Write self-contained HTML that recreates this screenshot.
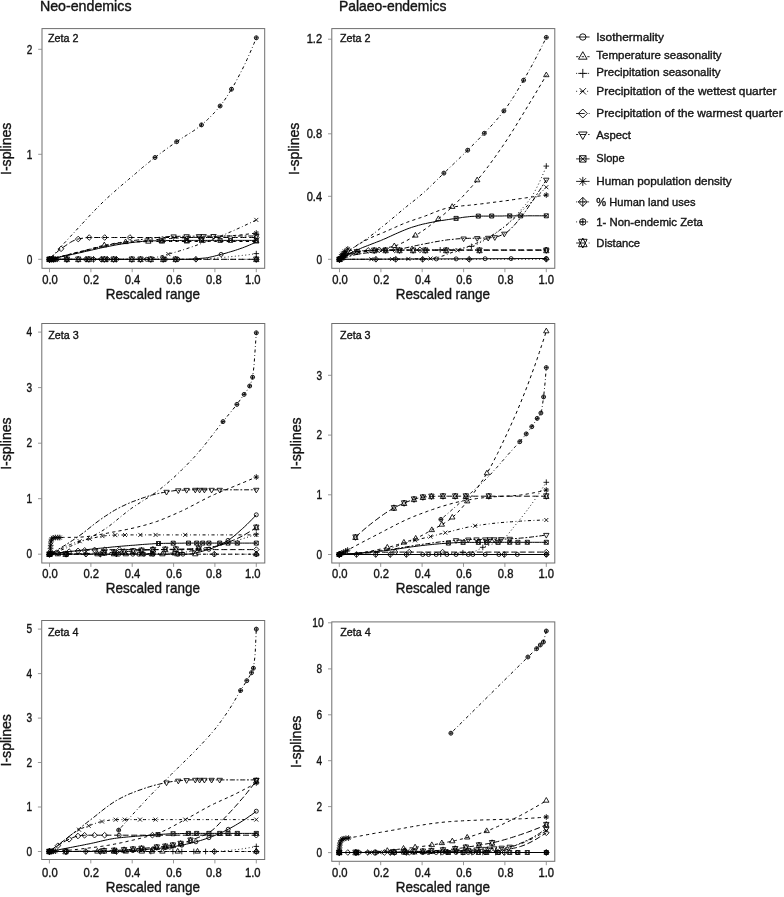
<!DOCTYPE html>
<html><head><meta charset="utf-8"><title>I-splines</title>
<style>html,body{margin:0;padding:0;background:#fff}svg{display:block;will-change:transform}</style>
</head><body>
<svg width="784" height="897" viewBox="0 0 784 897" font-family="'Liberation Sans', sans-serif" fill="#141414" stroke="#141414" stroke-width="0.38">
<rect width="784" height="897" fill="#fff" stroke="none"/>
<text x="39.9" y="11.4" font-size="13.9" textLength="91.6" lengthAdjust="spacingAndGlyphs">Neo-endemics</text>
<text x="339.0" y="11.4" font-size="13.9" textLength="107.4" lengthAdjust="spacingAndGlyphs">Palaeo-endemics</text>
<g><path d="M49.5 259.3L51.8 259.3L54.1 259.3L56.5 259.3L58.8 259.3L61.1 259.3L63.4 259.3L65.8 259.3L68.1 259.3L70.4 259.3L72.7 259.3L75.1 259.3L77.4 259.3L79.7 259.3L82.0 259.3L84.4 259.3L86.7 259.3L89.0 259.3L91.3 259.3L93.6 259.3L96.0 259.3L98.3 259.3L100.6 259.3L102.9 259.3L105.3 259.3L107.6 259.3L109.9 259.3L112.2 259.3L114.6 259.3L116.9 259.3L119.2 259.3L121.5 259.3L123.9 259.3L126.2 259.3L128.5 259.3L130.8 259.3L133.1 259.3L135.5 259.3L137.8 259.3L140.1 259.3L142.4 259.3L144.8 259.3L147.1 259.3L149.4 259.3L151.7 259.3L154.1 259.3L156.4 259.3L158.7 259.3L161.0 259.3L163.4 259.3L165.7 259.3L168.0 259.3L170.3 259.3L172.7 259.3L175.0 259.3L177.3 259.3L179.6 259.3L181.9 259.3L183.9 259.3L184.3 259.3L186.6 259.3L188.9 259.2L191.2 259.1L193.6 259.0L195.9 258.8L198.2 258.6L200.5 258.4L202.9 258.2L204.6 258.0L205.2 258.0L207.5 257.7L209.8 257.2L212.2 256.7L214.5 256.1L216.8 255.5L219.1 254.9L221.1 254.4L221.4 254.3L223.8 253.7L226.1 253.1L228.4 252.4L230.7 251.7L233.1 251.0L235.4 250.3L237.7 249.5L239.8 248.8L240.0 248.7L242.4 247.9L244.7 247.0L247.0 246.1L249.3 245.1L251.7 244.1L254.0 243.0L256.3 242.0" fill="none" stroke="#000" stroke-width="1.0"/><circle cx="49.5" cy="259.3" r="2.0" fill="none" stroke="#000" stroke-width="0.85"/><circle cx="146.7" cy="259.3" r="2.0" fill="none" stroke="#000" stroke-width="0.85"/><circle cx="165.3" cy="259.3" r="2.0" fill="none" stroke="#000" stroke-width="0.85"/><circle cx="177.7" cy="259.3" r="2.0" fill="none" stroke="#000" stroke-width="0.85"/><circle cx="221.1" cy="254.4" r="2.0" fill="none" stroke="#000" stroke-width="0.85"/><path d="M49.5 259.3L51.8 258.7L54.1 258.1L56.5 257.5L58.8 256.9L61.1 256.4L63.4 255.8L65.8 255.2L68.1 254.6L70.2 254.1L70.4 254.0L72.7 253.4L75.1 252.8L77.4 252.2L79.7 251.6L82.0 251.1L84.4 250.5L86.7 249.9L89.0 249.3L90.9 248.8L91.3 248.7L93.6 248.0L96.0 247.4L98.3 246.7L100.6 246.1L102.9 245.5L104.3 245.2L105.3 245.0L107.6 244.6L109.9 244.1L112.2 243.7L114.6 243.3L116.9 242.9L119.2 242.6L121.5 242.3L123.9 242.2L125.6 242.1L126.2 242.1L128.5 242.0L130.8 241.9L133.1 241.9L135.5 241.8L137.8 241.8L140.1 241.8L142.4 241.7L144.8 241.7L147.1 241.6L149.4 241.6L151.7 241.6L154.1 241.6L156.4 241.5L158.7 241.5L161.0 241.5L163.4 241.5L165.7 241.5L168.0 241.5L170.3 241.5L172.7 241.5L173.6 241.5L175.0 241.5L177.3 241.5L179.6 241.5L181.9 241.5L184.3 241.5L186.6 241.5L188.9 241.5L191.2 241.5L193.6 241.5L195.9 241.5L198.2 241.5L200.5 241.5L202.9 241.5L205.2 241.5L207.5 241.5L209.8 241.5L212.2 241.5L214.5 241.5L216.8 241.5L219.1 241.5L221.4 241.5L223.8 241.5L226.1 241.5L228.4 241.5L230.7 241.5L233.1 241.5L235.4 241.5L237.7 241.5L240.0 241.5L242.4 241.5L244.7 241.5L247.0 241.5L249.3 241.5L251.7 241.5L254.0 241.5L256.3 241.5" fill="none" stroke="#000" stroke-width="1.0" stroke-dasharray="3.2 3.2"/><path d="M49.5 256.2L52.2 260.9L46.8 260.9Z" fill="none" stroke="#000" stroke-width="0.85"/><path d="M104.3 242.1L107.0 246.8L101.6 246.8Z" fill="none" stroke="#000" stroke-width="0.85"/><path d="M125.6 239.0L128.3 243.6L122.9 243.6Z" fill="none" stroke="#000" stroke-width="0.85"/><path d="M148.4 238.5L151.0 243.2L145.7 243.2Z" fill="none" stroke="#000" stroke-width="0.85"/><path d="M162.0 238.4L164.7 243.0L159.3 243.0Z" fill="none" stroke="#000" stroke-width="0.85"/><path d="M186.8 238.3L189.5 243.0L184.1 243.0Z" fill="none" stroke="#000" stroke-width="0.85"/><path d="M256.3 238.3L259.0 243.0L253.6 243.0Z" fill="none" stroke="#000" stroke-width="0.85"/><path d="M49.5 259.3L51.8 259.3L54.1 259.3L56.5 259.3L58.8 259.3L61.1 259.3L63.4 259.3L65.8 259.3L68.1 259.3L70.4 259.3L72.7 259.3L75.1 259.3L77.4 259.3L79.7 259.3L82.0 259.3L84.4 259.3L86.7 259.3L89.0 259.3L91.3 259.3L93.6 259.3L96.0 259.3L98.3 259.3L100.6 259.3L102.9 259.3L105.3 259.3L107.6 259.3L109.9 259.3L112.2 259.3L114.6 259.3L116.9 259.3L119.2 259.3L121.5 259.3L123.9 259.3L126.2 259.3L128.5 259.3L130.8 259.3L133.1 259.3L135.5 259.3L137.8 259.3L140.1 259.3L142.4 259.3L144.8 259.3L147.1 259.3L149.4 259.3L151.7 259.3L154.1 259.3L156.4 259.3L158.7 259.3L161.0 259.3L163.4 259.3L165.7 259.3L168.0 259.3L170.3 259.3L172.7 259.3L175.0 259.3L177.3 259.3L179.6 259.3L181.9 259.3L184.3 259.3L186.6 259.3L188.9 259.3L191.2 259.3L193.6 259.3L194.3 259.3L195.9 259.3L198.2 259.2L200.5 259.2L202.9 259.1L205.2 258.9L207.5 258.8L209.8 258.6L212.2 258.4L214.5 258.2L216.8 258.0L219.1 257.8L221.4 257.5L223.8 257.3L225.3 257.2L226.1 257.1L228.4 256.9L230.7 256.7L233.1 256.5L235.4 256.2L237.7 256.0L240.0 255.7L242.4 255.4L244.7 255.2L247.0 254.9L249.3 254.6L251.7 254.3L254.0 253.9L256.3 253.6" fill="none" stroke="#000" stroke-width="1.0" stroke-dasharray="0.9 2.6"/><path d="M46.7 259.3H52.3M49.5 256.5V262.1" fill="none" stroke="#000" stroke-width="0.85"/><path d="M253.5 253.6H259.1M256.3 250.8V256.5" fill="none" stroke="#000" stroke-width="0.85"/><path d="M49.5 259.3L51.8 259.3L54.1 259.3L56.5 259.3L58.8 259.3L61.1 259.3L63.4 259.3L65.8 259.3L68.1 259.3L70.4 259.3L72.7 259.3L75.1 259.3L77.4 259.3L79.7 259.3L82.0 259.3L84.4 259.3L86.7 259.3L89.0 259.3L91.3 259.3L93.6 259.3L96.0 259.3L98.3 259.3L100.6 259.3L102.9 259.3L105.3 259.3L107.6 259.3L109.9 259.3L112.2 259.3L114.6 259.3L116.9 259.3L119.2 259.3L121.5 259.3L123.9 259.3L126.2 259.3L128.5 259.3L130.8 259.3L133.1 259.3L135.5 259.3L137.8 259.3L140.1 259.3L142.4 259.3L142.6 259.3L144.8 259.2L147.1 259.0L149.4 258.7L151.7 258.3L154.1 257.8L156.4 257.3L158.7 256.7L161.0 256.0L163.4 255.4L165.7 254.8L168.0 254.2L168.4 254.1L170.3 253.6L172.7 252.9L175.0 252.3L177.3 251.6L179.6 250.9L181.9 250.2L184.3 249.5L186.6 248.7L188.9 247.9L191.2 247.1L193.6 246.3L195.9 245.5L198.2 244.6L200.5 243.8L202.9 242.9L205.2 242.0L207.5 241.2L209.8 240.3L212.2 239.4L214.5 238.5L214.9 238.3L216.8 237.6L219.1 236.7L221.4 235.7L223.8 234.8L226.1 233.8L228.4 232.8L230.7 231.8L233.1 230.8L235.4 229.8L237.7 228.7L240.0 227.7L242.4 226.6L244.7 225.5L247.0 224.4L249.3 223.3L251.7 222.2L254.0 221.1L256.3 219.9" fill="none" stroke="#000" stroke-width="1.0" stroke-dasharray="0.8 2.55 3.1 2.55"/><path d="M47.5 257.3L51.5 261.3M47.5 261.3L51.5 257.3" fill="none" stroke="#000" stroke-width="0.85"/><path d="M166.4 252.1L170.4 256.1M166.4 256.1L170.4 252.1" fill="none" stroke="#000" stroke-width="0.85"/><path d="M254.3 217.9L258.3 221.9M254.3 221.9L258.3 217.9" fill="none" stroke="#000" stroke-width="0.85"/><path d="M49.5 259.3L51.8 256.9L54.1 254.6L56.5 252.5L58.8 250.5L61.1 248.8L61.1 248.8L63.4 247.1L65.8 245.5L68.1 243.9L70.4 242.4L72.7 241.1L75.1 240.0L77.4 239.2L78.2 239.0L79.7 238.7L82.0 238.3L84.4 237.9L86.7 237.6L89.0 237.5L89.2 237.5L91.3 237.5L93.6 237.5L96.0 237.5L98.3 237.5L100.6 237.5L102.9 237.5L105.3 237.5L107.6 237.5L109.9 237.5L111.5 237.5L112.2 237.5L114.6 237.5L116.9 237.5L119.2 237.5L121.5 237.5L123.9 237.5L126.2 237.5L128.5 237.5L130.8 237.5L133.1 237.5L135.5 237.5L137.8 237.5L140.1 237.5L142.4 237.5L144.8 237.5L147.1 237.5L149.4 237.5L151.7 237.5L154.1 237.5L156.4 237.5L158.7 237.5L161.0 237.5L163.4 237.5L165.7 237.5L168.0 237.5L170.3 237.5L172.7 237.5L175.0 237.5L177.3 237.5L179.6 237.5L181.9 237.5L184.3 237.5L186.6 237.5L188.9 237.5L191.2 237.5L193.6 237.5L195.9 237.5L198.2 237.5L200.5 237.5L202.9 237.5L205.2 237.5L207.5 237.5L209.8 237.5L212.2 237.5L214.5 237.5L216.8 237.5L219.1 237.5L221.4 237.5L223.8 237.5L226.1 237.5L228.4 237.5L230.7 237.5L233.1 237.5L235.4 237.5L237.7 237.5L240.0 237.5L242.4 237.5L244.7 237.5L247.0 237.5L249.3 237.5L251.7 237.5L254.0 237.5L256.3 237.5" fill="none" stroke="#000" stroke-width="1.0" stroke-dasharray="6 2.6"/><path d="M49.5 256.5L52.3 259.3L49.5 262.1L46.7 259.3Z" fill="none" stroke="#000" stroke-width="0.85"/><path d="M61.1 246.0L63.9 248.8L61.1 251.6L58.3 248.8Z" fill="none" stroke="#000" stroke-width="0.85"/><path d="M78.2 236.2L81.1 239.0L78.2 241.9L75.4 239.0Z" fill="none" stroke="#000" stroke-width="0.85"/><path d="M89.2 234.7L92.0 237.5L89.2 240.3L86.4 237.5Z" fill="none" stroke="#000" stroke-width="0.85"/><path d="M104.7 234.7L107.5 237.5L104.7 240.3L101.9 237.5Z" fill="none" stroke="#000" stroke-width="0.85"/><path d="M129.9 234.7L132.8 237.5L129.9 240.3L127.1 237.5Z" fill="none" stroke="#000" stroke-width="0.85"/><path d="M256.3 234.7L259.1 237.5L256.3 240.3L253.5 237.5Z" fill="none" stroke="#000" stroke-width="0.85"/><path d="M49.5 259.3L51.8 258.7L54.1 258.2L56.5 257.6L58.8 257.0L61.1 256.5L63.4 255.9L65.8 255.3L68.1 254.8L70.2 254.3L70.4 254.2L72.7 253.6L75.1 253.1L77.4 252.5L79.7 251.9L82.0 251.3L84.4 250.7L86.7 250.1L89.0 249.6L90.9 249.1L91.3 249.0L93.6 248.4L96.0 247.8L98.3 247.2L100.6 246.7L102.9 246.1L104.3 245.9L105.3 245.7L107.6 245.2L109.9 244.7L112.2 244.3L114.6 243.8L116.9 243.4L119.2 243.0L121.5 242.5L123.9 242.1L126.2 241.7L128.5 241.3L130.8 241.0L133.1 240.6L135.5 240.3L137.8 240.0L140.1 239.7L142.4 239.4L142.6 239.4L144.8 239.1L147.1 238.8L149.4 238.5L151.7 238.2L154.1 237.9L156.4 237.6L158.7 237.4L161.0 237.1L163.4 236.9L165.7 236.8L168.0 236.6L170.3 236.5L172.7 236.4L173.6 236.4L175.0 236.4L177.3 236.4L179.6 236.3L181.9 236.3L184.3 236.3L186.6 236.3L188.9 236.3L191.2 236.2L193.6 236.2L195.9 236.2L198.2 236.2L200.5 236.2L202.9 236.2L205.2 236.1L207.5 236.1L209.8 236.1L212.2 236.1L214.5 236.1L216.8 236.1L219.1 236.1L221.4 236.1L223.8 236.0L226.1 236.0L228.4 236.0L230.7 236.0L233.1 236.0L235.4 236.0L237.7 236.0L240.0 236.0L242.4 236.0L244.7 236.0L247.0 236.0L249.3 236.0L251.7 236.0L254.0 236.0L256.3 236.0" fill="none" stroke="#000" stroke-width="1.0" stroke-dasharray="1.8 1.8 5 1.8"/><path d="M49.5 262.4L52.2 257.7L46.8 257.7Z" fill="none" stroke="#000" stroke-width="0.85"/><path d="M173.6 239.5L176.3 234.9L170.9 234.9Z" fill="none" stroke="#000" stroke-width="0.85"/><path d="M186.6 239.4L189.3 234.7L183.9 234.7Z" fill="none" stroke="#000" stroke-width="0.85"/><path d="M199.0 239.3L201.7 234.6L196.3 234.6Z" fill="none" stroke="#000" stroke-width="0.85"/><path d="M203.6 239.3L206.3 234.6L200.9 234.6Z" fill="none" stroke="#000" stroke-width="0.85"/><path d="M213.5 239.2L216.2 234.5L210.8 234.5Z" fill="none" stroke="#000" stroke-width="0.85"/><path d="M256.3 239.1L259.0 234.4L253.6 234.4Z" fill="none" stroke="#000" stroke-width="0.85"/><path d="M49.5 259.3L51.8 258.8L54.1 258.3L56.5 257.8L58.8 257.3L61.1 256.8L63.4 256.3L65.8 255.8L68.1 255.3L70.2 254.9L70.4 254.8L72.7 254.3L75.1 253.8L77.4 253.3L79.7 252.8L82.0 252.3L84.4 251.7L86.7 251.2L89.0 250.7L90.9 250.3L91.3 250.2L93.6 249.6L96.0 249.1L98.3 248.5L100.6 248.0L102.9 247.5L104.3 247.2L105.3 247.0L107.6 246.6L109.9 246.1L112.2 245.7L114.6 245.2L116.9 244.8L119.2 244.4L121.5 244.0L123.9 243.6L126.2 243.3L128.5 242.9L130.8 242.7L132.2 242.5L133.1 242.4L135.5 242.1L137.8 241.9L140.1 241.7L142.4 241.4L144.8 241.2L147.1 241.1L149.4 240.9L151.7 240.8L152.9 240.8L154.1 240.8L156.4 240.8L158.7 240.7L161.0 240.7L163.4 240.6L165.7 240.6L168.0 240.6L170.3 240.5L172.7 240.5L175.0 240.5L177.3 240.5L179.6 240.5L181.9 240.4L184.3 240.4L186.6 240.4L188.9 240.4L191.2 240.4L193.6 240.4L194.3 240.4L195.9 240.4L198.2 240.4L200.5 240.4L202.9 240.4L205.2 240.4L207.5 240.4L209.8 240.4L212.2 240.4L214.5 240.4L216.8 240.4L219.1 240.4L221.4 240.4L223.8 240.4L226.1 240.4L228.4 240.4L230.7 240.4L233.1 240.4L235.4 240.4L237.7 240.4L240.0 240.4L242.4 240.4L244.7 240.4L247.0 240.4L249.3 240.4L251.7 240.4L254.0 240.4L256.3 240.4" fill="none" stroke="#000" stroke-width="1.0"/><path d="M47.5 257.3H51.5V261.3H47.5ZM47.5 257.3L51.5 261.3M47.5 261.3L51.5 257.3" fill="none" stroke="#000" stroke-width="0.85"/><path d="M159.2 238.7H163.2V242.7H159.2ZM159.2 238.7L163.2 242.7M159.2 242.7L163.2 238.7" fill="none" stroke="#000" stroke-width="0.85"/><path d="M184.6 238.4H188.6V242.4H184.6ZM184.6 238.4L188.6 242.4M184.6 242.4L188.6 238.4" fill="none" stroke="#000" stroke-width="0.85"/><path d="M199.5 238.4H203.5V242.4H199.5ZM199.5 238.4L203.5 242.4M199.5 242.4L203.5 238.4" fill="none" stroke="#000" stroke-width="0.85"/><path d="M218.1 238.4H222.1V242.4H218.1ZM218.1 238.4L222.1 242.4M218.1 242.4L222.1 238.4" fill="none" stroke="#000" stroke-width="0.85"/><path d="M228.5 238.4H232.5V242.4H228.5ZM228.5 238.4L232.5 242.4M228.5 242.4L232.5 238.4" fill="none" stroke="#000" stroke-width="0.85"/><path d="M254.3 238.4H258.3V242.4H254.3ZM254.3 238.4L258.3 242.4M254.3 242.4L258.3 238.4" fill="none" stroke="#000" stroke-width="0.85"/><path d="M49.5 259.3L51.8 258.8L54.1 258.3L56.5 257.7L58.8 257.2L61.1 256.7L63.4 256.1L65.8 255.6L68.1 255.1L70.2 254.6L70.4 254.5L72.7 254.0L75.1 253.4L77.4 252.9L79.7 252.3L82.0 251.7L84.4 251.2L86.7 250.6L89.0 250.1L90.9 249.6L91.3 249.5L93.6 249.0L96.0 248.4L98.3 247.9L100.6 247.3L102.9 246.8L105.3 246.3L107.6 245.8L109.9 245.4L111.5 245.1L112.2 245.0L114.6 244.7L116.9 244.3L119.2 244.0L121.5 243.6L123.9 243.3L126.2 243.0L128.5 242.7L130.8 242.4L133.1 242.1L135.5 241.8L137.8 241.5L140.1 241.2L142.4 241.0L144.8 240.7L147.1 240.5L149.4 240.2L151.7 240.0L154.1 239.8L156.4 239.6L158.7 239.4L161.0 239.2L163.4 239.0L165.7 238.8L168.0 238.7L170.3 238.5L172.7 238.4L173.6 238.3L175.0 238.2L177.3 238.1L179.6 238.0L181.9 237.9L184.3 237.8L186.6 237.7L188.9 237.6L191.2 237.5L193.6 237.4L195.9 237.4L198.2 237.3L200.5 237.2L202.9 237.2L205.2 237.1L207.5 237.0L209.8 236.9L212.2 236.8L214.5 236.7L216.8 236.6L219.1 236.5L221.4 236.4L223.8 236.3L225.3 236.2L226.1 236.1L228.4 236.0L230.7 235.8L233.1 235.6L235.4 235.4L237.7 235.2L240.0 235.0L242.4 234.7L244.7 234.4L247.0 234.2L249.3 233.9L251.7 233.6L254.0 233.3L256.3 233.1" fill="none" stroke="#000" stroke-width="1.0" stroke-dasharray="3.2 3.2"/><path d="M47.5 257.3L51.5 261.3M47.5 261.3L51.5 257.3M46.7 259.3H52.3M49.5 256.5V262.1" fill="none" stroke="#000" stroke-width="0.85"/><path d="M48.3 257.3L52.3 261.3M48.3 261.3L52.3 257.3M47.5 259.3H53.2M50.3 256.5V262.1" fill="none" stroke="#000" stroke-width="0.85"/><path d="M49.2 257.3L53.2 261.3M49.2 261.3L53.2 257.3M48.3 259.3H54.0M51.2 256.5V262.1" fill="none" stroke="#000" stroke-width="0.85"/><path d="M50.2 257.3L54.2 261.3M50.2 261.3L54.2 257.3M49.4 259.3H55.0M52.2 256.5V262.1" fill="none" stroke="#000" stroke-width="0.85"/><path d="M51.6 257.3L55.6 261.3M51.6 261.3L55.6 257.3M50.8 259.3H56.5M53.6 256.5V262.1" fill="none" stroke="#000" stroke-width="0.85"/><path d="M53.7 257.3L57.7 261.3M53.7 261.3L57.7 257.3M52.9 259.3H58.5M55.7 256.5V262.1" fill="none" stroke="#000" stroke-width="0.85"/><path d="M55.4 257.3L59.4 261.3M55.4 261.3L59.4 257.3M54.5 259.3H60.2M57.4 256.5V262.1" fill="none" stroke="#000" stroke-width="0.85"/><path d="M254.3 231.1L258.3 235.1M254.3 235.1L258.3 231.1M253.5 233.1H259.1M256.3 230.2V235.9" fill="none" stroke="#000" stroke-width="0.85"/><path d="M49.5 259.3L256.3 259.3" fill="none" stroke="#000" stroke-width="1.0" stroke-dasharray="0.9 2.6"/><path d="M49.5 256.5L52.3 259.3L49.5 262.1L46.7 259.3ZM46.7 259.3H52.3M49.5 256.5V262.1" fill="none" stroke="#000" stroke-width="0.85"/><path d="M51.6 256.5L54.4 259.3L51.6 262.1L48.7 259.3ZM48.7 259.3H54.4M51.6 256.5V262.1" fill="none" stroke="#000" stroke-width="0.85"/><path d="M66.9 256.5L69.7 259.3L66.9 262.1L64.0 259.3ZM64.0 259.3H69.7M66.9 256.5V262.1" fill="none" stroke="#000" stroke-width="0.85"/><path d="M85.9 256.5L88.7 259.3L85.9 262.1L83.1 259.3ZM83.1 259.3H88.7M85.9 256.5V262.1" fill="none" stroke="#000" stroke-width="0.85"/><path d="M93.5 256.5L96.4 259.3L93.5 262.1L90.7 259.3ZM90.7 259.3H96.4M93.5 256.5V262.1" fill="none" stroke="#000" stroke-width="0.85"/><path d="M101.2 256.5L104.0 259.3L101.2 262.1L98.4 259.3ZM98.4 259.3H104.0M101.2 256.5V262.1" fill="none" stroke="#000" stroke-width="0.85"/><path d="M107.4 256.5L110.2 259.3L107.4 262.1L104.6 259.3ZM104.6 259.3H110.2M107.4 256.5V262.1" fill="none" stroke="#000" stroke-width="0.85"/><path d="M116.5 256.5L119.3 259.3L116.5 262.1L113.7 259.3ZM113.7 259.3H119.3M116.5 256.5V262.1" fill="none" stroke="#000" stroke-width="0.85"/><path d="M195.9 256.5L198.7 259.3L195.9 262.1L193.1 259.3ZM193.1 259.3H198.7M195.9 256.5V262.1" fill="none" stroke="#000" stroke-width="0.85"/><path d="M256.3 256.5L259.1 259.3L256.3 262.1L253.5 259.3ZM253.5 259.3H259.1M256.3 256.5V262.1" fill="none" stroke="#000" stroke-width="0.85"/><path d="M49.5 259.3L51.8 256.7L54.1 254.2L56.5 251.6L58.8 249.1L61.1 246.5L63.4 244.0L65.8 241.5L68.1 239.0L70.2 236.7L70.4 236.5L72.7 234.0L75.1 231.5L77.4 228.9L79.7 226.4L82.0 223.9L84.4 221.4L86.7 218.9L89.0 216.4L91.3 213.9L93.6 211.5L96.0 209.1L98.3 206.7L100.6 204.4L102.9 202.1L104.3 200.8L105.3 199.9L107.6 197.7L109.9 195.6L112.2 193.5L114.6 191.5L116.9 189.4L119.2 187.4L121.5 185.4L123.9 183.4L126.2 181.5L128.5 179.5L130.8 177.5L132.2 176.4L133.1 175.6L135.5 173.6L137.8 171.6L140.1 169.6L142.4 167.6L144.8 165.7L147.1 163.8L149.4 161.9L151.7 160.0L154.1 158.2L155.0 157.5L156.4 156.4L158.7 154.6L161.0 152.9L163.4 151.2L165.7 149.5L168.0 147.8L170.3 146.2L172.7 144.5L175.0 142.9L176.7 141.7L177.3 141.3L179.6 139.7L181.9 138.2L184.3 136.7L186.6 135.2L188.9 133.8L191.2 132.3L193.6 130.8L195.9 129.2L198.2 127.5L200.5 125.7L201.5 124.9L202.9 123.8L205.2 121.7L207.5 119.6L209.8 117.4L212.2 115.0L214.5 112.5L216.8 109.9L219.1 107.2L220.1 106.0L221.4 104.3L223.8 101.2L226.1 97.8L228.4 94.2L230.7 90.4L231.5 89.2L233.1 86.6L235.4 82.5L237.7 78.2L240.0 73.8L242.4 69.2L243.9 66.1L244.7 64.5L247.0 59.5L249.3 54.4L251.7 49.0L254.0 43.5L256.3 37.8" fill="none" stroke="#000" stroke-width="1.0" stroke-dasharray="0.8 2.55 3.1 2.55"/><circle cx="49.5" cy="259.3" r="2.0" fill="none" stroke="#000" stroke-width="0.85"/><path d="M47.5 259.3H51.5M49.5 257.3V261.3" fill="none" stroke="#000" stroke-width="0.85"/><circle cx="155.0" cy="157.5" r="2.0" fill="none" stroke="#000" stroke-width="0.85"/><path d="M153.0 157.5H157.0M155.0 155.5V159.5" fill="none" stroke="#000" stroke-width="0.85"/><circle cx="176.7" cy="141.7" r="2.0" fill="none" stroke="#000" stroke-width="0.85"/><path d="M174.7 141.7H178.7M176.7 139.7V143.7" fill="none" stroke="#000" stroke-width="0.85"/><circle cx="201.5" cy="124.9" r="2.0" fill="none" stroke="#000" stroke-width="0.85"/><path d="M199.5 124.9H203.5M201.5 122.9V126.9" fill="none" stroke="#000" stroke-width="0.85"/><circle cx="220.1" cy="106.0" r="2.0" fill="none" stroke="#000" stroke-width="0.85"/><path d="M218.1 106.0H222.1M220.1 104.0V108.0" fill="none" stroke="#000" stroke-width="0.85"/><circle cx="231.5" cy="89.2" r="2.0" fill="none" stroke="#000" stroke-width="0.85"/><path d="M229.5 89.2H233.5M231.5 87.2V91.2" fill="none" stroke="#000" stroke-width="0.85"/><circle cx="256.3" cy="37.8" r="2.0" fill="none" stroke="#000" stroke-width="0.85"/><path d="M254.3 37.8H258.3M256.3 35.8V39.8" fill="none" stroke="#000" stroke-width="0.85"/><path d="M49.5 259.3L256.3 259.3" fill="none" stroke="#000" stroke-width="1.0" stroke-dasharray="6 2.6"/><path d="M49.5 256.2L52.2 261.6L46.8 261.6ZM49.5 262.4L52.2 257.0L46.8 257.0Z" fill="none" stroke="#000" stroke-width="0.85"/><path d="M53.6 256.2L56.3 261.6L50.9 261.6ZM53.6 262.4L56.3 257.0L50.9 257.0Z" fill="none" stroke="#000" stroke-width="0.85"/><path d="M66.9 256.2L69.6 261.6L64.2 261.6ZM66.9 262.4L69.6 257.0L64.2 257.0Z" fill="none" stroke="#000" stroke-width="0.85"/><path d="M78.2 256.2L80.9 261.6L75.6 261.6ZM78.2 262.4L80.9 257.0L75.6 257.0Z" fill="none" stroke="#000" stroke-width="0.85"/><path d="M88.8 256.2L91.5 261.6L86.1 261.6ZM88.8 262.4L91.5 257.0L86.1 257.0Z" fill="none" stroke="#000" stroke-width="0.85"/><path d="M104.3 256.2L107.0 261.6L101.6 261.6ZM104.3 262.4L107.0 257.0L101.6 257.0Z" fill="none" stroke="#000" stroke-width="0.85"/><path d="M113.6 256.2L116.3 261.6L110.9 261.6ZM113.6 262.4L116.3 257.0L110.9 257.0Z" fill="none" stroke="#000" stroke-width="0.85"/><path d="M131.8 256.2L134.5 261.6L129.1 261.6ZM131.8 262.4L134.5 257.0L129.1 257.0Z" fill="none" stroke="#000" stroke-width="0.85"/><path d="M140.5 256.2L143.2 261.6L137.8 261.6ZM140.5 262.4L143.2 257.0L137.8 257.0Z" fill="none" stroke="#000" stroke-width="0.85"/><path d="M150.8 256.2L153.5 261.6L148.1 261.6ZM150.8 262.4L153.5 257.0L148.1 257.0Z" fill="none" stroke="#000" stroke-width="0.85"/><path d="M163.2 256.2L165.9 261.6L160.5 261.6ZM163.2 262.4L165.9 257.0L160.5 257.0Z" fill="none" stroke="#000" stroke-width="0.85"/><path d="M175.6 256.2L178.3 261.6L173.0 261.6ZM175.6 262.4L178.3 257.0L173.0 257.0Z" fill="none" stroke="#000" stroke-width="0.85"/><path d="M256.3 256.2L259.0 261.6L253.6 261.6ZM256.3 262.4L259.0 257.0L253.6 257.0Z" fill="none" stroke="#000" stroke-width="0.85"/></g>
<rect x="42.0" y="28.6" width="222.7" height="239.7" fill="none" stroke="#6e6e6e" stroke-width="1"/>
<path d="M49.5 268.3v3.9M90.9 268.3v3.9M132.2 268.3v3.9M173.6 268.3v3.9M214.9 268.3v3.9M256.3 268.3v3.9M42.0 49.3h-3.8M42.0 154.3h-3.8M42.0 259.3h-3.8" stroke="#858585" stroke-width="0.85" fill="none"/>
<text x="50.0" y="283.8" font-size="11.9" text-anchor="middle" textLength="15.6" lengthAdjust="spacingAndGlyphs">0.0</text>
<text x="91.3" y="283.8" font-size="11.9" text-anchor="middle" textLength="15.6" lengthAdjust="spacingAndGlyphs">0.2</text>
<text x="132.5" y="283.8" font-size="11.9" text-anchor="middle" textLength="15.6" lengthAdjust="spacingAndGlyphs">0.4</text>
<text x="174.1" y="283.8" font-size="11.9" text-anchor="middle" textLength="15.6" lengthAdjust="spacingAndGlyphs">0.6</text>
<text x="213.9" y="283.8" font-size="11.9" text-anchor="middle" textLength="15.6" lengthAdjust="spacingAndGlyphs">0.8</text>
<text x="252.7" y="283.8" font-size="11.9" text-anchor="middle" textLength="15.6" lengthAdjust="spacingAndGlyphs">1.0</text>
<text x="32.3" y="53.5" font-size="11.9" text-anchor="end" textLength="5.6" lengthAdjust="spacingAndGlyphs">2</text>
<text x="32.3" y="158.5" font-size="11.9" text-anchor="end" textLength="5.6" lengthAdjust="spacingAndGlyphs">1</text>
<text x="32.3" y="263.5" font-size="11.9" text-anchor="end" textLength="5.6" lengthAdjust="spacingAndGlyphs">0</text>
<text x="152.9" y="299.3" font-size="14.8" text-anchor="middle" textLength="94.2" lengthAdjust="spacingAndGlyphs">Rescaled range</text>
<text x="11.2" y="148.8" font-size="15.0" text-anchor="middle" textLength="52.4" lengthAdjust="spacingAndGlyphs" transform="rotate(-90 11.2 148.8)">I-splines</text>
<text x="47.9" y="41.5" font-size="11.4" textLength="30.5" lengthAdjust="spacingAndGlyphs">Zeta 2</text>
<g><path d="M339.5 259.3L546.3 258.5" fill="none" stroke="#000" stroke-width="1.0"/><circle cx="339.5" cy="259.3" r="2.0" fill="none" stroke="#000" stroke-width="0.85"/><circle cx="436.3" cy="258.9" r="2.0" fill="none" stroke="#000" stroke-width="0.85"/><circle cx="456.1" cy="258.9" r="2.0" fill="none" stroke="#000" stroke-width="0.85"/><circle cx="485.1" cy="258.7" r="2.0" fill="none" stroke="#000" stroke-width="0.85"/><circle cx="511.1" cy="258.6" r="2.0" fill="none" stroke="#000" stroke-width="0.85"/><circle cx="546.3" cy="258.5" r="2.0" fill="none" stroke="#000" stroke-width="0.85"/><path d="M339.5 259.3L341.8 258.0L344.1 256.8L346.5 255.8L348.8 254.9L349.8 254.6L351.1 254.2L353.4 253.7L355.8 253.2L358.1 252.7L360.4 252.3L362.7 252.0L365.1 251.6L367.4 251.2L369.7 250.8L370.5 250.6L372.0 250.4L374.4 249.9L376.7 249.6L379.0 249.2L381.3 248.8L383.6 248.4L386.0 248.0L388.3 247.5L390.6 247.0L392.9 246.4L394.3 246.1L395.3 245.8L397.6 245.0L399.9 244.0L402.2 242.9L404.6 241.8L406.9 240.5L409.2 239.2L411.5 237.8L413.9 236.4L415.4 235.5L416.2 235.1L418.5 233.6L420.8 232.1L423.1 230.5L425.5 228.9L427.8 227.2L430.1 225.4L432.4 223.6L434.8 221.8L437.1 220.0L438.4 219.0L439.4 218.1L441.7 216.2L444.1 214.2L446.4 212.2L448.7 210.1L451.0 208.0L452.2 206.9L453.4 205.8L455.7 203.5L458.0 201.2L460.3 198.9L462.7 196.5L465.0 194.0L467.3 191.5L469.6 189.0L471.9 186.4L474.3 183.7L476.6 181.0L477.2 180.2L478.9 178.2L481.2 175.4L483.6 172.4L485.9 169.4L488.2 166.4L490.5 163.2L492.9 160.0L495.2 156.8L497.5 153.5L499.8 150.2L502.2 146.8L504.5 143.4L504.9 142.8L506.8 140.0L509.1 136.4L511.4 132.8L513.8 129.1L516.1 125.3L518.4 121.5L520.7 117.7L523.1 113.9L525.4 110.1L525.6 109.7L527.7 106.3L530.0 102.4L532.4 98.6L534.7 94.7L537.0 90.9L539.3 87.0L541.7 83.1L544.0 79.1L546.3 75.2" fill="none" stroke="#000" stroke-width="1.0" stroke-dasharray="3.2 3.2"/><path d="M339.5 256.2L342.2 260.9L336.8 260.9Z" fill="none" stroke="#000" stroke-width="0.85"/><path d="M394.3 243.0L397.0 247.6L391.6 247.6Z" fill="none" stroke="#000" stroke-width="0.85"/><path d="M415.4 232.4L418.1 237.1L412.7 237.1Z" fill="none" stroke="#000" stroke-width="0.85"/><path d="M438.4 215.9L441.0 220.5L435.7 220.5Z" fill="none" stroke="#000" stroke-width="0.85"/><path d="M452.2 203.7L454.9 208.4L449.5 208.4Z" fill="none" stroke="#000" stroke-width="0.85"/><path d="M477.2 177.1L479.9 181.8L474.5 181.8Z" fill="none" stroke="#000" stroke-width="0.85"/><path d="M546.3 72.1L549.0 76.7L543.6 76.7Z" fill="none" stroke="#000" stroke-width="0.85"/><path d="M339.5 259.3L341.8 257.5L344.1 255.8L346.5 254.4L348.8 253.3L349.8 253.0L351.1 252.7L353.4 252.2L355.8 251.7L358.1 251.3L360.4 251.0L362.7 250.7L365.1 250.4L367.4 250.3L369.7 250.2L370.5 250.2L372.0 250.2L374.4 250.1L376.7 250.1L379.0 250.1L381.3 250.1L383.6 250.1L386.0 250.1L388.3 250.0L390.6 250.0L392.9 250.0L395.3 250.0L397.6 250.0L399.9 250.0L402.2 250.0L404.6 250.0L406.9 250.0L409.2 250.0L411.5 250.0L413.9 250.0L416.2 250.0L418.5 250.0L420.8 250.0L423.1 250.0L425.5 250.0L427.8 250.0L430.1 249.9L432.4 249.9L434.8 249.9L437.1 249.9L439.4 249.9L441.7 249.9L442.9 249.9L444.1 249.8L446.4 249.8L448.7 249.6L451.0 249.5L453.4 249.3L455.7 249.0L458.0 248.7L460.3 248.4L462.7 248.0L465.0 247.6L467.3 247.2L469.6 246.8L471.4 246.4L471.9 246.3L474.3 245.5L476.6 244.6L478.9 243.4L481.2 242.1L483.6 240.8L484.3 240.4L485.9 239.5L488.2 238.1L490.5 236.7L492.9 235.2L495.2 233.6L497.5 232.0L499.8 230.3L502.2 228.5L504.5 226.6L504.9 226.2L506.8 224.6L509.1 222.5L511.4 220.1L513.8 217.7L516.1 215.2L518.4 212.6L519.6 211.3L520.7 210.0L523.1 207.5L525.4 204.8L527.7 202.0L530.0 198.9L531.8 196.3L532.4 195.5L534.7 191.6L537.0 187.2L539.3 182.5L541.7 177.3L544.0 171.9L546.3 166.1" fill="none" stroke="#000" stroke-width="1.0" stroke-dasharray="0.9 2.6"/><path d="M336.7 259.3H342.3M339.5 256.5V262.1" fill="none" stroke="#000" stroke-width="0.85"/><path d="M437.4 249.9H443.0M440.2 247.0V252.7" fill="none" stroke="#000" stroke-width="0.85"/><path d="M468.6 246.4H474.3M471.4 243.6V249.2" fill="none" stroke="#000" stroke-width="0.85"/><path d="M543.5 166.1H549.1M546.3 163.2V168.9" fill="none" stroke="#000" stroke-width="0.85"/><path d="M339.5 259.3L341.8 259.3L344.1 259.3L346.5 259.3L348.8 259.3L351.1 259.3L353.4 259.3L355.8 259.3L358.1 259.3L360.4 259.3L362.7 259.3L365.1 259.3L367.4 259.2L369.7 259.2L372.0 259.2L374.4 259.2L376.7 259.2L379.0 259.2L381.3 259.2L383.6 259.1L386.0 259.1L388.3 259.1L390.6 259.1L392.9 259.1L395.3 259.0L397.6 259.0L399.9 259.0L402.2 259.0L404.6 258.9L406.9 258.9L409.2 258.9L411.5 258.8L413.9 258.8L416.2 258.8L418.5 258.7L420.8 258.7L423.1 258.7L425.5 258.6L427.8 258.6L430.1 258.5L430.5 258.5L432.4 258.4L434.8 258.1L437.1 257.6L439.4 257.0L441.7 256.3L444.1 255.5L446.4 254.6L448.7 253.7L451.0 252.8L453.4 251.9L455.7 251.0L457.6 250.3L458.0 250.2L460.3 249.4L462.7 248.6L465.0 247.7L467.3 246.9L469.6 246.0L471.9 245.1L474.3 244.1L476.6 243.2L478.9 242.1L481.2 241.1L483.6 240.0L484.3 239.6L485.9 238.8L488.2 237.5L490.5 236.1L492.9 234.7L495.2 233.2L497.5 231.6L499.8 230.0L502.2 228.3L504.5 226.6L504.9 226.2L506.8 224.8L509.1 222.8L511.4 220.8L513.8 218.7L516.1 216.5L518.4 214.3L520.7 212.0L523.1 209.8L525.4 207.5L525.6 207.3L527.7 205.3L530.0 203.1L532.4 200.9L534.7 198.6L537.0 196.4L539.3 194.1L541.7 191.8L544.0 189.5L546.3 187.2" fill="none" stroke="#000" stroke-width="1.0" stroke-dasharray="0.8 2.55 3.1 2.55"/><path d="M337.5 257.3L341.5 261.3M337.5 261.3L341.5 257.3" fill="none" stroke="#000" stroke-width="0.85"/><path d="M369.3 257.2L373.3 261.2M369.3 261.2L373.3 257.2" fill="none" stroke="#000" stroke-width="0.85"/><path d="M390.0 257.1L394.0 261.1M390.0 261.1L394.0 257.1" fill="none" stroke="#000" stroke-width="0.85"/><path d="M406.4 256.9L410.4 260.9M406.4 260.9L410.4 256.9" fill="none" stroke="#000" stroke-width="0.85"/><path d="M428.5 256.5L432.5 260.5M428.5 260.5L432.5 256.5" fill="none" stroke="#000" stroke-width="0.85"/><path d="M455.6 248.3L459.6 252.3M455.6 252.3L459.6 248.3" fill="none" stroke="#000" stroke-width="0.85"/><path d="M544.3 185.2L548.3 189.2M544.3 189.2L548.3 185.2" fill="none" stroke="#000" stroke-width="0.85"/><path d="M339.5 259.3L341.8 257.4L344.1 255.7L346.5 254.3L347.8 253.8L348.8 253.5L351.1 252.8L353.4 252.2L355.8 251.7L358.1 251.4L360.2 251.1L360.4 251.1L362.7 250.9L365.1 250.6L367.4 250.5L369.7 250.3L372.0 250.1L374.4 250.0L376.7 249.9L379.0 249.9L380.9 249.9L381.3 249.9L383.6 249.9L386.0 249.9L388.3 249.9L390.6 249.9L392.9 249.9L395.3 249.9L397.6 249.9L399.9 249.9L402.2 249.9L404.6 249.9L406.9 249.9L409.2 249.9L411.5 249.9L413.9 249.9L416.2 249.9L418.5 249.9L420.8 249.9L423.1 249.9L425.5 249.9L427.8 249.9L430.1 249.9L432.4 249.9L434.8 249.9L437.1 249.9L439.4 249.9L441.7 249.9L444.1 249.9L446.4 249.9L448.7 249.9L451.0 249.9L453.4 249.9L455.7 249.9L458.0 249.9L460.3 249.9L462.7 249.9L465.0 249.9L467.3 249.9L469.6 249.9L471.9 249.9L474.3 249.9L476.6 249.9L478.9 249.9L481.2 249.9L483.6 249.9L485.9 249.9L488.2 249.9L490.5 249.9L492.9 249.9L495.2 249.9L497.5 249.9L499.8 249.9L502.2 249.9L504.5 249.9L506.8 249.9L509.1 249.9L511.4 249.9L513.8 249.9L516.1 249.9L518.4 249.9L520.7 249.9L523.1 249.9L525.4 249.9L527.7 249.9L530.0 249.9L532.4 249.9L534.7 249.9L537.0 249.9L539.3 249.9L541.7 249.9L544.0 249.9L546.3 249.9" fill="none" stroke="#000" stroke-width="1.0" stroke-dasharray="6 2.6"/><path d="M339.5 256.5L342.3 259.3L339.5 262.1L336.7 259.3Z" fill="none" stroke="#000" stroke-width="0.85"/><path d="M351.1 250.0L353.9 252.8L351.1 255.6L348.3 252.8Z" fill="none" stroke="#000" stroke-width="0.85"/><path d="M368.2 247.6L371.1 250.4L368.2 253.2L365.4 250.4Z" fill="none" stroke="#000" stroke-width="0.85"/><path d="M379.2 247.0L382.0 249.9L379.2 252.7L376.4 249.9Z" fill="none" stroke="#000" stroke-width="0.85"/><path d="M394.7 247.0L397.5 249.9L394.7 252.7L391.9 249.9Z" fill="none" stroke="#000" stroke-width="0.85"/><path d="M419.9 247.0L422.8 249.9L419.9 252.7L417.1 249.9Z" fill="none" stroke="#000" stroke-width="0.85"/><path d="M546.3 247.0L549.1 249.9L546.3 252.7L543.5 249.9Z" fill="none" stroke="#000" stroke-width="0.85"/><path d="M339.5 259.3L341.8 258.6L344.1 257.8L346.5 257.1L348.8 256.4L351.1 255.8L353.4 255.2L355.8 254.6L358.1 254.2L360.2 253.8L360.4 253.7L362.7 253.4L365.1 253.1L367.4 252.8L369.7 252.5L372.0 252.3L374.4 252.1L376.7 251.8L379.0 251.6L381.3 251.4L383.6 251.2L386.0 251.0L388.3 250.7L390.6 250.5L392.9 250.2L395.3 249.9L395.3 249.9L397.6 249.5L399.9 249.1L402.2 248.6L404.6 248.2L406.9 247.6L409.2 247.1L411.5 246.6L413.9 246.1L416.2 245.6L418.5 245.1L420.8 244.6L422.2 244.3L423.1 244.2L425.5 243.7L427.8 243.3L430.1 242.8L432.4 242.4L434.8 241.9L437.1 241.5L439.4 241.1L441.7 240.7L444.1 240.4L446.4 240.0L448.7 239.7L449.9 239.6L451.0 239.5L453.4 239.3L455.7 239.0L458.0 238.8L460.3 238.7L462.7 238.6L463.6 238.5L465.0 238.5L467.3 238.4L469.6 238.3L471.9 238.3L474.3 238.2L476.6 238.2L478.9 238.2L481.2 238.1L483.6 238.1L485.9 238.0L488.2 237.9L488.4 237.9L490.5 237.7L492.9 237.5L494.8 237.2L495.2 237.2L497.5 236.6L499.8 235.8L502.2 234.8L504.3 233.8L504.5 233.7L506.8 232.3L509.1 230.4L511.4 228.2L513.8 225.8L516.1 223.1L518.4 220.4L520.7 217.6L521.1 217.2L523.1 214.7L525.4 211.5L527.7 208.1L530.0 204.6L531.8 202.0L532.4 201.2L534.7 197.7L537.0 194.2L539.3 190.7L541.7 187.1L544.0 183.5L546.3 179.8" fill="none" stroke="#000" stroke-width="1.0" stroke-dasharray="1.8 1.8 5 1.8"/><path d="M339.5 262.4L342.2 257.7L336.8 257.7Z" fill="none" stroke="#000" stroke-width="0.85"/><path d="M463.6 241.6L466.3 237.0L460.9 237.0Z" fill="none" stroke="#000" stroke-width="0.85"/><path d="M477.2 241.3L479.9 236.6L474.5 236.6Z" fill="none" stroke="#000" stroke-width="0.85"/><path d="M488.2 241.0L490.9 236.3L485.5 236.3Z" fill="none" stroke="#000" stroke-width="0.85"/><path d="M494.8 240.4L497.5 235.7L492.1 235.7Z" fill="none" stroke="#000" stroke-width="0.85"/><path d="M504.3 236.9L507.0 232.2L501.6 232.2Z" fill="none" stroke="#000" stroke-width="0.85"/><path d="M546.3 182.9L549.0 178.2L543.6 178.2Z" fill="none" stroke="#000" stroke-width="0.85"/><path d="M339.5 259.3L341.8 258.0L344.1 256.6L346.5 255.3L348.8 254.1L351.1 252.9L353.4 251.7L355.8 250.6L357.7 249.7L358.1 249.5L360.4 248.5L362.7 247.5L365.1 246.6L367.4 245.7L369.7 244.8L372.0 243.9L374.4 243.0L376.7 242.1L379.0 241.2L380.7 240.6L381.3 240.3L383.6 239.3L386.0 238.3L388.3 237.2L390.6 236.2L392.9 235.1L395.3 234.0L397.6 233.0L399.9 232.0L402.2 231.0L404.6 230.0L406.9 229.1L409.2 228.2L410.0 228.0L411.5 227.4L413.9 226.7L416.2 226.0L418.5 225.3L420.8 224.7L422.2 224.3L423.1 224.1L425.5 223.6L427.8 223.1L430.1 222.6L432.4 222.2L434.8 221.7L437.1 221.3L439.4 220.9L441.7 220.5L444.1 220.2L446.4 219.8L448.7 219.5L449.9 219.3L451.0 219.1L453.4 218.8L455.7 218.5L458.0 218.1L460.3 217.8L462.7 217.4L465.0 217.1L467.3 216.9L469.6 216.6L471.9 216.4L474.3 216.3L476.6 216.2L478.1 216.1L478.9 216.1L481.2 216.1L483.6 216.1L485.9 216.1L488.2 216.1L490.5 216.0L492.9 216.0L495.2 216.0L497.5 216.0L499.8 216.0L502.2 216.0L504.5 215.9L506.8 215.9L509.1 215.9L511.4 215.9L513.8 215.9L516.1 215.9L518.4 215.9L520.7 215.9L523.1 215.9L525.4 215.9L527.7 215.8L530.0 215.8L532.4 215.8L534.7 215.8L537.0 215.8L539.3 215.8L541.7 215.8L544.0 215.8L546.3 215.8" fill="none" stroke="#000" stroke-width="1.0"/><path d="M337.5 257.3H341.5V261.3H337.5ZM337.5 257.3L341.5 261.3M337.5 261.3L341.5 257.3" fill="none" stroke="#000" stroke-width="0.85"/><path d="M454.1 216.4H458.1V220.4H454.1ZM454.1 216.4L458.1 220.4M454.1 220.4L458.1 216.4" fill="none" stroke="#000" stroke-width="0.85"/><path d="M476.3 214.1H480.3V218.1H476.3ZM476.3 214.1L480.3 218.1M476.3 218.1L480.3 214.1" fill="none" stroke="#000" stroke-width="0.85"/><path d="M489.7 214.0H493.7V218.0H489.7ZM489.7 214.0L493.7 218.0M489.7 218.0L493.7 214.0" fill="none" stroke="#000" stroke-width="0.85"/><path d="M507.7 213.9H511.7V217.9H507.7ZM507.7 213.9L511.7 217.9M507.7 217.9L511.7 213.9" fill="none" stroke="#000" stroke-width="0.85"/><path d="M518.7 213.9H522.7V217.9H518.7ZM518.7 213.9L522.7 217.9M518.7 217.9L522.7 213.9" fill="none" stroke="#000" stroke-width="0.85"/><path d="M544.3 213.8H548.3V217.8H544.3ZM544.3 213.8L548.3 217.8M544.3 217.8L548.3 213.8" fill="none" stroke="#000" stroke-width="0.85"/><path d="M339.5 259.3L341.8 257.2L344.1 255.1L346.5 253.1L348.8 251.2L351.1 249.4L353.4 247.8L355.0 246.7L355.8 246.2L358.1 244.7L360.4 243.3L362.7 242.0L365.1 240.7L367.4 239.5L369.7 238.4L371.3 237.6L372.0 237.2L374.4 236.2L376.7 235.2L379.0 234.3L381.3 233.4L383.3 232.5L383.6 232.4L386.0 231.4L388.3 230.4L390.6 229.3L392.9 228.3L395.3 227.3L397.6 226.2L399.9 225.2L402.2 224.2L404.6 223.3L406.9 222.4L407.3 222.2L409.2 221.5L411.5 220.7L413.9 219.9L416.2 219.1L418.5 218.3L420.8 217.6L422.2 217.1L423.1 216.8L425.5 215.9L427.8 215.0L430.1 214.1L432.4 213.1L434.8 212.2L437.1 211.3L439.4 210.4L441.7 209.6L444.1 208.9L446.4 208.2L448.7 207.7L449.9 207.5L451.0 207.3L453.4 206.9L455.7 206.6L458.0 206.3L460.3 206.1L462.7 205.8L465.0 205.6L467.3 205.4L469.6 205.2L471.9 204.9L474.3 204.7L476.0 204.5L476.6 204.4L478.9 204.1L481.2 203.9L483.6 203.6L485.9 203.3L488.2 203.0L490.5 202.7L492.9 202.4L495.2 202.1L497.5 201.8L499.8 201.5L502.2 201.2L502.5 201.2L504.5 200.9L506.8 200.6L509.1 200.3L511.4 199.9L513.8 199.6L516.1 199.2L518.4 198.9L520.7 198.6L523.1 198.2L525.4 197.9L525.6 197.9L527.7 197.6L530.0 197.3L532.4 196.9L534.7 196.6L537.0 196.3L539.3 196.0L541.7 195.7L544.0 195.4L546.3 195.0" fill="none" stroke="#000" stroke-width="1.0" stroke-dasharray="3.2 3.2"/><path d="M337.5 257.3L341.5 261.3M337.5 261.3L341.5 257.3M336.7 259.3H342.3M339.5 256.5V262.1" fill="none" stroke="#000" stroke-width="0.85"/><path d="M338.3 256.0L342.3 260.0M338.3 260.0L342.3 256.0M337.5 258.0H343.2M340.3 255.2V260.9" fill="none" stroke="#000" stroke-width="0.85"/><path d="M339.2 254.5L343.2 258.5M339.2 258.5L343.2 254.5M338.3 256.5H344.0M341.2 253.6V259.3" fill="none" stroke="#000" stroke-width="0.85"/><path d="M340.0 252.6L344.0 256.6M340.0 256.6L344.0 252.6M339.2 254.6H344.8M342.0 251.7V257.4" fill="none" stroke="#000" stroke-width="0.85"/><path d="M341.2 251.6L345.2 255.6M341.2 255.6L345.2 251.6M340.4 253.6H346.1M343.2 250.8V256.5" fill="none" stroke="#000" stroke-width="0.85"/><path d="M342.7 249.4L346.7 253.4M342.7 253.4L346.7 249.4M341.8 251.4H347.5M344.7 248.6V254.3" fill="none" stroke="#000" stroke-width="0.85"/><path d="M344.1 250.1L348.1 254.1M344.1 254.1L348.1 250.1M343.3 252.1H348.9M346.1 249.2V254.9" fill="none" stroke="#000" stroke-width="0.85"/><path d="M345.8 246.9L349.8 250.9M345.8 250.9L349.8 246.9M344.9 248.9H350.6M347.8 246.1V251.7" fill="none" stroke="#000" stroke-width="0.85"/><path d="M341.6 255.4L345.6 259.4M341.6 259.4L345.6 255.4M340.8 257.4H346.5M343.6 254.6V260.2" fill="none" stroke="#000" stroke-width="0.85"/><path d="M343.7 253.5L347.7 257.5M343.7 257.5L347.7 253.5M342.9 255.5H348.5M345.7 252.7V258.3" fill="none" stroke="#000" stroke-width="0.85"/><path d="M340.0 256.7L344.0 260.7M340.0 260.7L344.0 256.7M339.2 258.7H344.8M342.0 255.8V261.5" fill="none" stroke="#000" stroke-width="0.85"/><path d="M544.3 193.0L548.3 197.0M544.3 197.0L548.3 193.0M543.5 195.0H549.1M546.3 192.2V197.9" fill="none" stroke="#000" stroke-width="0.85"/><path d="M339.5 259.3L546.3 259.3" fill="none" stroke="#000" stroke-width="1.0" stroke-dasharray="0.9 2.6"/><path d="M339.5 256.5L342.3 259.3L339.5 262.1L336.7 259.3ZM336.7 259.3H342.3M339.5 256.5V262.1" fill="none" stroke="#000" stroke-width="0.85"/><path d="M375.9 256.5L378.7 259.3L375.9 262.1L373.1 259.3ZM373.1 259.3H378.7M375.9 256.5V262.1" fill="none" stroke="#000" stroke-width="0.85"/><path d="M395.7 256.5L398.6 259.3L395.7 262.1L392.9 259.3ZM392.9 259.3H398.6M395.7 256.5V262.1" fill="none" stroke="#000" stroke-width="0.85"/><path d="M422.6 256.5L425.5 259.3L422.6 262.1L419.8 259.3ZM419.8 259.3H425.5M422.6 256.5V262.1" fill="none" stroke="#000" stroke-width="0.85"/><path d="M469.2 256.5L472.0 259.3L469.2 262.1L466.3 259.3ZM466.3 259.3H472.0M469.2 256.5V262.1" fill="none" stroke="#000" stroke-width="0.85"/><path d="M546.3 256.5L549.1 259.3L546.3 262.1L543.5 259.3ZM543.5 259.3H549.1M546.3 256.5V262.1" fill="none" stroke="#000" stroke-width="0.85"/><path d="M339.5 259.3L341.8 257.2L344.1 255.1L346.5 253.1L348.8 251.2L351.1 249.3L352.9 248.0L353.4 247.6L355.8 246.0L358.1 244.5L360.4 243.0L362.7 241.5L365.1 240.0L365.4 239.8L367.4 238.3L369.7 236.6L372.0 234.8L374.4 233.1L376.7 231.2L379.0 229.4L381.3 227.5L383.6 225.7L385.6 224.1L386.0 223.8L388.3 221.9L390.6 220.0L392.9 218.0L395.3 216.1L397.6 214.1L399.9 212.1L402.2 210.1L404.6 208.2L406.2 206.9L406.9 206.3L409.2 204.4L411.5 202.6L413.9 200.8L416.2 198.9L418.5 197.1L420.8 195.1L422.2 193.9L423.1 193.1L425.5 191.0L427.8 188.9L430.1 186.7L432.4 184.4L434.8 182.1L437.1 179.8L439.4 177.6L441.7 175.3L443.9 173.1L444.1 173.0L446.4 170.8L448.7 168.6L451.0 166.3L453.4 164.1L455.7 161.9L458.0 159.6L460.3 157.4L462.7 155.1L465.0 152.9L467.3 150.6L467.7 150.2L469.6 148.3L471.9 145.9L474.3 143.6L476.6 141.3L478.9 138.9L481.2 136.5L483.6 134.0L484.3 133.3L485.9 131.6L488.2 129.1L490.5 126.6L492.9 124.1L495.2 121.5L497.5 118.8L499.8 116.1L502.2 113.2L503.9 110.9L504.5 110.2L506.8 107.0L509.1 103.6L511.4 100.1L513.8 96.5L516.1 92.7L518.4 88.9L520.7 85.0L523.1 81.1L523.6 80.2L525.4 77.1L527.7 73.0L530.0 68.8L532.4 64.6L534.7 60.3L537.0 55.8L539.3 51.4L541.7 46.8L544.0 42.1L546.3 37.4" fill="none" stroke="#000" stroke-width="1.0" stroke-dasharray="0.8 2.55 3.1 2.55"/><circle cx="339.5" cy="259.3" r="2.0" fill="none" stroke="#000" stroke-width="0.85"/><path d="M337.5 259.3H341.5M339.5 257.3V261.3" fill="none" stroke="#000" stroke-width="0.85"/><circle cx="341.6" cy="257.4" r="2.0" fill="none" stroke="#000" stroke-width="0.85"/><path d="M339.6 257.4H343.6M341.6 255.4V259.4" fill="none" stroke="#000" stroke-width="0.85"/><circle cx="343.6" cy="255.5" r="2.0" fill="none" stroke="#000" stroke-width="0.85"/><path d="M341.6 255.5H345.6M343.6 253.5V257.5" fill="none" stroke="#000" stroke-width="0.85"/><circle cx="443.9" cy="173.1" r="2.0" fill="none" stroke="#000" stroke-width="0.85"/><path d="M441.9 173.1H445.9M443.9 171.1V175.1" fill="none" stroke="#000" stroke-width="0.85"/><circle cx="467.7" cy="150.2" r="2.0" fill="none" stroke="#000" stroke-width="0.85"/><path d="M465.7 150.2H469.7M467.7 148.2V152.2" fill="none" stroke="#000" stroke-width="0.85"/><circle cx="484.3" cy="133.3" r="2.0" fill="none" stroke="#000" stroke-width="0.85"/><path d="M482.3 133.3H486.3M484.3 131.3V135.3" fill="none" stroke="#000" stroke-width="0.85"/><circle cx="503.9" cy="110.9" r="2.0" fill="none" stroke="#000" stroke-width="0.85"/><path d="M501.9 110.9H505.9M503.9 108.9V112.9" fill="none" stroke="#000" stroke-width="0.85"/><circle cx="523.6" cy="80.2" r="2.0" fill="none" stroke="#000" stroke-width="0.85"/><path d="M521.6 80.2H525.6M523.6 78.2V82.2" fill="none" stroke="#000" stroke-width="0.85"/><circle cx="546.3" cy="37.4" r="2.0" fill="none" stroke="#000" stroke-width="0.85"/><path d="M544.3 37.4H548.3M546.3 35.4V39.4" fill="none" stroke="#000" stroke-width="0.85"/><path d="M339.5 259.3L341.8 257.7L344.1 256.3L346.5 255.1L347.8 254.6L348.8 254.2L351.1 253.4L353.4 252.7L355.8 252.1L358.1 251.7L360.2 251.4L360.4 251.4L362.7 251.2L365.1 251.0L367.4 250.8L369.7 250.7L372.0 250.6L374.4 250.5L376.7 250.4L379.0 250.3L380.9 250.3L381.3 250.3L383.6 250.3L386.0 250.3L388.3 250.3L390.6 250.3L392.9 250.3L395.3 250.3L397.6 250.3L399.9 250.3L402.2 250.3L404.6 250.3L406.9 250.3L409.2 250.3L411.5 250.3L413.9 250.3L416.2 250.3L418.5 250.3L420.8 250.3L423.1 250.3L425.5 250.3L427.8 250.3L430.1 250.3L432.4 250.3L434.8 250.3L437.1 250.3L439.4 250.3L441.7 250.3L444.1 250.3L446.4 250.3L448.7 250.3L451.0 250.3L453.4 250.3L455.7 250.3L458.0 250.3L460.3 250.3L462.7 250.3L465.0 250.3L467.3 250.3L469.6 250.3L471.9 250.3L474.3 250.3L476.6 250.3L478.9 250.3L481.2 250.3L483.6 250.3L485.9 250.3L488.2 250.3L490.5 250.3L492.9 250.3L495.2 250.3L497.5 250.3L499.8 250.3L502.2 250.3L504.5 250.3L506.8 250.3L509.1 250.3L511.4 250.3L513.8 250.3L516.1 250.3L518.4 250.3L520.7 250.3L523.1 250.3L525.4 250.3L527.7 250.3L530.0 250.3L532.4 250.3L534.7 250.3L537.0 250.3L539.3 250.3L541.7 250.3L544.0 250.3L546.3 250.3" fill="none" stroke="#000" stroke-width="1.0" stroke-dasharray="6 2.6"/><path d="M339.5 256.2L342.2 261.6L336.8 261.6ZM339.5 262.4L342.2 257.0L336.8 257.0Z" fill="none" stroke="#000" stroke-width="0.85"/><path d="M356.9 248.8L359.6 254.2L354.2 254.2ZM356.9 255.0L359.6 249.6L354.2 249.6Z" fill="none" stroke="#000" stroke-width="0.85"/><path d="M374.2 247.3L376.9 252.8L371.5 252.8ZM374.2 253.6L376.9 248.1L371.5 248.1Z" fill="none" stroke="#000" stroke-width="0.85"/><path d="M385.6 247.2L388.3 252.7L382.9 252.7ZM385.6 253.4L388.3 248.0L382.9 248.0Z" fill="none" stroke="#000" stroke-width="0.85"/><path d="M399.5 247.2L402.2 252.7L396.8 252.7ZM399.5 253.4L402.2 248.0L396.8 248.0Z" fill="none" stroke="#000" stroke-width="0.85"/><path d="M413.1 247.2L415.8 252.7L410.4 252.7ZM413.1 253.4L415.8 248.0L410.4 248.0Z" fill="none" stroke="#000" stroke-width="0.85"/><path d="M425.3 247.2L428.0 252.7L422.6 252.7ZM425.3 253.4L428.0 248.0L422.6 248.0Z" fill="none" stroke="#000" stroke-width="0.85"/><path d="M446.2 247.2L448.9 252.7L443.5 252.7ZM446.2 253.4L448.9 248.0L443.5 248.0Z" fill="none" stroke="#000" stroke-width="0.85"/><path d="M479.5 247.2L482.2 252.7L476.8 252.7ZM479.5 253.4L482.2 248.0L476.8 248.0Z" fill="none" stroke="#000" stroke-width="0.85"/><path d="M546.3 247.2L549.0 252.7L543.6 252.7ZM546.3 253.4L549.0 248.0L543.6 248.0Z" fill="none" stroke="#000" stroke-width="0.85"/></g>
<rect x="331.8" y="28.6" width="223.0" height="239.7" fill="none" stroke="#6e6e6e" stroke-width="1"/>
<path d="M339.5 268.3v3.9M380.9 268.3v3.9M422.2 268.3v3.9M463.6 268.3v3.9M504.9 268.3v3.9M546.3 268.3v3.9M331.8 39.2h-3.8M331.8 133.8h-3.8M331.8 196.3h-3.8M331.8 259.3h-3.8" stroke="#858585" stroke-width="0.85" fill="none"/>
<text x="340.0" y="283.7" font-size="11.9" text-anchor="middle" textLength="15.6" lengthAdjust="spacingAndGlyphs">0.0</text>
<text x="381.4" y="283.7" font-size="11.9" text-anchor="middle" textLength="15.6" lengthAdjust="spacingAndGlyphs">0.2</text>
<text x="422.7" y="283.7" font-size="11.9" text-anchor="middle" textLength="15.6" lengthAdjust="spacingAndGlyphs">0.4</text>
<text x="464.1" y="283.7" font-size="11.9" text-anchor="middle" textLength="15.6" lengthAdjust="spacingAndGlyphs">0.6</text>
<text x="505.6" y="283.7" font-size="11.9" text-anchor="middle" textLength="15.6" lengthAdjust="spacingAndGlyphs">0.8</text>
<text x="546.3" y="283.7" font-size="11.9" text-anchor="middle" textLength="15.6" lengthAdjust="spacingAndGlyphs">1.0</text>
<text x="322.1" y="43.4" font-size="11.9" text-anchor="end" textLength="15.4" lengthAdjust="spacingAndGlyphs">1.2</text>
<text x="322.1" y="137.9" font-size="11.9" text-anchor="end" textLength="15.4" lengthAdjust="spacingAndGlyphs">0.8</text>
<text x="322.1" y="200.5" font-size="11.9" text-anchor="end" textLength="15.4" lengthAdjust="spacingAndGlyphs">0.4</text>
<text x="322.1" y="263.5" font-size="11.9" text-anchor="end" textLength="5.6" lengthAdjust="spacingAndGlyphs">0</text>
<text x="442.9" y="299.3" font-size="14.8" text-anchor="middle" textLength="94.2" lengthAdjust="spacingAndGlyphs">Rescaled range</text>
<text x="298.6" y="148.8" font-size="15.0" text-anchor="middle" textLength="52.4" lengthAdjust="spacingAndGlyphs" transform="rotate(-90 298.6 148.8)">I-splines</text>
<text x="339.9" y="41.5" font-size="11.4" textLength="30.5" lengthAdjust="spacingAndGlyphs">Zeta 2</text>
<g><path d="M49.5 554.2L51.8 554.2L54.1 554.2L56.5 554.2L58.8 554.2L61.1 554.2L63.4 554.2L65.8 554.2L68.1 554.2L70.4 554.2L72.7 554.2L75.1 554.2L77.4 554.2L79.7 554.2L82.0 554.2L84.4 554.2L86.7 554.2L89.0 554.2L91.3 554.2L93.6 554.2L96.0 554.2L98.3 554.2L100.6 554.2L102.9 554.2L105.3 554.2L107.6 554.2L109.9 554.2L112.2 554.2L114.6 554.2L116.9 554.2L119.2 554.2L121.5 554.2L123.9 554.2L126.2 554.2L128.5 554.2L130.8 554.2L133.1 554.2L135.5 554.2L137.8 554.2L140.1 554.2L142.4 554.2L144.8 554.2L147.1 554.2L149.4 554.2L151.7 554.2L154.1 554.2L156.4 554.2L158.7 554.2L161.0 554.2L163.4 554.2L165.7 554.2L168.0 554.2L170.3 554.2L172.7 554.2L175.0 554.2L177.3 554.2L179.6 554.2L181.9 554.2L184.3 554.2L186.0 554.2L186.6 554.2L188.9 554.1L191.2 553.8L193.6 553.5L195.9 553.0L198.2 552.4L200.5 551.8L202.9 551.1L205.2 550.4L207.5 549.7L208.9 549.3L209.8 549.0L212.2 548.3L214.5 547.4L216.8 546.3L219.1 545.3L221.4 544.1L223.8 542.8L226.1 541.5L228.0 540.4L228.4 540.1L230.7 538.5L233.1 536.8L235.4 534.9L237.7 532.9L240.0 530.8L241.8 529.2L242.4 528.7L244.7 526.6L247.0 524.4L249.3 522.1L251.7 519.7L254.0 517.3L256.3 514.8" fill="none" stroke="#000" stroke-width="1.0"/><circle cx="49.5" cy="554.2" r="2.0" fill="none" stroke="#000" stroke-width="0.85"/><circle cx="66.9" cy="554.2" r="2.0" fill="none" stroke="#000" stroke-width="0.85"/><circle cx="118.8" cy="554.2" r="2.0" fill="none" stroke="#000" stroke-width="0.85"/><circle cx="132.8" cy="554.2" r="2.0" fill="none" stroke="#000" stroke-width="0.85"/><circle cx="138.6" cy="554.2" r="2.0" fill="none" stroke="#000" stroke-width="0.85"/><circle cx="144.0" cy="554.2" r="2.0" fill="none" stroke="#000" stroke-width="0.85"/><circle cx="153.1" cy="554.2" r="2.0" fill="none" stroke="#000" stroke-width="0.85"/><circle cx="177.7" cy="554.2" r="2.0" fill="none" stroke="#000" stroke-width="0.85"/><circle cx="182.9" cy="554.2" r="2.0" fill="none" stroke="#000" stroke-width="0.85"/><circle cx="208.9" cy="549.3" r="2.0" fill="none" stroke="#000" stroke-width="0.85"/><circle cx="228.0" cy="540.4" r="2.0" fill="none" stroke="#000" stroke-width="0.85"/><circle cx="256.3" cy="514.8" r="2.0" fill="none" stroke="#000" stroke-width="0.85"/><path d="M49.5 554.2L256.3 554.2" fill="none" stroke="#000" stroke-width="1.0" stroke-dasharray="3.2 3.2"/><path d="M49.5 551.1L52.2 555.8L46.8 555.8Z" fill="none" stroke="#000" stroke-width="0.85"/><path d="M57.8 551.1L60.5 555.8L55.1 555.8Z" fill="none" stroke="#000" stroke-width="0.85"/><path d="M97.5 551.1L100.2 555.8L94.8 555.8Z" fill="none" stroke="#000" stroke-width="0.85"/><path d="M114.0 551.1L116.7 555.8L111.3 555.8Z" fill="none" stroke="#000" stroke-width="0.85"/><path d="M125.8 551.1L128.5 555.8L123.1 555.8Z" fill="none" stroke="#000" stroke-width="0.85"/><path d="M141.9 551.1L144.6 555.8L139.2 555.8Z" fill="none" stroke="#000" stroke-width="0.85"/><path d="M151.9 551.1L154.6 555.8L149.2 555.8Z" fill="none" stroke="#000" stroke-width="0.85"/><path d="M162.4 551.1L165.1 555.8L159.7 555.8Z" fill="none" stroke="#000" stroke-width="0.85"/><path d="M177.3 551.1L180.0 555.8L174.6 555.8Z" fill="none" stroke="#000" stroke-width="0.85"/><path d="M195.3 551.1L198.0 555.8L192.6 555.8Z" fill="none" stroke="#000" stroke-width="0.85"/><path d="M256.3 551.1L259.0 555.8L253.6 555.8Z" fill="none" stroke="#000" stroke-width="0.85"/><path d="M49.5 554.2L51.8 554.2L54.1 554.2L56.5 554.2L58.8 554.2L61.1 554.2L63.4 554.2L65.8 554.2L68.1 554.2L70.4 554.2L72.7 554.2L75.1 554.2L77.4 554.2L79.7 554.1L82.0 554.1L84.4 554.1L86.7 554.1L89.0 554.1L91.3 554.1L93.6 554.1L96.0 554.1L98.3 554.1L100.6 554.0L102.9 554.0L105.3 554.0L107.6 554.0L109.9 554.0L112.2 554.0L114.6 553.9L116.9 553.9L119.2 553.9L121.5 553.9L123.9 553.8L126.2 553.8L128.5 553.8L130.8 553.8L133.1 553.7L135.5 553.7L137.8 553.7L140.1 553.7L142.4 553.6L144.8 553.6L147.1 553.6L149.4 553.5L151.7 553.5L154.1 553.4L156.4 553.4L158.7 553.4L161.0 553.3L163.4 553.3L165.7 553.2L168.0 553.2L170.3 553.2L172.7 553.1L173.6 553.1L175.0 553.0L177.3 552.9L179.6 552.7L181.9 552.5L184.3 552.2L186.6 551.9L188.9 551.5L191.2 551.1L193.6 550.7L195.9 550.3L198.2 549.9L200.5 549.4L202.9 549.0L204.6 548.7L205.2 548.5L207.5 548.1L209.8 547.6L212.2 547.1L214.5 546.6L216.8 546.0L219.1 545.4L221.4 544.8L223.8 544.2L226.1 543.6L228.4 542.9L230.7 542.3L233.1 541.6L235.4 540.9L235.6 540.9L237.7 540.3L240.0 539.6L242.4 538.9L244.7 538.1L247.0 537.4L249.3 536.6L251.7 535.8L254.0 535.0L256.3 534.2" fill="none" stroke="#000" stroke-width="1.0" stroke-dasharray="0.9 2.6"/><path d="M46.7 554.2H52.3M49.5 551.4V557.0" fill="none" stroke="#000" stroke-width="0.85"/><path d="M148.0 553.5H153.7M150.8 550.7V556.3" fill="none" stroke="#000" stroke-width="0.85"/><path d="M170.1 553.1H175.8M173.0 550.3V555.9" fill="none" stroke="#000" stroke-width="0.85"/><path d="M179.0 552.5H184.7M181.9 549.7V555.3" fill="none" stroke="#000" stroke-width="0.85"/><path d="M190.0 550.9H195.6M192.8 548.0V553.7" fill="none" stroke="#000" stroke-width="0.85"/><path d="M253.5 534.2H259.1M256.3 531.4V537.0" fill="none" stroke="#000" stroke-width="0.85"/><path d="M49.5 554.2L51.8 553.0L54.1 551.9L56.5 550.8L58.8 549.7L59.8 549.2L61.1 548.6L63.4 547.6L65.8 546.5L68.1 545.5L70.4 544.5L72.7 543.5L75.1 542.7L77.4 541.9L79.7 541.2L79.7 541.2L82.0 540.6L84.4 540.0L86.7 539.5L89.0 539.1L89.8 538.9L91.3 538.5L93.6 538.0L96.0 537.4L98.3 536.8L100.6 536.4L102.4 536.1L102.9 536.0L105.3 535.8L107.6 535.5L109.9 535.3L112.2 535.2L114.6 535.1L115.3 535.1L116.9 535.0L119.2 535.0L121.5 535.0L123.9 535.0L126.2 535.0L128.5 534.9L130.8 534.9L132.2 534.9L133.1 534.9L135.5 534.9L137.8 534.9L140.1 534.9L142.4 534.9L144.8 534.9L147.1 534.9L149.4 534.9L151.7 534.9L154.1 534.9L156.4 534.9L158.7 534.9L161.0 534.9L163.4 534.9L165.7 534.9L168.0 534.9L170.3 534.9L172.7 534.9L175.0 534.9L177.3 534.9L179.6 534.9L181.9 534.9L184.3 534.9L186.6 534.9L188.9 534.9L191.2 534.9L193.6 534.9L195.9 534.9L198.2 534.9L200.5 534.9L202.9 534.9L205.2 534.9L207.5 534.9L209.8 534.9L212.2 534.9L214.5 534.9L216.8 534.9L219.1 534.9L221.4 534.9L223.8 534.9L226.1 534.9L228.4 534.9L230.7 534.9L233.1 534.9L235.4 534.9L237.7 534.9L240.0 534.9L242.4 534.9L244.7 534.9L247.0 534.9L249.3 534.9L251.7 534.9L254.0 534.9L256.3 534.9" fill="none" stroke="#000" stroke-width="1.0" stroke-dasharray="0.8 2.55 3.1 2.55"/><path d="M47.5 552.2L51.5 556.2M47.5 556.2L51.5 552.2" fill="none" stroke="#000" stroke-width="0.85"/><path d="M77.7 539.2L81.7 543.2M77.7 543.2L81.7 539.2" fill="none" stroke="#000" stroke-width="0.85"/><path d="M87.8 536.9L91.8 540.9M87.8 540.9L91.8 536.9" fill="none" stroke="#000" stroke-width="0.85"/><path d="M100.4 534.1L104.4 538.1M100.4 538.1L104.4 534.1" fill="none" stroke="#000" stroke-width="0.85"/><path d="M113.3 533.1L117.3 537.1M113.3 537.1L117.3 533.1" fill="none" stroke="#000" stroke-width="0.85"/><path d="M123.0 533.0L127.0 537.0M123.0 537.0L127.0 533.0" fill="none" stroke="#000" stroke-width="0.85"/><path d="M138.3 532.9L142.3 536.9M138.3 536.9L142.3 532.9" fill="none" stroke="#000" stroke-width="0.85"/><path d="M153.6 532.9L157.6 536.9M153.6 536.9L157.6 532.9" fill="none" stroke="#000" stroke-width="0.85"/><path d="M183.2 532.9L187.2 536.9M183.2 536.9L187.2 532.9" fill="none" stroke="#000" stroke-width="0.85"/><path d="M254.3 532.9L258.3 536.9M254.3 536.9L258.3 532.9" fill="none" stroke="#000" stroke-width="0.85"/><path d="M49.5 554.2L51.8 553.8L54.1 553.5L56.5 553.1L58.8 552.8L61.1 552.5L61.1 552.5L63.4 552.3L65.8 552.0L68.1 551.8L70.4 551.5L72.7 551.3L75.1 551.1L77.4 550.9L78.2 550.9L79.7 550.8L82.0 550.6L84.4 550.4L86.7 550.2L89.0 550.1L90.9 550.0L91.3 550.0L93.6 550.0L96.0 549.9L98.3 549.9L100.6 549.9L102.9 549.8L105.3 549.8L107.6 549.8L109.9 549.7L112.2 549.7L114.6 549.7L116.9 549.7L119.2 549.6L121.5 549.6L123.9 549.6L126.2 549.6L128.5 549.6L130.8 549.6L132.2 549.6L133.1 549.6L135.5 549.6L137.8 549.6L140.1 549.6L142.4 549.6L144.8 549.6L147.1 549.6L149.4 549.6L151.7 549.6L154.1 549.6L156.4 549.6L158.7 549.6L161.0 549.6L163.4 549.6L165.7 549.6L168.0 549.6L170.3 549.6L172.7 549.6L175.0 549.6L177.3 549.6L179.6 549.6L181.9 549.6L184.3 549.6L186.6 549.6L188.9 549.6L191.2 549.6L193.6 549.6L195.9 549.6L198.2 549.6L200.5 549.6L202.9 549.6L205.2 549.6L207.5 549.6L209.8 549.6L212.2 549.6L214.5 549.6L216.8 549.6L219.1 549.6L221.4 549.6L223.8 549.6L226.1 549.6L228.4 549.6L230.7 549.6L233.1 549.6L235.4 549.6L237.7 549.6L240.0 549.6L242.4 549.6L244.7 549.6L247.0 549.6L249.3 549.6L251.7 549.6L254.0 549.6L256.3 549.6" fill="none" stroke="#000" stroke-width="1.0" stroke-dasharray="6 2.6"/><path d="M49.5 551.4L52.3 554.2L49.5 557.0L46.7 554.2Z" fill="none" stroke="#000" stroke-width="0.85"/><path d="M58.0 550.1L60.8 552.9L58.0 555.8L55.2 552.9Z" fill="none" stroke="#000" stroke-width="0.85"/><path d="M69.1 548.8L72.0 551.7L69.1 554.5L66.3 551.7Z" fill="none" stroke="#000" stroke-width="0.85"/><path d="M78.0 548.1L80.9 550.9L78.0 553.7L75.2 550.9Z" fill="none" stroke="#000" stroke-width="0.85"/><path d="M84.7 547.5L87.5 550.4L84.7 553.2L81.8 550.4Z" fill="none" stroke="#000" stroke-width="0.85"/><path d="M94.6 547.1L97.4 550.0L94.6 552.8L91.8 550.0Z" fill="none" stroke="#000" stroke-width="0.85"/><path d="M104.7 547.0L107.5 549.8L104.7 552.6L101.9 549.8Z" fill="none" stroke="#000" stroke-width="0.85"/><path d="M119.4 546.8L122.2 549.6L119.4 552.5L116.6 549.6Z" fill="none" stroke="#000" stroke-width="0.85"/><path d="M152.5 546.8L155.3 549.6L152.5 552.4L149.7 549.6Z" fill="none" stroke="#000" stroke-width="0.85"/><path d="M256.3 546.8L259.1 549.6L256.3 552.4L253.5 549.6Z" fill="none" stroke="#000" stroke-width="0.85"/><path d="M49.5 554.2L51.8 552.9L54.1 551.7L56.5 550.3L58.8 549.0L61.1 547.6L63.4 546.2L65.8 544.8L68.1 543.3L70.4 541.8L72.7 540.3L75.1 538.7L76.8 537.6L77.4 537.1L79.7 535.5L82.0 533.8L84.4 532.0L86.7 530.2L89.0 528.3L91.3 526.5L93.6 524.6L96.0 522.8L98.3 521.1L100.6 519.4L101.2 519.0L102.9 517.8L105.3 516.2L107.6 514.7L109.9 513.2L112.2 511.7L114.6 510.3L116.5 509.2L116.9 509.0L119.2 507.8L121.5 506.6L123.9 505.5L126.2 504.4L128.5 503.4L130.8 502.4L131.8 502.0L133.1 501.5L135.5 500.6L137.8 499.8L140.1 498.9L142.4 498.1L144.8 497.3L147.1 496.5L149.4 495.8L151.7 495.1L154.1 494.5L156.4 493.9L158.7 493.4L159.9 493.2L161.0 492.9L163.4 492.5L165.7 492.0L168.0 491.6L170.3 491.2L172.7 490.9L175.0 490.6L177.3 490.4L178.3 490.4L179.6 490.3L181.9 490.2L184.3 490.1L186.6 490.0L188.9 489.9L191.2 489.8L193.6 489.8L194.3 489.8L195.9 489.8L198.2 489.8L200.5 489.8L202.9 489.8L205.2 489.8L207.5 489.8L209.8 489.8L212.2 489.8L214.5 489.8L216.8 489.8L219.1 489.8L221.4 489.8L223.8 489.8L226.1 489.8L228.4 489.8L230.7 489.8L233.1 489.8L235.4 489.8L237.7 489.8L240.0 489.8L242.4 489.8L244.7 489.8L247.0 489.8L249.3 489.8L251.7 489.8L254.0 489.8L256.3 489.8" fill="none" stroke="#000" stroke-width="1.0" stroke-dasharray="1.8 1.8 5 1.8"/><path d="M49.5 557.3L52.2 552.6L46.8 552.6Z" fill="none" stroke="#000" stroke-width="0.85"/><path d="M166.5 495.0L169.2 490.3L163.9 490.3Z" fill="none" stroke="#000" stroke-width="0.85"/><path d="M178.3 493.5L181.0 488.8L175.6 488.8Z" fill="none" stroke="#000" stroke-width="0.85"/><path d="M186.6 493.1L189.3 488.4L183.9 488.4Z" fill="none" stroke="#000" stroke-width="0.85"/><path d="M195.3 492.9L198.0 488.3L192.6 488.3Z" fill="none" stroke="#000" stroke-width="0.85"/><path d="M199.6 492.9L202.3 488.3L196.9 488.3Z" fill="none" stroke="#000" stroke-width="0.85"/><path d="M204.4 492.9L207.1 488.3L201.7 488.3Z" fill="none" stroke="#000" stroke-width="0.85"/><path d="M211.6 492.9L214.3 488.3L208.9 488.3Z" fill="none" stroke="#000" stroke-width="0.85"/><path d="M219.7 492.9L222.4 488.3L217.0 488.3Z" fill="none" stroke="#000" stroke-width="0.85"/><path d="M256.3 492.9L259.0 488.3L253.6 488.3Z" fill="none" stroke="#000" stroke-width="0.85"/><path d="M49.5 554.2L51.8 553.9L54.1 553.6L56.5 553.3L58.8 553.0L61.1 552.7L63.4 552.4L65.8 552.1L68.1 551.8L70.4 551.5L72.7 551.2L75.1 551.0L77.4 550.7L79.7 550.4L82.0 550.2L84.4 549.9L86.7 549.7L89.0 549.4L90.9 549.2L91.3 549.2L93.6 548.9L96.0 548.7L98.3 548.4L100.6 548.2L102.9 548.0L105.3 547.7L107.6 547.5L109.9 547.3L112.2 547.0L114.6 546.8L116.9 546.6L119.2 546.4L121.5 546.2L123.9 546.0L126.2 545.8L128.5 545.6L130.8 545.4L132.2 545.3L133.1 545.3L135.5 545.1L137.8 544.9L140.1 544.7L142.4 544.5L144.8 544.3L147.1 544.2L149.4 544.0L151.7 543.9L154.1 543.7L156.4 543.6L158.7 543.5L161.0 543.4L163.2 543.4L163.4 543.4L165.7 543.3L168.0 543.3L170.3 543.3L172.7 543.2L175.0 543.2L177.3 543.2L179.6 543.2L181.9 543.2L184.3 543.1L186.6 543.1L188.9 543.1L191.2 543.1L193.6 543.1L194.3 543.1L195.9 543.1L198.2 543.1L200.5 543.1L202.9 543.1L205.2 543.1L207.5 543.1L209.8 543.1L212.2 543.1L214.5 543.1L216.8 543.1L219.1 543.1L221.4 543.1L223.8 543.1L226.1 543.1L228.4 543.1L230.7 543.1L233.1 543.1L235.4 543.1L237.7 543.1L240.0 543.1L242.4 543.1L244.7 543.1L247.0 543.1L249.3 543.1L251.7 543.1L254.0 543.1L256.3 543.1" fill="none" stroke="#000" stroke-width="1.0"/><path d="M47.5 552.2H51.5V556.2H47.5ZM47.5 552.2L51.5 556.2M47.5 556.2L51.5 552.2" fill="none" stroke="#000" stroke-width="0.85"/><path d="M156.5 541.5H160.5V545.5H156.5ZM156.5 541.5L160.5 545.5M156.5 545.5L160.5 541.5" fill="none" stroke="#000" stroke-width="0.85"/><path d="M171.2 541.2H175.2V545.2H171.2ZM171.2 541.2L175.2 545.2M171.2 545.2L175.2 541.2" fill="none" stroke="#000" stroke-width="0.85"/><path d="M186.5 541.1H190.5V545.1H186.5ZM186.5 541.1L190.5 545.1M186.5 545.1L190.5 541.1" fill="none" stroke="#000" stroke-width="0.85"/><path d="M194.7 541.1H198.7V545.1H194.7ZM194.7 541.1L198.7 545.1M194.7 545.1L198.7 541.1" fill="none" stroke="#000" stroke-width="0.85"/><path d="M200.7 541.1H204.7V545.1H200.7ZM200.7 541.1L204.7 545.1M200.7 545.1L204.7 541.1" fill="none" stroke="#000" stroke-width="0.85"/><path d="M206.9 541.1H210.9V545.1H206.9ZM206.9 541.1L210.9 545.1M206.9 545.1L210.9 541.1" fill="none" stroke="#000" stroke-width="0.85"/><path d="M217.7 541.1H221.7V545.1H217.7ZM217.7 541.1L221.7 545.1M217.7 545.1L221.7 541.1" fill="none" stroke="#000" stroke-width="0.85"/><path d="M226.0 541.1H230.0V545.1H226.0ZM226.0 541.1L230.0 545.1M226.0 545.1L230.0 541.1" fill="none" stroke="#000" stroke-width="0.85"/><path d="M235.3 541.1H239.3V545.1H235.3ZM235.3 541.1L239.3 545.1M235.3 545.1L239.3 541.1" fill="none" stroke="#000" stroke-width="0.85"/><path d="M254.3 541.1H258.3V545.1H254.3ZM254.3 541.1L258.3 545.1M254.3 545.1L258.3 541.1" fill="none" stroke="#000" stroke-width="0.85"/><path d="M49.5 554.2L50.5 543.1L51.8 538.5L52.0 538.4L54.1 537.9L56.5 537.7L58.8 537.6L58.8 537.6L61.1 537.5L63.4 537.4L65.8 537.4L68.1 537.4L70.4 537.4L72.7 537.3L75.1 537.3L76.8 537.3L77.4 537.3L79.7 537.2L82.0 537.0L84.4 536.8L86.7 536.6L89.0 536.3L91.3 536.0L93.6 535.6L96.0 535.2L98.3 534.8L100.6 534.4L102.9 534.0L105.3 533.6L107.6 533.1L109.9 532.7L112.2 532.2L114.6 531.8L116.5 531.4L116.9 531.4L119.2 530.9L121.5 530.5L123.9 530.0L126.2 529.6L128.5 529.1L130.8 528.6L133.1 528.1L135.5 527.5L137.8 527.0L140.1 526.4L142.4 525.8L144.8 525.2L147.1 524.5L149.4 523.8L150.0 523.7L151.7 523.1L154.1 522.4L156.4 521.6L158.7 520.8L161.0 519.9L163.4 518.9L165.7 518.0L168.0 517.0L170.3 516.0L172.7 515.0L175.0 514.0L177.3 512.9L179.6 511.9L180.6 511.5L181.9 510.9L184.3 509.8L186.6 508.6L188.9 507.4L191.2 506.2L193.6 505.0L195.9 503.8L198.2 502.5L200.5 501.3L202.9 500.1L205.2 498.9L207.5 497.7L209.8 496.6L211.2 495.9L212.2 495.5L214.5 494.5L216.8 493.4L219.1 492.5L221.4 491.5L223.8 490.5L226.1 489.6L228.4 488.6L230.7 487.7L233.1 486.8L235.4 485.8L237.7 484.9L240.0 483.9L241.8 483.2L242.4 482.9L244.7 482.0L247.0 481.0L249.3 480.0L251.7 479.0L254.0 478.0L256.3 477.1" fill="none" stroke="#000" stroke-width="1.0" stroke-dasharray="3.2 3.2"/><path d="M47.5 552.2L51.5 556.2M47.5 556.2L51.5 552.2M46.7 554.2H52.3M49.5 551.4V557.0" fill="none" stroke="#000" stroke-width="0.85"/><path d="M48.3 550.0L52.3 554.0M48.3 554.0L52.3 550.0M47.5 552.0H53.2M50.3 549.2V554.8" fill="none" stroke="#000" stroke-width="0.85"/><path d="M48.5 546.7L52.5 550.7M48.5 550.7L52.5 546.7M47.7 548.7H53.4M50.5 545.8V551.5" fill="none" stroke="#000" stroke-width="0.85"/><path d="M48.7 543.3L52.7 547.3M48.7 547.3L52.7 543.3M47.9 545.3H53.6M50.7 542.5V548.1" fill="none" stroke="#000" stroke-width="0.85"/><path d="M48.9 540.0L52.9 544.0M48.9 544.0L52.9 540.0M48.1 542.0H53.8M50.9 539.2V544.8" fill="none" stroke="#000" stroke-width="0.85"/><path d="M49.6 537.2L53.6 541.2M49.6 541.2L53.6 537.2M48.7 539.2H54.4M51.6 536.4V542.0" fill="none" stroke="#000" stroke-width="0.85"/><path d="M51.2 535.8L55.2 539.8M51.2 539.8L55.2 535.8M50.4 537.8H56.1M53.2 535.0V540.7" fill="none" stroke="#000" stroke-width="0.85"/><path d="M53.3 535.6L57.3 539.6M53.3 539.6L57.3 535.6M52.5 537.6H58.1M55.3 534.7V540.4" fill="none" stroke="#000" stroke-width="0.85"/><path d="M55.8 535.6L59.8 539.6M55.8 539.6L59.8 535.6M54.9 537.6H60.6M57.8 534.7V540.4" fill="none" stroke="#000" stroke-width="0.85"/><path d="M57.8 535.6L61.8 539.6M57.8 539.6L61.8 535.6M57.0 537.6H62.7M59.8 534.7V540.4" fill="none" stroke="#000" stroke-width="0.85"/><path d="M254.3 475.1L258.3 479.1M254.3 479.1L258.3 475.1M253.5 477.1H259.1M256.3 474.2V479.9" fill="none" stroke="#000" stroke-width="0.85"/><path d="M49.5 554.2L256.3 554.2" fill="none" stroke="#000" stroke-width="1.0" stroke-dasharray="0.9 2.6"/><path d="M49.5 551.4L52.3 554.2L49.5 557.0L46.7 554.2ZM46.7 554.2H52.3M49.5 551.4V557.0" fill="none" stroke="#000" stroke-width="0.85"/><path d="M66.7 551.4L69.5 554.2L66.7 557.0L63.8 554.2ZM63.8 554.2H69.5M66.7 551.4V557.0" fill="none" stroke="#000" stroke-width="0.85"/><path d="M85.9 551.4L88.7 554.2L85.9 557.0L83.1 554.2ZM83.1 554.2H88.7M85.9 551.4V557.0" fill="none" stroke="#000" stroke-width="0.85"/><path d="M100.4 551.4L103.2 554.2L100.4 557.0L97.5 554.2ZM97.5 554.2H103.2M100.4 551.4V557.0" fill="none" stroke="#000" stroke-width="0.85"/><path d="M116.5 551.4L119.3 554.2L116.5 557.0L113.7 554.2ZM113.7 554.2H119.3M116.5 551.4V557.0" fill="none" stroke="#000" stroke-width="0.85"/><path d="M214.3 551.4L217.1 554.2L214.3 557.0L211.5 554.2ZM211.5 554.2H217.1M214.3 551.4V557.0" fill="none" stroke="#000" stroke-width="0.85"/><path d="M256.3 551.4L259.1 554.2L256.3 557.0L253.5 554.2ZM253.5 554.2H259.1M256.3 551.4V557.0" fill="none" stroke="#000" stroke-width="0.85"/><path d="M49.5 554.2L51.8 553.4L54.1 552.6L56.5 551.8L58.8 550.9L61.1 550.1L63.4 549.2L65.8 548.2L68.1 547.3L70.2 546.4L70.4 546.3L72.7 545.4L75.1 544.4L77.4 543.4L79.7 542.3L82.0 541.3L84.4 540.2L86.7 539.1L89.0 538.0L91.3 536.8L93.6 535.7L96.0 534.4L98.3 533.1L100.6 531.8L101.2 531.4L102.9 530.4L105.3 528.8L107.6 527.2L109.9 525.5L112.2 523.7L114.6 521.8L116.9 519.9L119.2 518.0L121.5 516.1L123.9 514.2L126.2 512.4L128.5 510.6L130.8 508.8L131.8 508.1L133.1 507.2L135.5 505.6L137.8 504.1L140.1 502.6L142.4 501.1L144.8 499.6L147.1 498.2L149.4 496.7L151.7 495.1L154.1 493.6L156.4 491.9L158.7 490.2L159.9 489.3L161.0 488.4L163.4 486.5L165.7 484.6L168.0 482.6L170.3 480.6L172.7 478.5L175.0 476.4L177.3 474.2L179.6 472.0L181.9 469.7L184.3 467.4L186.6 465.1L188.9 462.7L191.2 460.3L193.6 457.8L194.3 457.1L195.9 455.3L198.2 452.7L200.5 450.0L202.9 447.2L205.2 444.3L207.5 441.4L209.8 438.4L212.2 435.4L214.5 432.4L216.8 429.4L219.1 426.4L221.4 423.5L223.0 421.6L223.8 420.6L226.1 417.8L228.4 414.9L230.7 412.1L233.1 409.2L235.4 406.3L236.9 404.4L237.7 403.2L240.0 400.1L242.4 396.8L244.1 394.4L244.7 393.5L247.0 390.5L249.3 386.7L249.7 386.0L251.7 380.9L252.6 377.2L254.0 366.0L256.3 332.8" fill="none" stroke="#000" stroke-width="1.0" stroke-dasharray="0.8 2.55 3.1 2.55"/><circle cx="49.5" cy="554.2" r="2.0" fill="none" stroke="#000" stroke-width="0.85"/><path d="M47.5 554.2H51.5M49.5 552.2V556.2" fill="none" stroke="#000" stroke-width="0.85"/><circle cx="50.5" cy="553.9" r="2.0" fill="none" stroke="#000" stroke-width="0.85"/><path d="M48.5 553.9H52.5M50.5 551.9V555.9" fill="none" stroke="#000" stroke-width="0.85"/><circle cx="52.0" cy="553.4" r="2.0" fill="none" stroke="#000" stroke-width="0.85"/><path d="M50.0 553.4H54.0M52.0 551.4V555.4" fill="none" stroke="#000" stroke-width="0.85"/><circle cx="223.0" cy="421.6" r="2.0" fill="none" stroke="#000" stroke-width="0.85"/><path d="M221.0 421.6H225.0M223.0 419.6V423.6" fill="none" stroke="#000" stroke-width="0.85"/><circle cx="236.9" cy="404.4" r="2.0" fill="none" stroke="#000" stroke-width="0.85"/><path d="M234.9 404.4H238.9M236.9 402.4V406.4" fill="none" stroke="#000" stroke-width="0.85"/><circle cx="244.1" cy="394.4" r="2.0" fill="none" stroke="#000" stroke-width="0.85"/><path d="M242.1 394.4H246.1M244.1 392.4V396.4" fill="none" stroke="#000" stroke-width="0.85"/><circle cx="249.7" cy="386.0" r="2.0" fill="none" stroke="#000" stroke-width="0.85"/><path d="M247.7 386.0H251.7M249.7 384.0V388.0" fill="none" stroke="#000" stroke-width="0.85"/><circle cx="252.6" cy="377.2" r="2.0" fill="none" stroke="#000" stroke-width="0.85"/><path d="M250.6 377.2H254.6M252.6 375.2V379.2" fill="none" stroke="#000" stroke-width="0.85"/><circle cx="256.3" cy="332.8" r="2.0" fill="none" stroke="#000" stroke-width="0.85"/><path d="M254.3 332.8H258.3M256.3 330.8V334.8" fill="none" stroke="#000" stroke-width="0.85"/><path d="M49.5 554.2L51.8 554.2L54.1 554.2L56.5 554.2L58.8 554.1L61.1 554.1L63.4 554.1L65.8 554.0L68.1 554.0L70.4 553.9L72.7 553.9L75.1 553.8L77.4 553.7L79.7 553.7L82.0 553.6L84.4 553.5L86.7 553.5L89.0 553.4L91.3 553.3L93.6 553.2L96.0 553.1L98.3 553.0L100.6 553.0L102.9 552.9L105.3 552.8L107.6 552.7L109.9 552.6L111.5 552.5L112.2 552.5L114.6 552.4L116.9 552.3L119.2 552.1L121.5 552.0L123.9 551.8L126.2 551.6L128.5 551.4L130.8 551.3L133.1 551.1L135.5 550.9L137.8 550.7L140.1 550.5L142.4 550.3L144.8 550.2L147.1 550.0L149.4 549.9L151.7 549.8L152.9 549.8L154.1 549.7L156.4 549.6L158.7 549.6L161.0 549.5L163.4 549.5L165.7 549.4L168.0 549.4L170.3 549.3L172.7 549.3L175.0 549.2L177.3 549.2L179.6 549.1L181.9 549.1L184.3 549.0L186.6 548.9L188.9 548.9L191.2 548.8L193.6 548.7L194.3 548.7L195.9 548.6L198.2 548.4L200.5 548.2L202.9 548.0L205.2 547.8L207.5 547.5L209.8 547.2L212.2 546.9L214.5 546.5L214.9 546.4L216.8 546.1L219.1 545.5L221.4 544.8L223.8 544.1L226.1 543.2L228.4 542.3L230.7 541.3L233.1 540.3L235.4 539.3L235.6 539.2L237.7 538.3L240.0 537.2L242.4 536.0L244.7 534.7L247.0 533.3L249.3 531.9L251.7 530.5L254.0 529.0L256.3 527.4" fill="none" stroke="#000" stroke-width="1.0" stroke-dasharray="6 2.6"/><path d="M49.5 551.1L52.2 556.5L46.8 556.5ZM49.5 557.3L52.2 551.9L46.8 551.9Z" fill="none" stroke="#000" stroke-width="0.85"/><path d="M65.6 550.9L68.3 556.4L62.9 556.4ZM65.6 557.1L68.3 551.7L62.9 551.7Z" fill="none" stroke="#000" stroke-width="0.85"/><path d="M104.1 549.7L106.8 555.2L101.4 555.2ZM104.1 555.9L106.8 550.5L101.4 550.5Z" fill="none" stroke="#000" stroke-width="0.85"/><path d="M114.2 549.3L116.9 554.7L111.5 554.7ZM114.2 555.5L116.9 550.1L111.5 550.1Z" fill="none" stroke="#000" stroke-width="0.85"/><path d="M124.2 548.7L126.8 554.1L121.5 554.1ZM124.2 554.9L126.8 549.4L121.5 549.4Z" fill="none" stroke="#000" stroke-width="0.85"/><path d="M133.0 548.0L135.7 553.4L130.4 553.4ZM133.0 554.2L135.7 548.7L130.4 548.7Z" fill="none" stroke="#000" stroke-width="0.85"/><path d="M141.5 547.3L144.2 552.7L138.8 552.7ZM141.5 553.5L144.2 548.1L138.8 548.1Z" fill="none" stroke="#000" stroke-width="0.85"/><path d="M153.1 546.6L155.8 552.1L150.4 552.1ZM153.1 552.9L155.8 547.4L150.4 547.4Z" fill="none" stroke="#000" stroke-width="0.85"/><path d="M165.3 546.3L168.0 551.7L162.6 551.7ZM165.3 552.5L168.0 547.1L162.6 547.1Z" fill="none" stroke="#000" stroke-width="0.85"/><path d="M175.9 546.1L178.5 551.5L173.2 551.5ZM175.9 552.3L178.5 546.9L173.2 546.9Z" fill="none" stroke="#000" stroke-width="0.85"/><path d="M198.8 545.3L201.5 550.7L196.1 550.7ZM198.8 551.5L201.5 546.0L196.1 546.0Z" fill="none" stroke="#000" stroke-width="0.85"/><path d="M256.3 524.3L259.0 529.7L253.6 529.7ZM256.3 530.5L259.0 525.1L253.6 525.1Z" fill="none" stroke="#000" stroke-width="0.85"/></g>
<rect x="41.8" y="323.5" width="223.0" height="239.5" fill="none" stroke="#6e6e6e" stroke-width="1"/>
<path d="M49.5 563.0v3.9M90.9 563.0v3.9M132.2 563.0v3.9M173.6 563.0v3.9M214.9 563.0v3.9M256.3 563.0v3.9M41.8 332.1h-3.8M41.8 387.6h-3.8M41.8 443.2h-3.8M41.8 498.7h-3.8M41.8 554.2h-3.8" stroke="#858585" stroke-width="0.85" fill="none"/>
<text x="50.0" y="577.8" font-size="11.9" text-anchor="middle" textLength="15.6" lengthAdjust="spacingAndGlyphs">0.0</text>
<text x="91.3" y="577.8" font-size="11.9" text-anchor="middle" textLength="15.6" lengthAdjust="spacingAndGlyphs">0.2</text>
<text x="132.5" y="577.8" font-size="11.9" text-anchor="middle" textLength="15.6" lengthAdjust="spacingAndGlyphs">0.4</text>
<text x="174.1" y="577.8" font-size="11.9" text-anchor="middle" textLength="15.6" lengthAdjust="spacingAndGlyphs">0.6</text>
<text x="213.9" y="577.8" font-size="11.9" text-anchor="middle" textLength="15.6" lengthAdjust="spacingAndGlyphs">0.8</text>
<text x="252.7" y="577.8" font-size="11.9" text-anchor="middle" textLength="15.6" lengthAdjust="spacingAndGlyphs">1.0</text>
<text x="32.1" y="336.3" font-size="11.9" text-anchor="end" textLength="5.6" lengthAdjust="spacingAndGlyphs">4</text>
<text x="32.1" y="391.8" font-size="11.9" text-anchor="end" textLength="5.6" lengthAdjust="spacingAndGlyphs">3</text>
<text x="32.1" y="447.4" font-size="11.9" text-anchor="end" textLength="5.6" lengthAdjust="spacingAndGlyphs">2</text>
<text x="32.1" y="502.9" font-size="11.9" text-anchor="end" textLength="5.6" lengthAdjust="spacingAndGlyphs">1</text>
<text x="32.1" y="558.4" font-size="11.9" text-anchor="end" textLength="5.6" lengthAdjust="spacingAndGlyphs">0</text>
<text x="152.9" y="593.4" font-size="14.8" text-anchor="middle" textLength="94.2" lengthAdjust="spacingAndGlyphs">Rescaled range</text>
<text x="11.2" y="443.6" font-size="15.0" text-anchor="middle" textLength="52.4" lengthAdjust="spacingAndGlyphs" transform="rotate(-90 11.2 443.6)">I-splines</text>
<text x="48.2" y="339.0" font-size="11.4" textLength="30.5" lengthAdjust="spacingAndGlyphs">Zeta 3</text>
<g><path d="M339.3 554.5L546.3 554.5" fill="none" stroke="#000" stroke-width="1.0"/><circle cx="339.3" cy="554.5" r="2.0" fill="none" stroke="#000" stroke-width="0.85"/><circle cx="422.7" cy="554.5" r="2.0" fill="none" stroke="#000" stroke-width="0.85"/><circle cx="428.5" cy="554.5" r="2.0" fill="none" stroke="#000" stroke-width="0.85"/><circle cx="436.2" cy="554.5" r="2.0" fill="none" stroke="#000" stroke-width="0.85"/><circle cx="446.9" cy="554.5" r="2.0" fill="none" stroke="#000" stroke-width="0.85"/><circle cx="456.0" cy="554.5" r="2.0" fill="none" stroke="#000" stroke-width="0.85"/><circle cx="468.3" cy="554.5" r="2.0" fill="none" stroke="#000" stroke-width="0.85"/><circle cx="472.8" cy="554.5" r="2.0" fill="none" stroke="#000" stroke-width="0.85"/><circle cx="485.2" cy="554.5" r="2.0" fill="none" stroke="#000" stroke-width="0.85"/><circle cx="498.9" cy="554.5" r="2.0" fill="none" stroke="#000" stroke-width="0.85"/><circle cx="517.3" cy="554.5" r="2.0" fill="none" stroke="#000" stroke-width="0.85"/><circle cx="546.3" cy="554.5" r="2.0" fill="none" stroke="#000" stroke-width="0.85"/><path d="M339.3 554.5L341.6 554.4L344.0 554.2L346.3 554.1L348.6 553.9L350.9 553.7L353.3 553.5L355.6 553.2L357.9 552.9L360.0 552.7L360.2 552.7L362.6 552.4L364.9 552.1L367.2 551.7L369.5 551.3L371.9 550.9L374.2 550.4L376.5 549.9L378.8 549.4L381.2 548.9L383.5 548.4L385.8 547.9L387.3 547.5L388.1 547.3L390.5 546.7L392.8 546.1L395.1 545.4L397.4 544.6L399.8 543.9L402.1 543.1L403.9 542.6L404.4 542.4L406.7 541.6L409.1 540.9L411.4 540.1L413.7 539.3L415.7 538.5L416.1 538.3L418.4 537.3L420.7 536.1L423.0 534.9L425.4 533.6L427.7 532.3L430.0 531.0L431.8 530.0L432.3 529.8L434.7 528.5L437.0 527.3L439.3 526.1L441.6 524.7L441.8 524.6L444.0 523.3L446.3 521.9L448.6 520.3L450.9 518.6L452.3 517.5L453.3 516.7L455.6 514.5L457.9 512.2L460.2 509.6L462.6 507.0L464.9 504.2L467.2 501.4L467.2 501.4L469.5 498.5L471.9 495.5L474.2 492.4L476.5 489.2L478.9 485.8L481.2 482.4L483.5 478.8L485.8 475.1L486.9 473.3L488.2 471.2L490.5 467.1L492.8 462.8L495.1 458.2L497.5 453.6L499.8 448.8L502.1 444.0L504.4 439.1L504.9 438.1L506.8 434.1L509.1 429.1L511.4 424.0L513.7 418.8L516.1 413.5L518.4 408.0L520.7 402.5L523.0 396.8L525.4 390.9L525.6 390.3L527.7 384.9L530.0 378.7L532.3 372.4L534.7 365.9L537.0 359.3L539.3 352.5L541.6 345.5L544.0 338.4L546.3 331.2" fill="none" stroke="#000" stroke-width="1.0" stroke-dasharray="3.2 3.2"/><path d="M339.3 551.4L342.0 556.1L336.6 556.1Z" fill="none" stroke="#000" stroke-width="0.85"/><path d="M387.3 544.4L390.0 549.1L384.6 549.1Z" fill="none" stroke="#000" stroke-width="0.85"/><path d="M403.9 539.4L406.6 544.1L401.2 544.1Z" fill="none" stroke="#000" stroke-width="0.85"/><path d="M415.7 535.4L418.4 540.1L413.0 540.1Z" fill="none" stroke="#000" stroke-width="0.85"/><path d="M431.8 526.9L434.5 531.6L429.1 531.6Z" fill="none" stroke="#000" stroke-width="0.85"/><path d="M441.8 521.5L444.5 526.2L439.1 526.2Z" fill="none" stroke="#000" stroke-width="0.85"/><path d="M452.3 514.4L455.0 519.0L449.6 519.0Z" fill="none" stroke="#000" stroke-width="0.85"/><path d="M467.2 498.3L469.9 502.9L464.5 502.9Z" fill="none" stroke="#000" stroke-width="0.85"/><path d="M486.9 470.2L489.6 474.9L484.2 474.9Z" fill="none" stroke="#000" stroke-width="0.85"/><path d="M546.3 328.1L549.0 332.8L543.6 332.8Z" fill="none" stroke="#000" stroke-width="0.85"/><path d="M339.3 554.5L341.6 554.5L344.0 554.5L346.3 554.5L348.6 554.5L350.9 554.5L353.3 554.5L355.6 554.5L357.9 554.5L360.2 554.5L362.6 554.5L364.9 554.5L367.2 554.5L369.5 554.5L371.9 554.5L374.2 554.5L376.5 554.5L378.8 554.5L381.2 554.5L383.5 554.5L385.8 554.5L388.1 554.5L390.5 554.5L392.8 554.5L395.1 554.5L397.4 554.5L399.8 554.5L402.1 554.5L404.4 554.5L406.7 554.5L409.1 554.5L411.4 554.5L413.7 554.5L416.1 554.5L418.4 554.5L420.7 554.5L422.1 554.5L423.0 554.5L425.4 554.5L427.7 554.5L430.0 554.4L432.3 554.4L434.7 554.3L437.0 554.3L439.3 554.2L441.6 554.1L444.0 554.0L446.3 553.9L448.6 553.8L450.9 553.6L453.3 553.5L455.6 553.3L457.9 553.2L460.2 553.0L462.6 552.7L464.9 552.5L467.2 552.3L469.5 552.0L471.9 551.8L473.8 551.5L474.2 551.5L476.5 550.7L478.9 549.4L481.2 548.1L482.8 547.3L483.5 547.0L485.8 546.2L488.2 545.4L490.5 544.7L492.8 543.9L495.1 543.1L497.5 542.2L499.8 541.1L501.4 540.3L502.1 539.8L504.4 538.0L506.8 535.7L509.1 533.0L511.4 530.1L513.7 527.1L516.1 524.2L516.7 523.5L518.4 521.4L520.7 518.5L523.0 515.6L525.4 512.6L527.7 509.5L530.0 506.3L532.0 503.6L532.3 503.1L534.7 499.8L537.0 496.5L539.3 493.0L541.6 489.5L544.0 485.9L546.3 482.3" fill="none" stroke="#000" stroke-width="1.0" stroke-dasharray="0.9 2.6"/><path d="M336.5 554.5H342.1M339.3 551.7V557.3" fill="none" stroke="#000" stroke-width="0.85"/><path d="M437.9 554.2H443.6M440.7 551.3V557.0" fill="none" stroke="#000" stroke-width="0.85"/><path d="M460.1 552.7H465.7M462.9 549.9V555.5" fill="none" stroke="#000" stroke-width="0.85"/><path d="M479.9 547.3H485.6M482.8 544.5V550.2" fill="none" stroke="#000" stroke-width="0.85"/><path d="M543.5 482.3H549.1M546.3 479.4V485.1" fill="none" stroke="#000" stroke-width="0.85"/><path d="M339.3 554.5L341.6 554.5L344.0 554.4L346.3 554.3L348.6 554.2L350.9 554.1L353.3 553.9L355.6 553.7L357.9 553.4L360.2 553.2L362.6 552.9L364.9 552.6L367.2 552.3L369.5 552.0L371.9 551.6L374.2 551.3L376.5 551.0L378.8 550.6L380.7 550.3L381.2 550.2L383.5 549.8L385.8 549.3L388.1 548.7L390.5 548.1L392.8 547.4L395.1 546.7L397.4 545.9L399.8 545.1L402.1 544.3L404.4 543.6L406.7 542.8L409.1 542.0L411.4 541.3L413.7 540.7L415.1 540.3L416.1 540.0L418.4 539.5L420.7 538.9L423.0 538.3L425.4 537.8L427.7 537.3L430.0 536.7L430.4 536.6L432.3 536.1L434.7 535.5L437.0 534.9L439.3 534.2L441.6 533.6L444.0 533.0L445.3 532.7L446.3 532.5L448.6 531.9L450.9 531.3L453.3 530.7L455.6 530.1L457.9 529.5L460.2 528.9L462.6 528.4L464.9 527.8L467.2 527.3L469.5 526.8L471.9 526.4L474.2 526.0L475.1 525.8L476.5 525.6L478.9 525.3L481.2 524.9L483.5 524.6L485.8 524.3L488.2 524.0L490.5 523.7L492.8 523.4L495.1 523.2L497.5 522.9L499.8 522.7L502.1 522.5L504.4 522.3L504.9 522.3L506.8 522.1L509.1 521.9L511.4 521.8L513.7 521.6L516.1 521.4L518.4 521.3L520.7 521.1L523.0 521.0L525.4 520.8L527.7 520.7L530.0 520.6L532.3 520.5L534.7 520.4L537.0 520.3L539.3 520.2L541.6 520.1L544.0 520.0L546.3 520.0" fill="none" stroke="#000" stroke-width="1.0" stroke-dasharray="0.8 2.55 3.1 2.55"/><path d="M337.3 552.5L341.3 556.5M337.3 556.5L341.3 552.5" fill="none" stroke="#000" stroke-width="0.85"/><path d="M413.1 538.3L417.1 542.3M413.1 542.3L417.1 538.3" fill="none" stroke="#000" stroke-width="0.85"/><path d="M428.4 534.6L432.4 538.6M428.4 538.6L432.4 534.6" fill="none" stroke="#000" stroke-width="0.85"/><path d="M443.3 530.7L447.3 534.7M443.3 534.7L447.3 530.7" fill="none" stroke="#000" stroke-width="0.85"/><path d="M473.1 523.8L477.1 527.8M473.1 527.8L477.1 523.8" fill="none" stroke="#000" stroke-width="0.85"/><path d="M544.3 518.0L548.3 522.0M544.3 522.0L548.3 518.0" fill="none" stroke="#000" stroke-width="0.85"/><path d="M339.3 554.5L341.6 554.3L344.0 554.2L346.3 554.0L348.6 553.9L350.9 553.8L353.3 553.6L355.6 553.5L357.9 553.4L360.0 553.3L360.2 553.3L362.6 553.2L364.9 553.1L367.2 553.0L369.5 552.9L371.9 552.8L374.2 552.7L376.5 552.6L378.8 552.5L381.2 552.4L383.5 552.3L385.8 552.2L388.1 552.2L390.5 552.1L392.8 552.1L395.1 552.1L395.2 552.1L397.4 552.1L399.8 552.1L402.1 552.1L404.4 552.1L406.7 552.1L409.1 552.1L411.4 552.1L413.7 552.1L416.1 552.1L418.4 552.1L420.7 552.1L423.0 552.1L425.4 552.1L427.7 552.1L430.0 552.1L432.3 552.1L434.7 552.1L437.0 552.1L439.3 552.1L441.6 552.1L444.0 552.1L446.3 552.1L448.6 552.1L450.9 552.1L453.3 552.1L455.6 552.1L457.9 552.1L460.2 552.1L462.6 552.1L464.9 552.1L467.2 552.1L469.5 552.1L471.9 552.1L474.2 552.1L476.5 552.1L478.9 552.1L481.2 552.1L483.5 552.1L485.8 552.1L488.2 552.1L490.5 552.1L492.8 552.1L495.1 552.1L497.5 552.1L499.8 552.1L502.1 552.1L504.4 552.1L506.8 552.1L509.1 552.1L511.4 552.1L513.7 552.1L516.1 552.1L518.4 552.1L520.7 552.1L523.0 552.1L525.4 552.1L527.7 552.1L530.0 552.1L532.3 552.1L534.7 552.1L537.0 552.1L539.3 552.1L541.6 552.1L544.0 552.1L546.3 552.1" fill="none" stroke="#000" stroke-width="1.0" stroke-dasharray="6 2.6"/><path d="M339.3 551.7L342.1 554.5L339.3 557.3L336.5 554.5Z" fill="none" stroke="#000" stroke-width="0.85"/><path d="M395.2 549.3L398.0 552.1L395.2 554.9L392.4 552.1Z" fill="none" stroke="#000" stroke-width="0.85"/><path d="M409.3 549.3L412.1 552.1L409.3 554.9L406.4 552.1Z" fill="none" stroke="#000" stroke-width="0.85"/><path d="M442.6 549.3L445.4 552.1L442.6 554.9L439.8 552.1Z" fill="none" stroke="#000" stroke-width="0.85"/><path d="M546.3 549.3L549.1 552.1L546.3 554.9L543.5 552.1Z" fill="none" stroke="#000" stroke-width="0.85"/><path d="M339.3 554.5L341.6 554.4L344.0 554.2L346.3 554.1L348.6 553.9L350.9 553.8L353.3 553.6L355.6 553.4L357.9 553.2L360.2 553.0L362.6 552.8L364.9 552.6L367.2 552.3L369.5 552.1L371.9 551.9L374.2 551.6L376.5 551.4L378.8 551.1L380.7 550.9L381.2 550.9L383.5 550.6L385.8 550.3L388.1 549.9L390.5 549.6L392.8 549.2L395.1 548.8L397.4 548.4L399.8 548.0L402.1 547.6L404.4 547.2L406.7 546.8L409.1 546.4L411.4 546.0L413.7 545.6L416.1 545.2L418.4 544.9L420.7 544.5L422.1 544.4L423.0 544.2L425.4 543.9L427.7 543.6L430.0 543.3L432.3 542.9L434.7 542.6L437.0 542.3L439.3 542.0L441.6 541.7L444.0 541.5L446.3 541.2L448.6 541.0L450.9 540.7L453.3 540.5L455.6 540.3L456.0 540.3L457.9 540.2L460.2 540.0L462.6 539.8L464.9 539.7L467.2 539.6L468.3 539.6L469.5 539.6L471.9 539.5L474.2 539.5L476.5 539.5L478.9 539.5L481.2 539.4L483.5 539.4L485.8 539.4L488.2 539.4L490.5 539.4L492.8 539.4L494.5 539.3L495.1 539.3L497.5 539.3L499.8 539.2L502.1 539.2L504.4 539.1L506.8 539.0L509.1 538.9L509.7 538.9L511.4 538.8L513.7 538.6L516.1 538.5L518.4 538.3L520.7 538.1L523.0 537.9L525.4 537.7L527.7 537.5L530.0 537.2L532.3 536.9L534.7 536.6L537.0 536.3L539.3 536.0L541.6 535.7L544.0 535.3L546.3 535.0" fill="none" stroke="#000" stroke-width="1.0" stroke-dasharray="1.8 1.8 5 1.8"/><path d="M339.3 557.6L342.0 552.9L336.6 552.9Z" fill="none" stroke="#000" stroke-width="0.85"/><path d="M456.0 543.4L458.7 538.7L453.4 538.7Z" fill="none" stroke="#000" stroke-width="0.85"/><path d="M468.3 542.7L471.0 538.0L465.6 538.0Z" fill="none" stroke="#000" stroke-width="0.85"/><path d="M476.5 542.6L479.2 537.9L473.8 537.9Z" fill="none" stroke="#000" stroke-width="0.85"/><path d="M485.2 542.5L487.9 537.9L482.5 537.9Z" fill="none" stroke="#000" stroke-width="0.85"/><path d="M489.8 542.5L492.5 537.8L487.1 537.8Z" fill="none" stroke="#000" stroke-width="0.85"/><path d="M494.3 542.4L497.0 537.8L491.6 537.8Z" fill="none" stroke="#000" stroke-width="0.85"/><path d="M501.2 542.3L503.9 537.6L498.5 537.6Z" fill="none" stroke="#000" stroke-width="0.85"/><path d="M509.7 542.0L512.4 537.3L507.0 537.3Z" fill="none" stroke="#000" stroke-width="0.85"/><path d="M546.3 538.1L549.0 533.4L543.6 533.4Z" fill="none" stroke="#000" stroke-width="0.85"/><path d="M339.3 554.5L341.6 554.4L344.0 554.2L346.3 554.1L348.6 553.9L350.9 553.8L353.3 553.6L355.6 553.4L357.9 553.2L360.2 553.1L362.6 552.9L364.9 552.7L367.2 552.5L369.5 552.2L371.9 552.0L374.2 551.8L376.5 551.6L378.8 551.3L380.7 551.2L381.2 551.1L383.5 550.9L385.8 550.6L388.1 550.3L390.5 550.0L392.8 549.7L395.1 549.3L397.4 549.0L399.8 548.6L402.1 548.3L404.4 547.9L406.7 547.6L409.1 547.2L411.4 546.9L413.7 546.6L416.1 546.3L418.4 546.0L420.7 545.7L422.1 545.5L423.0 545.4L425.4 545.2L427.7 544.9L430.0 544.7L432.3 544.5L434.7 544.2L437.0 544.0L439.3 543.8L441.6 543.6L444.0 543.4L446.3 543.3L448.0 543.2L448.6 543.1L450.9 543.0L453.3 542.8L455.6 542.7L457.9 542.6L460.2 542.5L462.6 542.4L463.5 542.4L464.9 542.4L467.2 542.4L469.5 542.4L471.9 542.4L474.2 542.4L476.5 542.4L478.9 542.4L481.2 542.4L483.5 542.4L485.8 542.4L488.2 542.4L490.5 542.4L492.8 542.4L495.1 542.4L497.5 542.4L499.8 542.4L502.1 542.3L504.4 542.3L506.8 542.3L509.1 542.3L511.4 542.3L513.7 542.3L516.1 542.3L518.4 542.3L520.7 542.3L523.0 542.3L525.4 542.3L527.7 542.3L530.0 542.3L532.3 542.3L534.7 542.3L537.0 542.3L539.3 542.3L541.6 542.3L544.0 542.3L546.3 542.3" fill="none" stroke="#000" stroke-width="1.0"/><path d="M337.3 552.5H341.3V556.5H337.3ZM337.3 552.5L341.3 556.5M337.3 556.5L341.3 552.5" fill="none" stroke="#000" stroke-width="0.85"/><path d="M446.4 541.1H450.4V545.1H446.4ZM446.4 541.1L450.4 545.1M446.4 545.1L450.4 541.1" fill="none" stroke="#000" stroke-width="0.85"/><path d="M461.1 540.4H465.1V544.4H461.1ZM461.1 540.4L465.1 544.4M461.1 544.4L465.1 540.4" fill="none" stroke="#000" stroke-width="0.85"/><path d="M476.4 540.4H480.4V544.4H476.4ZM476.4 540.4L480.4 544.4M476.4 544.4L480.4 540.4" fill="none" stroke="#000" stroke-width="0.85"/><path d="M484.7 540.4H488.7V544.4H484.7ZM484.7 540.4L488.7 544.4M484.7 544.4L488.7 540.4" fill="none" stroke="#000" stroke-width="0.85"/><path d="M496.1 540.4H500.1V544.4H496.1ZM496.1 540.4L500.1 544.4M496.1 544.4L500.1 540.4" fill="none" stroke="#000" stroke-width="0.85"/><path d="M507.7 540.3H511.7V544.3H507.7ZM507.7 540.3L511.7 544.3M507.7 544.3L511.7 540.3" fill="none" stroke="#000" stroke-width="0.85"/><path d="M515.9 540.3H519.9V544.3H515.9ZM515.9 540.3L519.9 544.3M515.9 544.3L519.9 540.3" fill="none" stroke="#000" stroke-width="0.85"/><path d="M525.3 540.3H529.3V544.3H525.3ZM525.3 540.3L529.3 544.3M525.3 544.3L529.3 540.3" fill="none" stroke="#000" stroke-width="0.85"/><path d="M544.3 540.3H548.3V544.3H544.3ZM544.3 540.3L548.3 544.3M544.3 544.3L548.3 540.3" fill="none" stroke="#000" stroke-width="0.85"/><path d="M339.3 554.5L341.6 553.3L344.0 552.0L346.3 550.8L348.6 549.5L350.9 548.3L353.3 547.1L355.6 545.8L357.9 544.6L360.2 543.4L362.6 542.1L364.9 540.9L367.2 539.7L369.5 538.5L371.9 537.3L374.2 536.1L376.5 534.9L378.8 533.7L380.7 532.7L381.2 532.5L383.5 531.3L385.8 530.0L388.1 528.8L390.5 527.6L392.8 526.4L395.1 525.1L397.4 524.0L399.8 522.8L402.1 521.7L404.4 520.6L406.6 519.6L406.7 519.5L409.1 518.5L411.4 517.5L413.7 516.5L416.1 515.6L418.4 514.7L420.7 513.8L422.1 513.3L423.0 513.0L425.4 512.1L427.7 511.2L430.0 510.4L432.3 509.6L434.7 508.8L437.0 508.0L439.3 507.2L441.6 506.5L442.8 506.1L444.0 505.8L446.3 505.1L448.6 504.4L450.9 503.8L453.3 503.1L455.6 502.5L457.9 502.0L460.2 501.4L462.6 500.9L463.5 500.8L464.9 500.5L467.2 500.1L469.5 499.7L471.9 499.3L474.2 499.0L476.5 498.6L478.9 498.3L481.2 498.0L483.5 497.7L485.8 497.5L488.2 497.2L488.8 497.2L490.5 497.0L492.8 496.9L495.1 496.7L497.5 496.6L499.8 496.5L502.1 496.3L504.4 496.2L506.8 496.1L509.1 496.0L511.4 495.8L513.7 495.7L516.1 495.5L516.7 495.4L518.4 495.2L520.7 495.0L523.0 494.7L525.4 494.3L527.7 493.9L530.0 493.5L532.3 493.1L534.7 492.6L537.0 492.2L539.3 491.6L541.6 491.1L544.0 490.6L546.3 490.0" fill="none" stroke="#000" stroke-width="1.0" stroke-dasharray="3.2 3.2"/><path d="M337.3 552.5L341.3 556.5M337.3 556.5L341.3 552.5M336.5 554.5H342.1M339.3 551.7V557.3" fill="none" stroke="#000" stroke-width="0.85"/><path d="M338.1 552.1L342.1 556.1M338.1 556.1L342.1 552.1M337.3 554.1H343.0M340.1 551.2V556.9" fill="none" stroke="#000" stroke-width="0.85"/><path d="M339.0 551.6L343.0 555.6M339.0 555.6L343.0 551.6M338.1 553.6H343.8M341.0 550.8V556.4" fill="none" stroke="#000" stroke-width="0.85"/><path d="M340.0 551.1L344.0 555.1M340.0 555.1L344.0 551.1M339.2 553.1H344.8M342.0 550.2V555.9" fill="none" stroke="#000" stroke-width="0.85"/><path d="M341.4 550.3L345.4 554.3M341.4 554.3L345.4 550.3M340.6 552.3H346.3M343.4 549.5V555.1" fill="none" stroke="#000" stroke-width="0.85"/><path d="M343.5 549.2L347.5 553.2M343.5 553.2L347.5 549.2M342.7 551.2H348.3M345.5 548.3V554.0" fill="none" stroke="#000" stroke-width="0.85"/><path d="M345.6 548.1L349.6 552.1M345.6 552.1L349.6 548.1M344.8 550.1H350.4M347.6 547.2V552.9" fill="none" stroke="#000" stroke-width="0.85"/><path d="M544.3 488.0L548.3 492.0M544.3 492.0L548.3 488.0M543.5 490.0H549.1M546.3 487.2V492.9" fill="none" stroke="#000" stroke-width="0.85"/><path d="M339.3 554.5L546.3 554.5" fill="none" stroke="#000" stroke-width="1.0" stroke-dasharray="0.9 2.6"/><path d="M339.3 551.7L342.1 554.5L339.3 557.3L336.5 554.5ZM336.5 554.5H342.1M339.3 551.7V557.3" fill="none" stroke="#000" stroke-width="0.85"/><path d="M356.5 551.7L359.3 554.5L356.5 557.3L353.7 554.5ZM353.7 554.5H359.3M356.5 551.7V557.3" fill="none" stroke="#000" stroke-width="0.85"/><path d="M375.7 551.7L378.6 554.5L375.7 557.3L372.9 554.5ZM372.9 554.5H378.6M375.7 551.7V557.3" fill="none" stroke="#000" stroke-width="0.85"/><path d="M390.2 551.7L393.1 554.5L390.2 557.3L387.4 554.5ZM387.4 554.5H393.1M390.2 551.7V557.3" fill="none" stroke="#000" stroke-width="0.85"/><path d="M406.4 551.7L409.2 554.5L406.4 557.3L403.5 554.5ZM403.5 554.5H409.2M406.4 551.7V557.3" fill="none" stroke="#000" stroke-width="0.85"/><path d="M504.3 551.7L507.1 554.5L504.3 557.3L501.5 554.5ZM501.5 554.5H507.1M504.3 551.7V557.3" fill="none" stroke="#000" stroke-width="0.85"/><path d="M546.3 551.7L549.1 554.5L546.3 557.3L543.5 554.5ZM543.5 554.5H549.1M546.3 551.7V557.3" fill="none" stroke="#000" stroke-width="0.85"/><path d="M440.9 519.4L442.1 518.4L443.3 517.4L444.5 516.3L445.7 515.3L446.9 514.3L448.0 513.3L449.2 512.2L450.4 511.2L451.6 510.1L452.8 509.1L454.0 508.1L455.1 507.0L456.3 506.0L457.5 504.9L458.7 503.9L459.9 502.8L461.1 501.8L462.2 500.7L463.4 499.6L463.5 499.6L464.6 498.6L465.8 497.5L467.0 496.5L468.2 495.4L469.3 494.4L470.5 493.3L471.7 492.3L472.9 491.2L474.1 490.1L475.3 489.1L476.5 488.0L477.6 486.9L478.8 485.8L480.0 484.7L481.2 483.6L482.4 482.5L483.6 481.4L484.7 480.2L485.9 479.1L486.9 478.1L487.1 477.9L488.3 476.7L489.5 475.4L490.7 474.2L491.8 472.9L493.0 471.6L494.2 470.3L495.4 469.0L496.6 467.7L497.8 466.3L498.9 465.0L500.1 463.7L501.3 462.3L502.5 460.9L503.7 459.6L504.9 458.2L506.0 456.9L507.2 455.5L508.4 454.2L509.6 452.9L510.8 451.5L512.0 450.2L512.1 450.0L513.2 448.9L514.3 447.7L515.5 446.4L516.7 445.1L517.9 443.8L519.1 442.5L519.8 441.7L520.3 441.1L521.4 439.8L522.6 438.3L523.8 436.9L525.0 435.4L526.2 434.0L526.2 433.9L527.4 432.5L528.5 431.0L529.7 429.5L530.9 428.0L531.8 426.7L532.1 426.3L533.3 424.6L534.5 422.7L535.6 420.8L536.8 418.9L537.2 418.4L538.0 417.3L539.2 416.0L540.4 414.2L540.9 413.0L541.6 410.7L542.7 403.4L543.6 396.9L543.9 394.2L545.1 382.3L546.3 367.6" fill="none" stroke="#000" stroke-width="1.0" stroke-dasharray="0.8 2.55 3.1 2.55"/><circle cx="440.9" cy="519.4" r="2.0" fill="none" stroke="#000" stroke-width="0.85"/><path d="M438.9 519.4H442.9M440.9 517.4V521.4" fill="none" stroke="#000" stroke-width="0.85"/><circle cx="519.8" cy="441.7" r="2.0" fill="none" stroke="#000" stroke-width="0.85"/><path d="M517.8 441.7H521.8M519.8 439.7V443.7" fill="none" stroke="#000" stroke-width="0.85"/><circle cx="526.2" cy="433.9" r="2.0" fill="none" stroke="#000" stroke-width="0.85"/><path d="M524.2 433.9H528.2M526.2 431.9V435.9" fill="none" stroke="#000" stroke-width="0.85"/><circle cx="531.8" cy="426.7" r="2.0" fill="none" stroke="#000" stroke-width="0.85"/><path d="M529.8 426.7H533.8M531.8 424.7V428.7" fill="none" stroke="#000" stroke-width="0.85"/><circle cx="537.2" cy="418.4" r="2.0" fill="none" stroke="#000" stroke-width="0.85"/><path d="M535.2 418.4H539.2M537.2 416.4V420.4" fill="none" stroke="#000" stroke-width="0.85"/><circle cx="540.9" cy="413.0" r="2.0" fill="none" stroke="#000" stroke-width="0.85"/><path d="M538.9 413.0H542.9M540.9 411.0V415.0" fill="none" stroke="#000" stroke-width="0.85"/><circle cx="543.6" cy="396.9" r="2.0" fill="none" stroke="#000" stroke-width="0.85"/><path d="M541.6 396.9H545.6M543.6 394.9V398.9" fill="none" stroke="#000" stroke-width="0.85"/><circle cx="546.3" cy="367.6" r="2.0" fill="none" stroke="#000" stroke-width="0.85"/><path d="M544.3 367.6H548.3M546.3 365.6V369.6" fill="none" stroke="#000" stroke-width="0.85"/><path d="M355.4 537.2L357.6 535.2L359.7 533.3L361.9 531.4L364.0 529.5L366.2 527.7L368.3 525.9L370.5 524.2L372.6 522.5L374.5 521.1L374.7 520.9L376.9 519.3L379.0 517.7L381.2 516.1L383.3 514.6L385.5 513.1L387.6 511.7L389.8 510.4L391.9 509.1L393.9 507.9L394.0 507.9L396.2 506.8L398.3 505.7L400.5 504.7L402.6 503.8L404.1 503.2L404.8 502.9L406.9 501.9L409.1 501.1L411.2 500.2L413.3 499.5L414.0 499.3L415.5 498.9L417.6 498.3L419.8 497.7L421.9 497.3L422.9 497.2L424.1 497.0L426.2 496.8L428.4 496.6L430.5 496.5L431.4 496.4L432.6 496.4L434.8 496.3L436.9 496.2L439.1 496.2L441.2 496.2L443.0 496.2L443.4 496.2L445.5 496.2L447.7 496.2L449.8 496.2L451.9 496.2L454.1 496.2L456.2 496.2L458.4 496.2L460.5 496.2L462.7 496.2L464.8 496.2L467.0 496.2L469.1 496.2L471.2 496.2L473.4 496.2L475.5 496.2L477.7 496.2L479.8 496.2L482.0 496.2L484.1 496.2L486.3 496.2L488.4 496.2L490.5 496.2L492.7 496.2L494.8 496.2L497.0 496.2L499.1 496.2L501.3 496.2L503.4 496.2L505.6 496.2L507.7 496.2L509.8 496.2L512.0 496.2L514.1 496.2L516.3 496.2L518.4 496.2L520.6 496.2L522.7 496.2L524.9 496.2L527.0 496.2L529.1 496.2L531.3 496.2L533.4 496.2L535.6 496.2L537.7 496.2L539.9 496.2L542.0 496.2L544.2 496.2L546.3 496.2" fill="none" stroke="#000" stroke-width="1.0" stroke-dasharray="6 2.6"/><path d="M355.4 534.1L358.1 539.5L352.8 539.5ZM355.4 540.3L358.1 534.9L352.8 534.9Z" fill="none" stroke="#000" stroke-width="0.85"/><path d="M393.9 504.8L396.6 510.3L391.3 510.3ZM393.9 511.0L396.6 505.6L391.3 505.6Z" fill="none" stroke="#000" stroke-width="0.85"/><path d="M404.1 500.0L406.8 505.5L401.4 505.5ZM404.1 506.3L406.8 500.8L401.4 500.8Z" fill="none" stroke="#000" stroke-width="0.85"/><path d="M414.0 496.2L416.7 501.6L411.3 501.6ZM414.0 502.4L416.7 496.9L411.3 496.9Z" fill="none" stroke="#000" stroke-width="0.85"/><path d="M422.9 494.1L425.6 499.5L420.2 499.5ZM422.9 500.3L425.6 494.9L420.2 494.9Z" fill="none" stroke="#000" stroke-width="0.85"/><path d="M431.4 493.3L434.1 498.7L428.7 498.7ZM431.4 499.5L434.1 494.1L428.7 494.1Z" fill="none" stroke="#000" stroke-width="0.85"/><path d="M443.0 493.1L445.7 498.5L440.3 498.5ZM443.0 499.3L445.7 493.8L440.3 493.8Z" fill="none" stroke="#000" stroke-width="0.85"/><path d="M455.2 493.1L457.9 498.5L452.5 498.5ZM455.2 499.3L457.9 493.8L452.5 493.8Z" fill="none" stroke="#000" stroke-width="0.85"/><path d="M465.8 493.1L468.5 498.5L463.1 498.5ZM465.8 499.3L468.5 493.8L463.1 493.8Z" fill="none" stroke="#000" stroke-width="0.85"/><path d="M488.8 493.1L491.4 498.5L486.1 498.5ZM488.8 499.3L491.4 493.8L486.1 493.8Z" fill="none" stroke="#000" stroke-width="0.85"/><path d="M546.3 493.1L549.0 498.5L543.6 498.5ZM546.3 499.3L549.0 493.8L543.6 493.8Z" fill="none" stroke="#000" stroke-width="0.85"/></g>
<rect x="331.8" y="323.5" width="223.0" height="239.5" fill="none" stroke="#6e6e6e" stroke-width="1"/>
<path d="M339.3 563.0v3.9M380.7 563.0v3.9M422.1 563.0v3.9M463.5 563.0v3.9M504.9 563.0v3.9M546.3 563.0v3.9M331.8 375.3h-3.8M331.8 435.1h-3.8M331.8 494.8h-3.8M331.8 554.5h-3.8" stroke="#858585" stroke-width="0.85" fill="none"/>
<text x="339.8" y="578.0" font-size="11.9" text-anchor="middle" textLength="15.6" lengthAdjust="spacingAndGlyphs">0.0</text>
<text x="381.2" y="578.0" font-size="11.9" text-anchor="middle" textLength="15.6" lengthAdjust="spacingAndGlyphs">0.2</text>
<text x="422.6" y="578.0" font-size="11.9" text-anchor="middle" textLength="15.6" lengthAdjust="spacingAndGlyphs">0.4</text>
<text x="464.0" y="578.0" font-size="11.9" text-anchor="middle" textLength="15.6" lengthAdjust="spacingAndGlyphs">0.6</text>
<text x="505.6" y="578.0" font-size="11.9" text-anchor="middle" textLength="15.6" lengthAdjust="spacingAndGlyphs">0.8</text>
<text x="546.3" y="578.0" font-size="11.9" text-anchor="middle" textLength="15.6" lengthAdjust="spacingAndGlyphs">1.0</text>
<text x="322.1" y="379.5" font-size="11.9" text-anchor="end" textLength="5.6" lengthAdjust="spacingAndGlyphs">3</text>
<text x="322.1" y="439.3" font-size="11.9" text-anchor="end" textLength="5.6" lengthAdjust="spacingAndGlyphs">2</text>
<text x="322.1" y="499.0" font-size="11.9" text-anchor="end" textLength="5.6" lengthAdjust="spacingAndGlyphs">1</text>
<text x="322.1" y="558.7" font-size="11.9" text-anchor="end" textLength="5.6" lengthAdjust="spacingAndGlyphs">0</text>
<text x="442.8" y="593.4" font-size="14.8" text-anchor="middle" textLength="94.2" lengthAdjust="spacingAndGlyphs">Rescaled range</text>
<text x="301.4" y="443.6" font-size="15.0" text-anchor="middle" textLength="52.4" lengthAdjust="spacingAndGlyphs" transform="rotate(-90 301.4 443.6)">I-splines</text>
<text x="340.1" y="338.8" font-size="11.4" textLength="30.5" lengthAdjust="spacingAndGlyphs">Zeta 3</text>
<g><path d="M49.4 851.5L51.7 851.5L54.0 851.5L56.4 851.5L58.7 851.5L61.0 851.5L63.3 851.5L65.7 851.5L68.0 851.5L70.3 851.5L72.6 851.5L75.0 851.4L77.3 851.4L79.6 851.4L81.9 851.4L84.3 851.4L86.6 851.4L88.9 851.4L91.2 851.4L93.6 851.3L95.9 851.3L98.2 851.3L100.5 851.3L102.9 851.3L105.2 851.2L107.5 851.2L109.8 851.2L112.2 851.2L114.5 851.1L116.8 851.1L119.1 851.1L121.5 851.1L121.8 851.1L123.8 851.0L126.1 850.9L128.4 850.8L130.8 850.7L133.1 850.6L135.4 850.4L137.7 850.2L140.1 850.0L142.4 849.8L144.7 849.6L147.0 849.4L149.4 849.1L151.7 848.9L152.8 848.8L154.0 848.7L156.3 848.5L158.7 848.3L161.0 848.1L163.3 847.8L165.6 847.6L168.0 847.3L170.3 847.0L172.6 846.7L173.5 846.6L174.9 846.4L177.3 846.0L179.6 845.6L181.9 845.1L184.2 844.7L186.6 844.1L188.9 843.6L191.2 843.0L193.5 842.5L195.9 841.9L195.9 841.8L198.2 841.2L200.5 840.5L202.8 839.8L205.2 839.0L207.5 838.2L208.9 837.7L209.8 837.4L212.1 836.5L214.5 835.6L216.8 834.6L219.1 833.6L221.4 832.5L223.8 831.5L226.1 830.3L228.2 829.3L228.4 829.1L230.7 827.9L233.1 826.6L235.4 825.3L237.7 823.9L240.0 822.5L242.4 821.0L244.7 819.5L247.0 818.0L249.3 816.3L251.7 814.7L254.0 813.0L256.3 811.2" fill="none" stroke="#000" stroke-width="1.0"/><circle cx="49.4" cy="851.5" r="2.0" fill="none" stroke="#000" stroke-width="0.85"/><circle cx="132.8" cy="850.6" r="2.0" fill="none" stroke="#000" stroke-width="0.85"/><circle cx="138.6" cy="850.1" r="2.0" fill="none" stroke="#000" stroke-width="0.85"/><circle cx="144.0" cy="849.6" r="2.0" fill="none" stroke="#000" stroke-width="0.85"/><circle cx="153.1" cy="848.8" r="2.0" fill="none" stroke="#000" stroke-width="0.85"/><circle cx="165.3" cy="847.6" r="2.0" fill="none" stroke="#000" stroke-width="0.85"/><circle cx="169.8" cy="847.1" r="2.0" fill="none" stroke="#000" stroke-width="0.85"/><circle cx="181.8" cy="845.2" r="2.0" fill="none" stroke="#000" stroke-width="0.85"/><circle cx="195.9" cy="841.8" r="2.0" fill="none" stroke="#000" stroke-width="0.85"/><circle cx="208.9" cy="837.7" r="2.0" fill="none" stroke="#000" stroke-width="0.85"/><circle cx="228.2" cy="829.3" r="2.0" fill="none" stroke="#000" stroke-width="0.85"/><circle cx="256.3" cy="811.2" r="2.0" fill="none" stroke="#000" stroke-width="0.85"/><circle cx="119.1" cy="835.3" r="2.0" fill="none" stroke="#000" stroke-width="0.85"/><path d="M49.4 851.5L256.3 851.5" fill="none" stroke="#000" stroke-width="1.0" stroke-dasharray="3.2 3.2"/><path d="M49.4 848.4L52.1 853.1L46.7 853.1Z" fill="none" stroke="#000" stroke-width="0.85"/><path d="M97.4 848.4L100.1 853.1L94.7 853.1Z" fill="none" stroke="#000" stroke-width="0.85"/><path d="M114.0 848.4L116.6 853.1L111.3 853.1Z" fill="none" stroke="#000" stroke-width="0.85"/><path d="M125.7 848.4L128.4 853.1L123.1 853.1Z" fill="none" stroke="#000" stroke-width="0.85"/><path d="M141.9 848.4L144.6 853.1L139.2 853.1Z" fill="none" stroke="#000" stroke-width="0.85"/><path d="M151.8 848.4L154.5 853.1L149.1 853.1Z" fill="none" stroke="#000" stroke-width="0.85"/><path d="M162.4 848.4L165.1 853.1L159.7 853.1Z" fill="none" stroke="#000" stroke-width="0.85"/><path d="M177.7 848.4L180.4 853.1L175.0 853.1Z" fill="none" stroke="#000" stroke-width="0.85"/><path d="M197.5 848.4L200.2 853.1L194.8 853.1Z" fill="none" stroke="#000" stroke-width="0.85"/><path d="M256.3 848.4L259.0 853.1L253.6 853.1Z" fill="none" stroke="#000" stroke-width="0.85"/><path d="M49.4 851.5L51.7 851.5L54.0 851.5L56.4 851.5L58.7 851.5L61.0 851.5L63.3 851.5L65.7 851.5L68.0 851.5L70.3 851.5L72.6 851.5L75.0 851.5L77.3 851.5L79.6 851.5L81.9 851.5L84.3 851.5L86.6 851.5L88.9 851.5L91.2 851.5L93.6 851.5L95.9 851.5L98.2 851.5L100.5 851.5L102.9 851.5L105.2 851.5L107.5 851.5L109.8 851.5L112.2 851.5L114.5 851.5L116.8 851.5L119.1 851.5L121.5 851.5L123.8 851.5L126.1 851.5L128.4 851.5L130.8 851.5L133.1 851.5L135.4 851.5L137.7 851.5L140.1 851.5L142.4 851.5L144.7 851.5L147.0 851.5L149.4 851.5L151.7 851.5L154.0 851.5L156.3 851.5L158.7 851.5L161.0 851.5L163.3 851.5L165.6 851.5L168.0 851.5L170.3 851.5L172.6 851.5L174.9 851.5L177.3 851.5L179.6 851.5L181.9 851.5L184.2 851.5L186.6 851.5L188.9 851.5L191.2 851.5L193.5 851.5L195.9 851.5L198.2 851.5L200.5 851.5L202.8 851.5L205.2 851.5L207.5 851.5L209.8 851.5L212.1 851.5L214.5 851.5L214.9 851.5L216.8 851.5L219.1 851.4L221.4 851.2L223.8 851.0L226.1 850.8L228.4 850.6L230.7 850.3L233.1 850.0L235.4 849.7L235.6 849.7L237.7 849.5L240.0 849.2L242.4 848.8L244.7 848.5L247.0 848.1L249.3 847.7L251.7 847.3L254.0 846.9L256.3 846.4" fill="none" stroke="#000" stroke-width="1.0" stroke-dasharray="0.9 2.6"/><path d="M46.6 851.5H52.2M49.4 848.7V854.3" fill="none" stroke="#000" stroke-width="0.85"/><path d="M148.0 851.5H153.6M150.8 848.7V854.3" fill="none" stroke="#000" stroke-width="0.85"/><path d="M170.1 851.5H175.7M172.9 848.7V854.3" fill="none" stroke="#000" stroke-width="0.85"/><path d="M179.0 851.5H184.6M181.8 848.7V854.3" fill="none" stroke="#000" stroke-width="0.85"/><path d="M191.0 851.5H196.6M193.8 848.7V854.3" fill="none" stroke="#000" stroke-width="0.85"/><path d="M202.8 851.5H208.4M205.6 848.7V854.3" fill="none" stroke="#000" stroke-width="0.85"/><path d="M253.5 846.4H259.1M256.3 843.6V849.3" fill="none" stroke="#000" stroke-width="0.85"/><path d="M49.4 851.5L51.7 849.8L54.0 848.1L56.4 846.4L58.7 844.7L59.7 843.9L61.0 843.0L63.3 841.2L65.7 839.3L68.0 837.4L70.3 835.5L72.6 833.7L75.0 832.1L77.3 830.6L79.0 829.7L79.6 829.4L81.9 828.3L84.3 827.4L86.6 826.6L88.7 825.8L88.9 825.7L91.2 824.9L93.6 824.0L95.9 823.2L98.2 822.4L100.5 821.8L102.0 821.5L102.9 821.3L105.2 820.9L107.5 820.5L109.8 820.1L112.2 819.8L114.5 819.7L115.6 819.7L116.8 819.6L119.1 819.6L121.5 819.6L123.8 819.6L126.1 819.6L128.4 819.6L130.8 819.6L132.2 819.6L133.1 819.6L135.4 819.6L137.7 819.6L140.1 819.6L142.4 819.6L144.7 819.6L147.0 819.6L149.4 819.6L151.7 819.6L154.0 819.6L156.3 819.6L158.7 819.6L161.0 819.6L163.3 819.6L165.6 819.6L168.0 819.6L170.3 819.6L172.6 819.6L174.9 819.6L177.3 819.6L179.6 819.6L181.9 819.6L184.2 819.6L186.6 819.6L188.9 819.6L191.2 819.6L193.5 819.6L195.9 819.6L198.2 819.6L200.5 819.6L202.8 819.6L205.2 819.6L207.5 819.6L209.8 819.6L212.1 819.6L214.5 819.6L216.8 819.6L219.1 819.6L221.4 819.6L223.8 819.6L226.1 819.6L228.4 819.6L230.7 819.6L233.1 819.6L235.4 819.6L237.7 819.6L240.0 819.6L242.4 819.6L244.7 819.6L247.0 819.6L249.3 819.6L251.7 819.6L254.0 819.6L256.3 819.6" fill="none" stroke="#000" stroke-width="1.0" stroke-dasharray="0.8 2.55 3.1 2.55"/><path d="M47.4 849.5L51.4 853.5M47.4 853.5L51.4 849.5" fill="none" stroke="#000" stroke-width="0.85"/><path d="M77.0 827.7L81.0 831.7M77.0 831.7L81.0 827.7" fill="none" stroke="#000" stroke-width="0.85"/><path d="M86.7 823.8L90.7 827.8M86.7 827.8L90.7 823.8" fill="none" stroke="#000" stroke-width="0.85"/><path d="M100.0 819.5L104.0 823.5M100.0 823.5L104.0 819.5" fill="none" stroke="#000" stroke-width="0.85"/><path d="M113.6 817.7L117.6 821.7M113.6 821.7L117.6 817.7" fill="none" stroke="#000" stroke-width="0.85"/><path d="M122.7 817.6L126.7 821.6M122.7 821.6L126.7 817.6" fill="none" stroke="#000" stroke-width="0.85"/><path d="M138.0 817.6L142.0 821.6M138.0 821.6L142.0 817.6" fill="none" stroke="#000" stroke-width="0.85"/><path d="M153.5 817.6L157.5 821.6M153.5 821.6L157.5 817.6" fill="none" stroke="#000" stroke-width="0.85"/><path d="M183.3 817.6L187.3 821.6M183.3 821.6L187.3 817.6" fill="none" stroke="#000" stroke-width="0.85"/><path d="M254.3 817.6L258.3 821.6M254.3 821.6L258.3 817.6" fill="none" stroke="#000" stroke-width="0.85"/><path d="M49.4 851.5L51.7 849.8L54.0 848.2L56.4 846.7L57.9 845.7L58.7 845.2L61.0 843.7L63.3 842.3L65.7 840.9L68.0 839.7L69.1 839.2L70.3 838.7L72.6 837.7L75.0 836.8L77.3 836.1L78.0 836.0L79.6 835.7L81.9 835.4L84.3 835.3L84.6 835.3L86.6 835.2L88.9 835.2L91.2 835.2L93.6 835.2L95.9 835.2L98.2 835.2L100.5 835.2L102.9 835.2L105.2 835.2L107.5 835.2L109.8 835.2L111.5 835.2L112.2 835.2L114.5 835.2L116.8 835.2L119.1 835.2L121.5 835.2L123.8 835.2L126.1 835.2L128.4 835.2L130.8 835.2L133.1 835.2L135.4 835.2L137.7 835.2L140.1 835.2L142.4 835.2L144.7 835.2L147.0 835.2L149.4 835.2L151.7 835.2L154.0 835.2L156.3 835.2L158.7 835.2L161.0 835.2L163.3 835.2L165.6 835.2L168.0 835.2L170.3 835.2L172.6 835.2L174.9 835.2L177.3 835.2L179.6 835.2L181.9 835.2L184.2 835.2L186.6 835.2L188.9 835.2L191.2 835.2L193.5 835.2L195.9 835.2L198.2 835.2L200.5 835.2L202.8 835.2L205.2 835.2L207.5 835.2L209.8 835.2L212.1 835.2L214.5 835.2L216.8 835.2L219.1 835.2L221.4 835.2L223.8 835.2L226.1 835.2L228.4 835.2L230.7 835.2L233.1 835.2L235.4 835.2L237.7 835.2L240.0 835.2L242.4 835.2L244.7 835.2L247.0 835.2L249.3 835.2L251.7 835.2L254.0 835.2L256.3 835.2" fill="none" stroke="#000" stroke-width="1.0" stroke-dasharray="6 2.6"/><path d="M49.4 848.7L52.2 851.5L49.4 854.3L46.6 851.5Z" fill="none" stroke="#000" stroke-width="0.85"/><path d="M57.9 842.9L60.7 845.7L57.9 848.5L55.1 845.7Z" fill="none" stroke="#000" stroke-width="0.85"/><path d="M69.1 836.4L71.9 839.2L69.1 842.1L66.2 839.2Z" fill="none" stroke="#000" stroke-width="0.85"/><path d="M78.0 833.2L80.8 836.0L78.0 838.8L75.1 836.0Z" fill="none" stroke="#000" stroke-width="0.85"/><path d="M84.6 832.4L87.4 835.3L84.6 838.1L81.7 835.3Z" fill="none" stroke="#000" stroke-width="0.85"/><path d="M94.5 832.4L97.3 835.2L94.5 838.0L91.7 835.2Z" fill="none" stroke="#000" stroke-width="0.85"/><path d="M104.6 832.4L107.5 835.2L104.6 838.0L101.8 835.2Z" fill="none" stroke="#000" stroke-width="0.85"/><path d="M152.4 832.3L155.3 835.2L152.4 838.0L149.6 835.2Z" fill="none" stroke="#000" stroke-width="0.85"/><path d="M256.3 832.3L259.1 835.2L256.3 838.0L253.5 835.2Z" fill="none" stroke="#000" stroke-width="0.85"/><path d="M49.4 851.5L51.7 849.7L54.0 848.0L56.4 846.2L58.7 844.4L61.0 842.7L63.3 840.9L65.7 839.1L68.0 837.3L70.1 835.7L70.3 835.5L72.6 833.7L75.0 831.9L77.3 830.1L79.6 828.3L81.9 826.5L84.3 824.6L86.6 822.8L88.9 821.0L90.8 819.6L91.2 819.3L93.6 817.4L95.9 815.6L98.2 813.7L100.5 811.9L102.9 810.0L105.2 808.2L107.5 806.5L109.8 804.8L112.2 803.2L114.5 801.6L116.4 800.5L116.8 800.3L119.1 799.0L121.5 797.7L123.8 796.6L126.1 795.5L128.4 794.4L130.8 793.4L132.2 792.9L133.1 792.5L135.4 791.6L137.7 790.7L140.1 789.9L142.4 789.1L144.7 788.3L147.0 787.5L149.4 786.8L151.7 786.1L154.0 785.4L156.3 784.8L158.7 784.3L159.9 784.0L161.0 783.7L163.3 783.2L165.6 782.7L168.0 782.3L170.3 781.8L172.6 781.5L174.9 781.1L177.3 780.9L178.3 780.8L179.6 780.7L181.9 780.5L184.2 780.3L186.6 780.1L188.9 780.0L191.2 779.9L193.5 779.9L194.2 779.9L195.9 779.9L198.2 779.9L200.5 779.9L202.8 779.9L205.2 779.9L207.5 779.9L209.8 779.9L212.1 779.9L214.5 779.9L216.8 779.9L219.1 779.9L221.4 779.9L223.8 779.9L226.1 779.9L228.4 779.9L230.7 779.9L233.1 779.9L235.4 779.9L237.7 779.9L240.0 779.9L242.4 779.9L244.7 779.9L247.0 779.9L249.3 779.9L251.7 779.9L254.0 779.9L256.3 779.9" fill="none" stroke="#000" stroke-width="1.0" stroke-dasharray="1.8 1.8 5 1.8"/><path d="M49.4 854.6L52.1 849.9L46.7 849.9Z" fill="none" stroke="#000" stroke-width="0.85"/><path d="M166.5 785.7L169.2 781.0L163.8 781.0Z" fill="none" stroke="#000" stroke-width="0.85"/><path d="M178.3 783.9L181.0 779.2L175.6 779.2Z" fill="none" stroke="#000" stroke-width="0.85"/><path d="M186.6 783.3L189.3 778.6L183.9 778.6Z" fill="none" stroke="#000" stroke-width="0.85"/><path d="M195.3 783.0L198.0 778.3L192.6 778.3Z" fill="none" stroke="#000" stroke-width="0.85"/><path d="M199.6 783.0L202.3 778.3L196.9 778.3Z" fill="none" stroke="#000" stroke-width="0.85"/><path d="M204.4 783.0L207.1 778.3L201.7 778.3Z" fill="none" stroke="#000" stroke-width="0.85"/><path d="M211.6 783.0L214.3 778.3L208.9 778.3Z" fill="none" stroke="#000" stroke-width="0.85"/><path d="M219.7 783.0L222.4 778.3L217.0 778.3Z" fill="none" stroke="#000" stroke-width="0.85"/><path d="M256.3 783.0L259.0 778.3L253.6 778.3Z" fill="none" stroke="#000" stroke-width="0.85"/><path d="M49.4 851.5L51.7 851.1L54.0 850.6L56.4 850.2L58.7 849.8L61.0 849.3L63.3 848.9L65.7 848.4L68.0 848.0L70.3 847.5L72.6 847.1L75.0 846.6L77.3 846.2L79.6 845.7L81.9 845.3L84.3 844.8L86.6 844.3L88.9 843.9L90.8 843.5L91.2 843.4L93.6 842.9L95.9 842.4L98.2 841.8L100.5 841.3L102.9 840.7L105.2 840.2L107.5 839.7L109.8 839.2L112.2 838.8L114.5 838.4L116.4 838.2L116.8 838.1L119.1 837.8L121.5 837.6L123.8 837.3L126.1 837.1L128.4 836.9L130.8 836.7L133.1 836.5L135.4 836.3L137.7 836.1L140.1 836.0L142.4 835.8L144.7 835.6L147.0 835.5L149.4 835.3L151.7 835.1L152.8 835.0L154.0 835.0L156.3 834.8L158.7 834.6L161.0 834.4L163.3 834.2L165.6 834.1L168.0 833.9L170.3 833.8L172.6 833.7L173.5 833.7L174.9 833.7L177.3 833.6L179.6 833.6L181.9 833.5L184.2 833.5L186.6 833.4L188.9 833.4L191.2 833.4L193.5 833.4L194.2 833.4L195.9 833.4L198.2 833.4L200.5 833.4L202.8 833.4L205.2 833.4L207.5 833.4L209.8 833.4L212.1 833.4L214.5 833.4L216.8 833.4L219.1 833.4L221.4 833.4L223.8 833.4L226.1 833.4L228.4 833.4L230.7 833.4L233.1 833.4L235.4 833.4L237.7 833.4L240.0 833.4L242.4 833.4L244.7 833.4L247.0 833.4L249.3 833.4L251.7 833.4L254.0 833.4L256.3 833.4" fill="none" stroke="#000" stroke-width="1.0"/><path d="M47.4 849.5H51.4V853.5H47.4ZM47.4 849.5L51.4 853.5M47.4 853.5L51.4 849.5" fill="none" stroke="#000" stroke-width="0.85"/><path d="M156.0 832.6H160.0V836.6H156.0ZM156.0 832.6L160.0 836.6M156.0 836.6L160.0 832.6" fill="none" stroke="#000" stroke-width="0.85"/><path d="M171.1 831.7H175.1V835.7H171.1ZM171.1 831.7L175.1 835.7M171.1 835.7L175.1 831.7" fill="none" stroke="#000" stroke-width="0.85"/><path d="M186.4 831.4H190.4V835.4H186.4ZM186.4 831.4L190.4 835.4M186.4 835.4L190.4 831.4" fill="none" stroke="#000" stroke-width="0.85"/><path d="M194.7 831.4H198.7V835.4H194.7ZM194.7 831.4L198.7 835.4M194.7 835.4L198.7 831.4" fill="none" stroke="#000" stroke-width="0.85"/><path d="M206.9 831.4H210.9V835.4H206.9ZM206.9 831.4L210.9 835.4M206.9 835.4L210.9 831.4" fill="none" stroke="#000" stroke-width="0.85"/><path d="M217.7 831.4H221.7V835.4H217.7ZM217.7 831.4L221.7 835.4M217.7 835.4L221.7 831.4" fill="none" stroke="#000" stroke-width="0.85"/><path d="M226.0 831.4H230.0V835.4H226.0ZM226.0 831.4L230.0 835.4M226.0 835.4L230.0 831.4" fill="none" stroke="#000" stroke-width="0.85"/><path d="M235.3 831.4H239.3V835.4H235.3ZM235.3 831.4L239.3 835.4M235.3 835.4L239.3 831.4" fill="none" stroke="#000" stroke-width="0.85"/><path d="M254.3 831.4H258.3V835.4H254.3ZM254.3 831.4L258.3 835.4M254.3 835.4L258.3 831.4" fill="none" stroke="#000" stroke-width="0.85"/><path d="M49.4 851.5L51.7 851.4L54.0 851.3L56.4 851.2L58.7 851.0L61.0 850.8L63.3 850.7L65.7 850.5L68.0 850.3L70.3 850.1L72.6 849.8L75.0 849.6L77.3 849.4L79.6 849.1L81.9 848.8L84.3 848.6L86.6 848.3L88.9 848.0L91.2 847.7L93.6 847.4L95.9 847.1L98.2 846.8L100.5 846.5L101.1 846.4L102.9 846.1L105.2 845.8L107.5 845.4L109.8 845.0L112.2 844.6L114.5 844.1L116.8 843.7L119.1 843.2L121.5 842.7L123.8 842.2L126.1 841.7L128.4 841.1L130.8 840.6L132.2 840.3L133.1 840.1L135.4 839.5L137.7 839.0L140.1 838.4L142.4 837.8L144.7 837.2L147.0 836.6L149.4 835.9L151.7 835.3L154.0 834.5L156.3 833.8L158.7 833.0L159.1 832.8L161.0 832.1L163.3 831.1L165.6 830.1L168.0 828.9L170.3 827.7L172.6 826.5L174.9 825.2L177.3 823.9L179.6 822.6L181.9 821.3L184.2 820.1L185.1 819.6L186.6 818.8L188.9 817.6L191.2 816.3L193.5 815.0L195.9 813.7L198.2 812.3L200.5 811.0L202.8 809.7L205.2 808.4L207.5 807.2L209.8 805.9L211.2 805.2L212.1 804.8L214.5 803.6L216.8 802.5L219.1 801.5L221.4 800.4L223.8 799.4L226.1 798.3L228.4 797.3L230.7 796.2L233.1 795.1L234.2 794.6L235.4 794.0L237.7 792.8L240.0 791.6L242.4 790.4L244.7 789.2L247.0 788.0L249.3 786.8L251.7 785.5L254.0 784.3L256.3 783.0" fill="none" stroke="#000" stroke-width="1.0" stroke-dasharray="3.2 3.2"/><path d="M47.4 849.5L51.4 853.5M47.4 853.5L51.4 849.5M46.6 851.5H52.2M49.4 848.7V854.3" fill="none" stroke="#000" stroke-width="0.85"/><path d="M48.2 849.5L52.2 853.5M48.2 853.5L52.2 849.5M47.4 851.5H53.1M50.2 848.6V854.3" fill="none" stroke="#000" stroke-width="0.85"/><path d="M49.1 849.4L53.1 853.4M49.1 853.4L53.1 849.4M48.2 851.4H53.9M51.1 848.6V854.3" fill="none" stroke="#000" stroke-width="0.85"/><path d="M50.1 849.4L54.1 853.4M50.1 853.4L54.1 849.4M49.3 851.4H54.9M52.1 848.6V854.2" fill="none" stroke="#000" stroke-width="0.85"/><path d="M51.5 849.3L55.5 853.3M51.5 853.3L55.5 849.3M50.7 851.3H56.4M53.5 848.5V854.1" fill="none" stroke="#000" stroke-width="0.85"/><path d="M53.6 849.2L57.6 853.2M53.6 853.2L57.6 849.2M52.8 851.2H58.4M55.6 848.4V854.0" fill="none" stroke="#000" stroke-width="0.85"/><path d="M254.3 781.0L258.3 785.0M254.3 785.0L258.3 781.0M253.5 783.0H259.1M256.3 780.2V785.8" fill="none" stroke="#000" stroke-width="0.85"/><path d="M49.4 851.5L256.3 851.5" fill="none" stroke="#000" stroke-width="1.0" stroke-dasharray="0.9 2.6"/><path d="M49.4 848.7L52.2 851.5L49.4 854.3L46.6 851.5ZM46.6 851.5H52.2M49.4 848.7V854.3" fill="none" stroke="#000" stroke-width="0.85"/><path d="M66.6 848.7L69.4 851.5L66.6 854.3L63.7 851.5ZM63.7 851.5H69.4M66.6 848.7V854.3" fill="none" stroke="#000" stroke-width="0.85"/><path d="M85.8 848.7L88.6 851.5L85.8 854.3L83.0 851.5ZM83.0 851.5H88.6M85.8 848.7V854.3" fill="none" stroke="#000" stroke-width="0.85"/><path d="M100.3 848.7L103.1 851.5L100.3 854.3L97.5 851.5ZM97.5 851.5H103.1M100.3 848.7V854.3" fill="none" stroke="#000" stroke-width="0.85"/><path d="M116.4 848.7L119.3 851.5L116.4 854.3L113.6 851.5ZM113.6 851.5H119.3M116.4 848.7V854.3" fill="none" stroke="#000" stroke-width="0.85"/><path d="M214.3 848.7L217.1 851.5L214.3 854.3L211.5 851.5ZM211.5 851.5H217.1M214.3 848.7V854.3" fill="none" stroke="#000" stroke-width="0.85"/><path d="M256.3 848.7L259.1 851.5L256.3 854.3L253.5 851.5ZM253.5 851.5H259.1M256.3 848.7V854.3" fill="none" stroke="#000" stroke-width="0.85"/><path d="M118.7 830.1L120.3 828.4L121.8 826.6L123.3 824.9L124.9 823.1L126.4 821.4L128.0 819.7L129.5 817.9L131.1 816.2L132.6 814.5L134.2 812.8L135.7 811.1L137.3 809.4L138.8 807.8L140.4 806.1L141.9 804.4L143.4 802.8L145.0 801.1L146.5 799.5L148.1 797.9L149.6 796.2L150.0 795.9L151.2 794.6L152.7 793.0L154.3 791.4L155.8 789.9L157.4 788.3L158.9 786.7L160.5 785.2L162.0 783.6L163.5 782.1L165.1 780.6L166.6 779.0L168.2 777.5L169.7 775.9L171.3 774.4L172.8 772.9L172.9 772.8L174.4 771.3L175.9 769.8L177.5 768.3L179.0 766.8L180.5 765.3L182.1 763.8L183.6 762.3L185.2 760.8L186.7 759.3L188.3 757.8L189.8 756.2L191.4 754.7L192.9 753.1L194.5 751.6L195.9 750.1L196.0 750.0L197.6 748.3L199.1 746.7L200.6 745.1L202.2 743.5L203.7 741.9L205.3 740.2L206.8 738.5L208.4 736.8L209.9 735.1L211.5 733.3L213.0 731.5L214.6 729.6L214.9 729.2L216.1 727.7L217.7 725.7L219.2 723.7L220.7 721.6L222.3 719.5L223.8 717.3L225.4 715.1L226.9 712.9L228.5 710.6L229.4 709.2L230.0 708.2L231.6 705.7L233.1 703.2L234.7 700.5L236.2 697.9L237.7 695.2L239.3 692.6L240.6 690.5L240.8 690.1L242.4 687.6L243.9 685.2L245.5 682.8L246.8 680.7L247.0 680.3L248.6 677.9L250.1 675.3L251.5 672.7L251.7 672.5L253.2 668.9L253.4 668.2L254.8 657.7L255.3 651.3L256.3 629.1" fill="none" stroke="#000" stroke-width="1.0" stroke-dasharray="0.8 2.55 3.1 2.55"/><circle cx="118.7" cy="830.1" r="2.0" fill="none" stroke="#000" stroke-width="0.85"/><path d="M116.7 830.1H120.7M118.7 828.1V832.1" fill="none" stroke="#000" stroke-width="0.85"/><circle cx="240.6" cy="690.5" r="2.0" fill="none" stroke="#000" stroke-width="0.85"/><path d="M238.6 690.5H242.6M240.6 688.5V692.5" fill="none" stroke="#000" stroke-width="0.85"/><circle cx="246.8" cy="680.7" r="2.0" fill="none" stroke="#000" stroke-width="0.85"/><path d="M244.8 680.7H248.8M246.8 678.7V682.7" fill="none" stroke="#000" stroke-width="0.85"/><circle cx="251.5" cy="672.7" r="2.0" fill="none" stroke="#000" stroke-width="0.85"/><path d="M249.5 672.7H253.5M251.5 670.7V674.7" fill="none" stroke="#000" stroke-width="0.85"/><circle cx="253.4" cy="668.2" r="2.0" fill="none" stroke="#000" stroke-width="0.85"/><path d="M251.4 668.2H255.4M253.4 666.2V670.2" fill="none" stroke="#000" stroke-width="0.85"/><circle cx="256.3" cy="629.1" r="2.0" fill="none" stroke="#000" stroke-width="0.85"/><path d="M254.3 629.1H258.3M256.3 627.1V631.1" fill="none" stroke="#000" stroke-width="0.85"/><path d="M49.4 851.5L51.7 851.5L54.0 851.5L56.4 851.5L58.7 851.5L61.0 851.5L63.3 851.4L65.7 851.4L68.0 851.4L70.3 851.4L72.6 851.4L75.0 851.3L77.3 851.3L79.6 851.3L81.9 851.2L84.3 851.2L86.6 851.2L88.9 851.1L91.2 851.1L93.6 851.0L95.9 851.0L98.2 850.9L100.5 850.9L102.9 850.8L105.2 850.8L107.5 850.7L109.8 850.7L111.5 850.6L112.2 850.6L114.5 850.5L116.8 850.4L119.1 850.2L121.5 850.1L123.8 849.9L126.1 849.7L128.4 849.6L130.8 849.4L132.2 849.3L133.1 849.2L135.4 849.0L137.7 848.8L140.1 848.7L142.4 848.5L144.7 848.3L147.0 848.0L149.4 847.8L151.7 847.6L154.0 847.4L156.3 847.2L156.8 847.2L158.7 847.0L161.0 846.8L163.3 846.6L165.3 846.4L165.6 846.4L168.0 846.1L170.3 845.7L172.6 845.3L172.9 845.3L174.9 844.9L177.3 844.4L179.6 843.9L180.6 843.7L181.9 843.3L184.2 842.6L186.6 841.8L188.9 840.9L190.5 840.3L191.2 840.0L193.5 839.2L195.9 838.4L198.2 837.5L200.5 836.6L202.8 835.7L205.2 834.6L207.5 833.4L208.9 832.6L209.8 832.1L212.1 830.4L214.5 828.4L216.8 826.2L219.1 823.8L221.4 821.3L223.8 818.8L226.1 816.4L226.5 815.9L228.4 814.0L230.7 811.5L233.1 809.0L235.4 806.4L237.7 803.8L240.0 801.1L241.8 799.0L242.4 798.4L244.7 795.6L247.0 792.8L249.3 789.8L251.7 786.9L254.0 783.9L256.3 780.8" fill="none" stroke="#000" stroke-width="1.0" stroke-dasharray="6 2.6"/><path d="M49.4 848.4L52.1 853.8L46.7 853.8ZM49.4 854.6L52.1 849.2L46.7 849.2Z" fill="none" stroke="#000" stroke-width="0.85"/><path d="M65.5 848.3L68.2 853.8L62.8 853.8ZM65.5 854.5L68.2 849.1L62.8 849.1Z" fill="none" stroke="#000" stroke-width="0.85"/><path d="M104.0 847.7L106.7 853.1L101.3 853.1ZM104.0 853.9L106.7 848.5L101.3 848.5Z" fill="none" stroke="#000" stroke-width="0.85"/><path d="M114.2 847.4L116.9 852.9L111.5 852.9ZM114.2 853.6L116.9 848.2L111.5 848.2Z" fill="none" stroke="#000" stroke-width="0.85"/><path d="M124.1 846.8L126.8 852.2L121.4 852.2ZM124.1 853.0L126.8 847.6L121.4 847.6Z" fill="none" stroke="#000" stroke-width="0.85"/><path d="M133.0 846.1L135.7 851.5L130.3 851.5ZM133.0 852.3L135.7 846.9L130.3 846.9Z" fill="none" stroke="#000" stroke-width="0.85"/><path d="M141.5 845.4L144.2 850.9L138.8 850.9ZM141.5 851.6L144.2 846.2L138.8 846.2Z" fill="none" stroke="#000" stroke-width="0.85"/><path d="M156.8 844.1L159.5 849.5L154.1 849.5ZM156.8 850.3L159.5 844.9L154.1 844.9Z" fill="none" stroke="#000" stroke-width="0.85"/><path d="M165.3 843.3L168.0 848.8L162.6 848.8ZM165.3 849.5L168.0 844.1L162.6 844.1Z" fill="none" stroke="#000" stroke-width="0.85"/><path d="M172.9 842.2L175.6 847.6L170.2 847.6ZM172.9 848.4L175.6 842.9L170.2 842.9Z" fill="none" stroke="#000" stroke-width="0.85"/><path d="M180.6 840.6L183.3 846.0L177.9 846.0ZM180.6 846.8L183.3 841.3L177.9 841.3Z" fill="none" stroke="#000" stroke-width="0.85"/><path d="M190.5 837.2L193.2 842.6L187.8 842.6ZM190.5 843.4L193.2 838.0L187.8 838.0Z" fill="none" stroke="#000" stroke-width="0.85"/><path d="M256.3 777.7L259.0 783.1L253.6 783.1ZM256.3 783.9L259.0 778.4L253.6 778.4Z" fill="none" stroke="#000" stroke-width="0.85"/></g>
<rect x="41.7" y="620.5" width="223.0" height="239.0" fill="none" stroke="#6e6e6e" stroke-width="1"/>
<path d="M49.4 859.5v3.9M90.8 859.5v3.9M132.2 859.5v3.9M173.5 859.5v3.9M214.9 859.5v3.9M256.3 859.5v3.9M41.7 629.1h-3.8M41.7 673.6h-3.8M41.7 718.1h-3.8M41.7 762.5h-3.8M41.7 807.0h-3.8M41.7 851.5h-3.8" stroke="#858585" stroke-width="0.85" fill="none"/>
<text x="49.9" y="876.7" font-size="11.9" text-anchor="middle" textLength="15.6" lengthAdjust="spacingAndGlyphs">0.0</text>
<text x="91.2" y="876.7" font-size="11.9" text-anchor="middle" textLength="15.6" lengthAdjust="spacingAndGlyphs">0.2</text>
<text x="132.5" y="876.7" font-size="11.9" text-anchor="middle" textLength="15.6" lengthAdjust="spacingAndGlyphs">0.4</text>
<text x="174.0" y="876.7" font-size="11.9" text-anchor="middle" textLength="15.6" lengthAdjust="spacingAndGlyphs">0.6</text>
<text x="213.9" y="876.7" font-size="11.9" text-anchor="middle" textLength="15.6" lengthAdjust="spacingAndGlyphs">0.8</text>
<text x="252.7" y="876.7" font-size="11.9" text-anchor="middle" textLength="15.6" lengthAdjust="spacingAndGlyphs">1.0</text>
<text x="32.0" y="633.3" font-size="11.9" text-anchor="end" textLength="5.6" lengthAdjust="spacingAndGlyphs">5</text>
<text x="32.0" y="677.8" font-size="11.9" text-anchor="end" textLength="5.6" lengthAdjust="spacingAndGlyphs">4</text>
<text x="32.0" y="722.3" font-size="11.9" text-anchor="end" textLength="5.6" lengthAdjust="spacingAndGlyphs">3</text>
<text x="32.0" y="766.7" font-size="11.9" text-anchor="end" textLength="5.6" lengthAdjust="spacingAndGlyphs">2</text>
<text x="32.0" y="811.2" font-size="11.9" text-anchor="end" textLength="5.6" lengthAdjust="spacingAndGlyphs">1</text>
<text x="32.0" y="855.7" font-size="11.9" text-anchor="end" textLength="5.6" lengthAdjust="spacingAndGlyphs">0</text>
<text x="152.8" y="891.8" font-size="14.8" text-anchor="middle" textLength="94.2" lengthAdjust="spacingAndGlyphs">Rescaled range</text>
<text x="11.2" y="740.3" font-size="15.0" text-anchor="middle" textLength="52.4" lengthAdjust="spacingAndGlyphs" transform="rotate(-90 11.2 740.3)">I-splines</text>
<text x="47.9" y="635.5" font-size="11.4" textLength="30.5" lengthAdjust="spacingAndGlyphs">Zeta 4</text>
<g><path d="M339.3 852.5L546.3 852.5" fill="none" stroke="#000" stroke-width="1.0"/><circle cx="339.3" cy="852.5" r="2.0" fill="none" stroke="#000" stroke-width="0.85"/><circle cx="356.7" cy="852.5" r="2.0" fill="none" stroke="#000" stroke-width="0.85"/><circle cx="422.7" cy="852.5" r="2.0" fill="none" stroke="#000" stroke-width="0.85"/><circle cx="428.5" cy="852.5" r="2.0" fill="none" stroke="#000" stroke-width="0.85"/><circle cx="436.2" cy="852.5" r="2.0" fill="none" stroke="#000" stroke-width="0.85"/><circle cx="446.9" cy="852.5" r="2.0" fill="none" stroke="#000" stroke-width="0.85"/><circle cx="456.0" cy="852.5" r="2.0" fill="none" stroke="#000" stroke-width="0.85"/><circle cx="468.3" cy="852.5" r="2.0" fill="none" stroke="#000" stroke-width="0.85"/><circle cx="472.8" cy="852.5" r="2.0" fill="none" stroke="#000" stroke-width="0.85"/><circle cx="485.2" cy="852.5" r="2.0" fill="none" stroke="#000" stroke-width="0.85"/><circle cx="498.9" cy="852.5" r="2.0" fill="none" stroke="#000" stroke-width="0.85"/><circle cx="517.3" cy="852.5" r="2.0" fill="none" stroke="#000" stroke-width="0.85"/><circle cx="546.3" cy="852.5" r="2.0" fill="none" stroke="#000" stroke-width="0.85"/><path d="M339.3 852.5L341.6 852.5L344.0 852.5L346.3 852.5L348.6 852.4L350.9 852.4L353.3 852.3L355.6 852.3L357.9 852.2L360.2 852.2L362.6 852.1L364.9 852.0L367.2 851.9L369.5 851.8L371.9 851.7L374.2 851.7L376.5 851.5L378.8 851.4L380.7 851.4L381.2 851.3L383.5 851.2L385.8 851.0L388.1 850.7L390.5 850.4L392.8 850.1L395.1 849.7L397.4 849.4L399.8 849.1L402.1 848.8L403.5 848.6L404.4 848.5L406.7 848.2L409.1 848.0L411.4 847.8L413.7 847.5L415.1 847.3L416.1 847.2L418.4 846.9L420.7 846.6L423.0 846.3L425.4 846.0L427.7 845.7L430.0 845.3L431.8 845.0L432.3 845.0L434.7 844.5L437.0 844.1L439.3 843.6L441.6 843.1L441.8 843.1L444.0 842.7L446.3 842.3L448.6 841.9L450.9 841.5L452.3 841.3L453.3 841.1L455.6 840.5L457.9 840.0L460.2 839.4L462.6 838.8L464.9 838.1L467.2 837.5L467.2 837.5L469.5 836.8L471.9 836.1L474.2 835.4L476.5 834.6L478.9 833.8L481.2 833.0L483.5 832.2L485.8 831.4L486.7 831.0L488.2 830.5L490.5 829.6L492.8 828.6L495.1 827.6L497.5 826.6L499.8 825.5L502.1 824.5L504.4 823.4L506.8 822.3L509.1 821.1L511.4 820.0L513.7 818.8L515.2 818.1L516.1 817.7L518.4 816.5L520.7 815.3L523.0 814.0L525.4 812.8L527.7 811.5L530.0 810.2L532.3 808.9L534.7 807.6L537.0 806.2L539.3 804.9L541.6 803.5L544.0 802.1L546.3 800.6" fill="none" stroke="#000" stroke-width="1.0" stroke-dasharray="3.2 3.2"/><path d="M339.3 849.4L342.0 854.1L336.6 854.1Z" fill="none" stroke="#000" stroke-width="0.85"/><path d="M387.3 847.7L390.0 852.3L384.6 852.3Z" fill="none" stroke="#000" stroke-width="0.85"/><path d="M403.5 845.5L406.2 850.2L400.8 850.2Z" fill="none" stroke="#000" stroke-width="0.85"/><path d="M415.1 844.2L417.8 848.9L412.4 848.9Z" fill="none" stroke="#000" stroke-width="0.85"/><path d="M431.8 841.9L434.5 846.6L429.1 846.6Z" fill="none" stroke="#000" stroke-width="0.85"/><path d="M441.8 840.0L444.5 844.6L439.1 844.6Z" fill="none" stroke="#000" stroke-width="0.85"/><path d="M452.3 838.1L455.0 842.8L449.6 842.8Z" fill="none" stroke="#000" stroke-width="0.85"/><path d="M467.2 834.4L469.9 839.0L464.5 839.0Z" fill="none" stroke="#000" stroke-width="0.85"/><path d="M486.7 827.9L489.4 832.6L484.0 832.6Z" fill="none" stroke="#000" stroke-width="0.85"/><path d="M546.3 797.5L549.0 802.2L543.6 802.2Z" fill="none" stroke="#000" stroke-width="0.85"/><path d="M339.3 852.5L546.3 852.5" fill="none" stroke="#000" stroke-width="1.0" stroke-dasharray="0.9 2.6"/><path d="M336.5 852.5H342.1M339.3 849.7V855.3" fill="none" stroke="#000" stroke-width="0.85"/><path d="M437.9 852.5H443.6M440.7 849.7V855.3" fill="none" stroke="#000" stroke-width="0.85"/><path d="M460.1 852.5H465.7M462.9 849.7V855.3" fill="none" stroke="#000" stroke-width="0.85"/><path d="M469.0 852.5H474.6M471.8 849.7V855.3" fill="none" stroke="#000" stroke-width="0.85"/><path d="M479.9 852.5H485.6M482.8 849.7V855.3" fill="none" stroke="#000" stroke-width="0.85"/><path d="M492.8 852.5H498.4M495.6 849.7V855.3" fill="none" stroke="#000" stroke-width="0.85"/><path d="M543.5 852.5H549.1M546.3 849.7V855.3" fill="none" stroke="#000" stroke-width="0.85"/><path d="M339.3 852.5L341.6 852.5L344.0 852.5L346.3 852.5L348.6 852.5L350.9 852.5L353.3 852.5L355.6 852.5L357.9 852.5L360.2 852.5L362.6 852.5L364.9 852.5L367.2 852.5L369.5 852.5L371.9 852.5L374.2 852.4L376.5 852.4L378.8 852.4L381.2 852.4L383.5 852.4L385.8 852.4L388.1 852.4L390.5 852.4L392.8 852.4L395.1 852.4L397.4 852.4L399.8 852.3L402.1 852.3L404.4 852.3L406.7 852.3L409.1 852.3L411.4 852.3L413.7 852.3L416.1 852.2L418.4 852.2L420.7 852.2L423.0 852.2L425.4 852.2L427.7 852.2L430.0 852.1L432.3 852.1L434.7 852.1L437.0 852.1L439.3 852.1L441.6 852.1L442.8 852.0L444.0 852.0L446.3 852.0L448.6 852.0L450.9 851.9L453.3 851.9L455.6 851.9L457.9 851.8L460.2 851.8L462.6 851.7L464.9 851.6L467.2 851.6L469.5 851.5L471.9 851.4L474.2 851.3L476.5 851.2L478.9 851.1L481.2 851.0L483.5 850.9L485.8 850.7L488.2 850.6L490.5 850.5L492.8 850.3L494.5 850.2L495.1 850.2L497.5 849.9L499.8 849.6L502.1 849.1L504.4 848.6L506.8 848.0L509.1 847.4L511.4 846.7L513.7 846.1L515.2 845.6L516.1 845.4L518.4 844.6L520.7 843.8L523.0 842.9L525.4 841.9L527.7 840.9L530.0 839.8L532.3 838.7L534.7 837.5L537.0 836.2L539.3 834.9L541.6 833.6L544.0 832.2L546.3 830.7" fill="none" stroke="#000" stroke-width="1.0" stroke-dasharray="0.8 2.55 3.1 2.55"/><path d="M337.3 850.5L341.3 854.5M337.3 854.5L341.3 850.5" fill="none" stroke="#000" stroke-width="0.85"/><path d="M367.5 850.5L371.5 854.5M367.5 854.5L371.5 850.5" fill="none" stroke="#000" stroke-width="0.85"/><path d="M377.7 850.4L381.7 854.4M377.7 854.4L381.7 850.4" fill="none" stroke="#000" stroke-width="0.85"/><path d="M390.3 850.4L394.3 854.4M390.3 854.4L394.3 850.4" fill="none" stroke="#000" stroke-width="0.85"/><path d="M403.1 850.3L407.1 854.3M403.1 854.3L407.1 850.3" fill="none" stroke="#000" stroke-width="0.85"/><path d="M412.9 850.3L416.9 854.3M412.9 854.3L416.9 850.3" fill="none" stroke="#000" stroke-width="0.85"/><path d="M428.2 850.1L432.2 854.1M428.2 854.1L432.2 850.1" fill="none" stroke="#000" stroke-width="0.85"/><path d="M443.5 850.0L447.5 854.0M443.5 854.0L447.5 850.0" fill="none" stroke="#000" stroke-width="0.85"/><path d="M473.1 849.3L477.1 853.3M473.1 853.3L477.1 849.3" fill="none" stroke="#000" stroke-width="0.85"/><path d="M544.3 828.7L548.3 832.7M544.3 832.7L548.3 828.7" fill="none" stroke="#000" stroke-width="0.85"/><path d="M339.3 852.5L341.6 852.5L344.0 852.5L346.3 852.5L348.6 852.5L350.9 852.5L353.3 852.5L355.6 852.5L357.9 852.5L360.2 852.5L362.6 852.5L364.9 852.5L367.2 852.5L369.5 852.5L371.9 852.5L374.2 852.5L376.5 852.5L378.8 852.5L381.2 852.5L383.5 852.5L385.8 852.5L388.1 852.5L390.5 852.5L392.8 852.5L395.1 852.5L397.4 852.4L399.8 852.4L402.1 852.4L404.4 852.4L406.7 852.4L409.1 852.4L411.4 852.4L413.7 852.4L416.1 852.4L418.4 852.4L420.7 852.4L423.0 852.4L425.4 852.4L427.7 852.4L430.0 852.4L432.3 852.3L434.7 852.3L437.0 852.3L439.3 852.3L441.6 852.3L444.0 852.3L446.3 852.3L448.6 852.3L450.9 852.3L453.3 852.2L455.6 852.2L457.9 852.2L460.2 852.2L462.6 852.2L464.9 852.2L467.2 852.2L469.5 852.1L471.9 852.1L474.2 852.1L476.5 852.1L478.9 852.1L481.2 852.1L483.5 852.0L484.2 852.0L485.8 852.0L488.2 851.9L490.5 851.8L492.8 851.6L495.1 851.4L497.5 851.1L499.8 850.7L502.1 850.4L504.4 850.0L506.8 849.6L509.1 849.2L511.4 848.7L513.7 848.2L515.2 847.9L516.1 847.7L518.4 847.1L520.7 846.4L523.0 845.6L525.4 844.7L527.7 843.6L530.0 842.5L532.3 841.3L534.7 840.0L537.0 838.7L539.3 837.2L541.6 835.8L544.0 834.3L546.3 832.8" fill="none" stroke="#000" stroke-width="1.0" stroke-dasharray="6 2.6"/><path d="M339.3 849.7L342.1 852.5L339.3 855.3L336.5 852.5Z" fill="none" stroke="#000" stroke-width="0.85"/><path d="M347.8 849.7L350.6 852.5L347.8 855.3L345.0 852.5Z" fill="none" stroke="#000" stroke-width="0.85"/><path d="M359.0 849.7L361.8 852.5L359.0 855.3L356.1 852.5Z" fill="none" stroke="#000" stroke-width="0.85"/><path d="M367.9 849.7L370.7 852.5L367.9 855.3L365.0 852.5Z" fill="none" stroke="#000" stroke-width="0.85"/><path d="M374.5 849.7L377.3 852.5L374.5 855.3L371.7 852.5Z" fill="none" stroke="#000" stroke-width="0.85"/><path d="M384.4 849.6L387.3 852.5L384.4 855.3L381.6 852.5Z" fill="none" stroke="#000" stroke-width="0.85"/><path d="M394.6 849.6L397.4 852.5L394.6 855.3L391.7 852.5Z" fill="none" stroke="#000" stroke-width="0.85"/><path d="M409.3 849.6L412.1 852.4L409.3 855.2L406.4 852.4Z" fill="none" stroke="#000" stroke-width="0.85"/><path d="M442.4 849.5L445.2 852.3L442.4 855.1L439.6 852.3Z" fill="none" stroke="#000" stroke-width="0.85"/><path d="M546.3 829.9L549.1 832.8L546.3 835.6L543.5 832.8Z" fill="none" stroke="#000" stroke-width="0.85"/><path d="M339.3 852.5L341.6 852.5L344.0 852.5L346.3 852.5L348.6 852.5L350.9 852.5L353.3 852.5L355.6 852.5L357.9 852.5L360.2 852.4L362.6 852.4L364.9 852.4L367.2 852.4L369.5 852.4L371.9 852.4L374.2 852.4L376.5 852.3L378.8 852.3L381.2 852.3L383.5 852.3L385.8 852.2L388.1 852.2L390.5 852.2L392.8 852.2L395.1 852.1L397.4 852.1L399.8 852.1L402.1 852.1L404.4 852.0L406.7 852.0L409.1 852.0L411.4 851.9L413.7 851.9L416.1 851.8L418.4 851.8L420.7 851.8L423.0 851.7L425.4 851.7L427.7 851.6L430.0 851.6L432.3 851.6L434.7 851.5L437.0 851.5L439.3 851.4L441.6 851.4L442.8 851.4L444.0 851.3L446.3 851.3L448.6 851.2L450.9 851.1L453.3 851.0L455.6 850.9L457.9 850.8L460.2 850.7L462.6 850.5L464.9 850.4L467.2 850.2L469.5 850.1L471.9 849.9L474.2 849.8L476.5 849.6L478.9 849.4L481.2 849.3L483.5 849.1L484.2 849.1L485.8 848.9L488.2 848.8L490.5 848.6L492.8 848.5L495.1 848.3L497.5 848.1L499.8 847.9L502.1 847.7L504.4 847.5L506.8 847.2L509.1 846.8L509.7 846.8L511.4 846.4L513.7 845.8L516.1 845.1L518.4 844.2L520.7 843.2L523.0 842.2L525.4 841.1L525.6 841.0L527.7 840.1L530.0 838.9L532.3 837.7L534.7 836.3L537.0 834.9L539.3 833.5L541.6 831.9L544.0 830.3L546.3 828.6" fill="none" stroke="#000" stroke-width="1.0" stroke-dasharray="1.8 1.8 5 1.8"/><path d="M339.3 855.6L342.0 850.9L336.6 850.9Z" fill="none" stroke="#000" stroke-width="0.85"/><path d="M456.5 854.0L459.2 849.3L453.8 849.3Z" fill="none" stroke="#000" stroke-width="0.85"/><path d="M468.3 853.3L471.0 848.6L465.6 848.6Z" fill="none" stroke="#000" stroke-width="0.85"/><path d="M476.5 852.7L479.2 848.0L473.8 848.0Z" fill="none" stroke="#000" stroke-width="0.85"/><path d="M485.2 852.1L487.9 847.4L482.5 847.4Z" fill="none" stroke="#000" stroke-width="0.85"/><path d="M489.6 851.8L492.3 847.1L486.9 847.1Z" fill="none" stroke="#000" stroke-width="0.85"/><path d="M494.3 851.5L497.0 846.8L491.6 846.8Z" fill="none" stroke="#000" stroke-width="0.85"/><path d="M501.6 850.9L504.3 846.2L498.9 846.2Z" fill="none" stroke="#000" stroke-width="0.85"/><path d="M509.7 849.9L512.4 845.2L507.0 845.2Z" fill="none" stroke="#000" stroke-width="0.85"/><path d="M546.3 831.7L549.0 827.1L543.6 827.1Z" fill="none" stroke="#000" stroke-width="0.85"/><path d="M339.3 852.5L546.3 852.5" fill="none" stroke="#000" stroke-width="1.0"/><path d="M337.3 850.5H341.3V854.5H337.3ZM337.3 850.5L341.3 854.5M337.3 854.5L341.3 850.5" fill="none" stroke="#000" stroke-width="0.85"/><path d="M354.7 850.5H358.7V854.5H354.7ZM354.7 850.5L358.7 854.5M354.7 854.5L358.7 850.5" fill="none" stroke="#000" stroke-width="0.85"/><path d="M446.4 850.5H450.4V854.5H446.4ZM446.4 850.5L450.4 854.5M446.4 854.5L450.4 850.5" fill="none" stroke="#000" stroke-width="0.85"/><path d="M461.1 850.5H465.1V854.5H461.1ZM461.1 850.5L465.1 854.5M461.1 854.5L465.1 850.5" fill="none" stroke="#000" stroke-width="0.85"/><path d="M476.4 850.5H480.4V854.5H476.4ZM476.4 850.5L480.4 854.5M476.4 854.5L480.4 850.5" fill="none" stroke="#000" stroke-width="0.85"/><path d="M484.7 850.5H488.7V854.5H484.7ZM484.7 850.5L488.7 854.5M484.7 854.5L488.7 850.5" fill="none" stroke="#000" stroke-width="0.85"/><path d="M496.1 850.5H500.1V854.5H496.1ZM496.1 850.5L500.1 854.5M496.1 854.5L500.1 850.5" fill="none" stroke="#000" stroke-width="0.85"/><path d="M507.7 850.5H511.7V854.5H507.7ZM507.7 850.5L511.7 854.5M507.7 854.5L511.7 850.5" fill="none" stroke="#000" stroke-width="0.85"/><path d="M515.9 850.5H519.9V854.5H515.9ZM515.9 850.5L519.9 854.5M515.9 854.5L519.9 850.5" fill="none" stroke="#000" stroke-width="0.85"/><path d="M525.3 850.5H529.3V854.5H525.3ZM525.3 850.5L529.3 854.5M525.3 854.5L529.3 850.5" fill="none" stroke="#000" stroke-width="0.85"/><path d="M544.3 850.5H548.3V854.5H544.3ZM544.3 850.5L548.3 854.5M544.3 854.5L548.3 850.5" fill="none" stroke="#000" stroke-width="0.85"/><path d="M339.3 852.5L339.9 843.3L341.6 839.3L341.8 839.2L344.0 838.6L346.3 838.3L348.6 838.0L348.6 838.0L350.9 837.6L353.3 837.2L355.6 836.8L357.9 836.4L360.2 836.0L362.6 835.5L364.9 835.1L367.2 834.7L369.5 834.3L371.9 833.8L374.2 833.4L376.5 833.0L378.8 832.6L380.7 832.3L381.2 832.2L383.5 831.8L385.8 831.4L388.1 831.0L390.5 830.6L392.8 830.2L395.1 829.8L397.4 829.3L399.8 828.9L402.1 828.5L404.4 828.1L406.7 827.6L409.1 827.2L411.4 826.8L413.7 826.4L416.1 826.0L418.4 825.6L420.7 825.2L423.0 824.9L425.4 824.5L427.7 824.1L430.0 823.8L432.3 823.5L434.7 823.2L437.0 822.9L439.3 822.6L441.6 822.4L444.0 822.1L446.3 821.9L448.6 821.7L449.8 821.6L450.9 821.6L453.3 821.4L455.6 821.2L457.9 821.1L460.2 821.0L462.6 820.8L464.9 820.7L467.2 820.6L469.5 820.5L471.9 820.4L474.2 820.3L476.5 820.2L478.9 820.1L481.2 820.0L483.5 819.9L484.2 819.9L485.8 819.9L488.2 819.8L490.5 819.7L492.8 819.7L495.1 819.6L497.5 819.5L499.8 819.5L502.1 819.4L504.4 819.4L506.8 819.3L509.1 819.2L511.4 819.2L513.7 819.1L516.1 819.0L516.7 819.0L518.4 818.9L520.7 818.8L523.0 818.7L525.4 818.6L527.7 818.4L530.0 818.3L532.3 818.1L534.7 818.0L537.0 817.8L539.3 817.6L541.6 817.4L544.0 817.2L546.3 817.0" fill="none" stroke="#000" stroke-width="1.0" stroke-dasharray="3.2 3.2"/><path d="M337.3 848.2L341.3 852.2M337.3 852.2L341.3 848.2M336.5 850.2H342.1M339.3 847.4V853.0" fill="none" stroke="#000" stroke-width="0.85"/><path d="M337.5 845.9L341.5 849.9M337.5 849.9L341.5 845.9M336.7 847.9H342.3M339.5 845.1V850.7" fill="none" stroke="#000" stroke-width="0.85"/><path d="M337.7 843.2L341.7 847.2M337.7 847.2L341.7 843.2M336.9 845.2H342.5M339.7 842.3V848.0" fill="none" stroke="#000" stroke-width="0.85"/><path d="M338.1 840.9L342.1 844.9M338.1 844.9L342.1 840.9M337.3 842.9H343.0M340.1 840.0V845.7" fill="none" stroke="#000" stroke-width="0.85"/><path d="M339.0 838.6L343.0 842.6M339.0 842.6L343.0 838.6M338.1 840.6H343.8M341.0 837.7V843.4" fill="none" stroke="#000" stroke-width="0.85"/><path d="M340.2 837.2L344.2 841.2M340.2 841.2L344.2 837.2M339.4 839.2H345.0M342.2 836.4V842.0" fill="none" stroke="#000" stroke-width="0.85"/><path d="M341.9 836.7L345.9 840.7M341.9 840.7L345.9 836.7M341.0 838.7H346.7M343.9 835.9V841.6" fill="none" stroke="#000" stroke-width="0.85"/><path d="M343.9 836.3L347.9 840.3M343.9 840.3L347.9 836.3M343.1 838.3H348.8M345.9 835.4V841.1" fill="none" stroke="#000" stroke-width="0.85"/><path d="M346.6 836.0L350.6 840.0M346.6 840.0L350.6 836.0M345.8 838.0H351.4M348.6 835.2V840.9" fill="none" stroke="#000" stroke-width="0.85"/><path d="M544.3 815.0L548.3 819.0M544.3 819.0L548.3 815.0M543.5 817.0H549.1M546.3 814.2V819.9" fill="none" stroke="#000" stroke-width="0.85"/><path d="M339.3 852.5L546.3 852.5" fill="none" stroke="#000" stroke-width="1.0" stroke-dasharray="0.9 2.6"/><path d="M339.3 849.7L342.1 852.5L339.3 855.3L336.5 852.5ZM336.5 852.5H342.1M339.3 849.7V855.3" fill="none" stroke="#000" stroke-width="0.85"/><path d="M356.5 849.7L359.3 852.5L356.5 855.3L353.7 852.5ZM353.7 852.5H359.3M356.5 849.7V855.3" fill="none" stroke="#000" stroke-width="0.85"/><path d="M375.7 849.7L378.6 852.5L375.7 855.3L372.9 852.5ZM372.9 852.5H378.6M375.7 849.7V855.3" fill="none" stroke="#000" stroke-width="0.85"/><path d="M390.2 849.7L393.1 852.5L390.2 855.3L387.4 852.5ZM387.4 852.5H393.1M390.2 849.7V855.3" fill="none" stroke="#000" stroke-width="0.85"/><path d="M406.4 849.7L409.2 852.5L406.4 855.3L403.5 852.5ZM403.5 852.5H409.2M406.4 849.7V855.3" fill="none" stroke="#000" stroke-width="0.85"/><path d="M504.3 849.7L507.1 852.5L504.3 855.3L501.5 852.5ZM501.5 852.5H507.1M504.3 849.7V855.3" fill="none" stroke="#000" stroke-width="0.85"/><path d="M546.3 849.7L549.1 852.5L546.3 855.3L543.5 852.5ZM543.5 852.5H549.1M546.3 849.7V855.3" fill="none" stroke="#000" stroke-width="0.85"/><path d="M450.9 733.2L527.9 657.0L536.6 648.7L540.3 645.0L543.4 642.0L546.3 631.0" fill="none" stroke="#000" stroke-width="1.0" stroke-dasharray="0.8 2.55 3.1 2.55"/><circle cx="450.9" cy="733.2" r="2.0" fill="none" stroke="#000" stroke-width="0.85"/><path d="M448.9 733.2H452.9M450.9 731.2V735.2" fill="none" stroke="#000" stroke-width="0.85"/><circle cx="527.9" cy="657.0" r="2.0" fill="none" stroke="#000" stroke-width="0.85"/><path d="M525.9 657.0H529.9M527.9 655.0V659.0" fill="none" stroke="#000" stroke-width="0.85"/><circle cx="536.6" cy="648.7" r="2.0" fill="none" stroke="#000" stroke-width="0.85"/><path d="M534.6 648.7H538.6M536.6 646.7V650.7" fill="none" stroke="#000" stroke-width="0.85"/><circle cx="540.3" cy="645.0" r="2.0" fill="none" stroke="#000" stroke-width="0.85"/><path d="M538.3 645.0H542.3M540.3 643.0V647.0" fill="none" stroke="#000" stroke-width="0.85"/><circle cx="543.4" cy="642.0" r="2.0" fill="none" stroke="#000" stroke-width="0.85"/><path d="M541.4 642.0H545.4M543.4 640.0V644.0" fill="none" stroke="#000" stroke-width="0.85"/><circle cx="546.3" cy="631.0" r="2.0" fill="none" stroke="#000" stroke-width="0.85"/><path d="M544.3 631.0H548.3M546.3 629.0V633.0" fill="none" stroke="#000" stroke-width="0.85"/><path d="M339.3 852.5L341.6 852.5L344.0 852.5L346.3 852.5L348.6 852.5L350.9 852.5L353.3 852.5L355.6 852.5L357.9 852.4L360.2 852.4L362.6 852.4L364.9 852.4L367.2 852.4L369.5 852.3L371.9 852.3L374.2 852.3L376.5 852.3L378.8 852.2L381.2 852.2L383.5 852.2L385.8 852.1L388.1 852.1L390.5 852.0L392.8 852.0L395.1 852.0L397.4 851.9L399.8 851.9L402.1 851.8L404.4 851.8L406.7 851.7L409.1 851.7L411.4 851.6L413.7 851.6L416.1 851.5L418.4 851.4L420.7 851.4L422.1 851.4L423.0 851.3L425.4 851.2L427.7 851.1L430.0 851.0L432.3 850.9L434.7 850.7L437.0 850.5L439.3 850.4L441.6 850.2L444.0 849.9L446.3 849.7L448.6 849.5L450.9 849.3L453.1 849.1L453.3 849.0L455.6 848.8L457.9 848.5L460.2 848.2L462.6 847.9L464.9 847.5L467.2 847.1L469.5 846.7L471.9 846.4L474.2 846.0L476.5 845.6L478.9 845.2L479.0 845.2L481.2 844.8L483.5 844.4L485.8 844.0L488.2 843.6L490.5 843.2L492.1 842.9L492.8 842.7L495.1 842.2L497.5 841.6L499.8 841.0L502.1 840.4L504.4 839.7L506.8 839.1L509.1 838.4L511.4 837.6L513.7 836.9L515.2 836.4L516.1 836.2L518.4 835.4L520.7 834.6L523.0 833.8L525.4 833.0L527.7 832.2L530.0 831.3L532.3 830.4L534.7 829.5L537.0 828.6L539.3 827.7L541.6 826.7L544.0 825.7L546.3 824.7" fill="none" stroke="#000" stroke-width="1.0" stroke-dasharray="6 2.6"/><path d="M339.3 849.4L342.0 854.8L336.6 854.8ZM339.3 855.6L342.0 850.2L336.6 850.2Z" fill="none" stroke="#000" stroke-width="0.85"/><path d="M355.4 849.3L358.1 854.8L352.8 854.8ZM355.4 855.6L358.1 850.1L352.8 850.1Z" fill="none" stroke="#000" stroke-width="0.85"/><path d="M393.9 848.9L396.6 854.3L391.3 854.3ZM393.9 855.1L396.6 849.6L391.3 849.6Z" fill="none" stroke="#000" stroke-width="0.85"/><path d="M404.1 848.7L406.8 854.1L401.4 854.1ZM404.1 854.9L406.8 849.4L401.4 849.4Z" fill="none" stroke="#000" stroke-width="0.85"/><path d="M414.0 848.4L416.7 853.9L411.3 853.9ZM414.0 854.7L416.7 849.2L411.3 849.2Z" fill="none" stroke="#000" stroke-width="0.85"/><path d="M422.9 848.2L425.6 853.7L420.2 853.7ZM422.9 854.4L425.6 849.0L420.2 849.0Z" fill="none" stroke="#000" stroke-width="0.85"/><path d="M431.4 847.8L434.1 853.3L428.7 853.3ZM431.4 854.0L434.1 848.6L428.7 848.6Z" fill="none" stroke="#000" stroke-width="0.85"/><path d="M443.0 846.9L445.7 852.4L440.3 852.4ZM443.0 853.1L445.7 847.7L440.3 847.7Z" fill="none" stroke="#000" stroke-width="0.85"/><path d="M455.2 845.7L457.9 851.2L452.5 851.2ZM455.2 851.9L457.9 846.5L452.5 846.5Z" fill="none" stroke="#000" stroke-width="0.85"/><path d="M465.8 844.3L468.5 849.7L463.1 849.7ZM465.8 850.5L468.5 845.0L463.1 845.0Z" fill="none" stroke="#000" stroke-width="0.85"/><path d="M479.0 842.0L481.7 847.5L476.3 847.5ZM479.0 848.3L481.7 842.8L476.3 842.8Z" fill="none" stroke="#000" stroke-width="0.85"/><path d="M492.1 839.8L494.8 845.2L489.4 845.2ZM492.1 846.0L494.8 840.5L489.4 840.5Z" fill="none" stroke="#000" stroke-width="0.85"/><path d="M546.3 821.6L549.0 827.1L543.6 827.1ZM546.3 827.8L549.0 822.4L543.6 822.4Z" fill="none" stroke="#000" stroke-width="0.85"/></g>
<rect x="331.8" y="621.9" width="223.0" height="239.4" fill="none" stroke="#6e6e6e" stroke-width="1"/>
<path d="M339.3 861.3v3.9M380.7 861.3v3.9M422.1 861.3v3.9M463.5 861.3v3.9M504.9 861.3v3.9M546.3 861.3v3.9M331.8 622.8h-3.8M331.8 668.9h-3.8M331.8 714.8h-3.8M331.8 760.7h-3.8M331.8 806.6h-3.8M331.8 852.6h-3.8" stroke="#858585" stroke-width="0.85" fill="none"/>
<text x="339.8" y="876.8" font-size="11.9" text-anchor="middle" textLength="15.6" lengthAdjust="spacingAndGlyphs">0.0</text>
<text x="381.2" y="876.8" font-size="11.9" text-anchor="middle" textLength="15.6" lengthAdjust="spacingAndGlyphs">0.2</text>
<text x="422.6" y="876.8" font-size="11.9" text-anchor="middle" textLength="15.6" lengthAdjust="spacingAndGlyphs">0.4</text>
<text x="464.0" y="876.8" font-size="11.9" text-anchor="middle" textLength="15.6" lengthAdjust="spacingAndGlyphs">0.6</text>
<text x="505.6" y="876.8" font-size="11.9" text-anchor="middle" textLength="15.6" lengthAdjust="spacingAndGlyphs">0.8</text>
<text x="546.3" y="876.8" font-size="11.9" text-anchor="middle" textLength="15.6" lengthAdjust="spacingAndGlyphs">1.0</text>
<text x="323.6" y="627.0" font-size="11.9" text-anchor="end" textLength="11.4" lengthAdjust="spacingAndGlyphs">10</text>
<text x="322.1" y="673.1" font-size="11.9" text-anchor="end" textLength="5.6" lengthAdjust="spacingAndGlyphs">8</text>
<text x="322.1" y="719.0" font-size="11.9" text-anchor="end" textLength="5.6" lengthAdjust="spacingAndGlyphs">6</text>
<text x="322.1" y="764.9" font-size="11.9" text-anchor="end" textLength="5.6" lengthAdjust="spacingAndGlyphs">4</text>
<text x="322.1" y="810.8" font-size="11.9" text-anchor="end" textLength="5.6" lengthAdjust="spacingAndGlyphs">2</text>
<text x="322.1" y="856.8" font-size="11.9" text-anchor="end" textLength="5.6" lengthAdjust="spacingAndGlyphs">0</text>
<text x="442.8" y="891.8" font-size="14.8" text-anchor="middle" textLength="94.2" lengthAdjust="spacingAndGlyphs">Rescaled range</text>
<text x="301.4" y="741.9" font-size="15.0" text-anchor="middle" textLength="52.4" lengthAdjust="spacingAndGlyphs" transform="rotate(-90 301.4 741.9)">I-splines</text>
<text x="340.2" y="635.5" font-size="11.4" textLength="30.5" lengthAdjust="spacingAndGlyphs">Zeta 4</text>
<path d="M576.1 37.0H589.6" stroke="#000" stroke-width="0.85" fill="none"/>
<circle cx="582.8" cy="37.0" r="3.2" fill="none" stroke="#000" stroke-width="0.9"/>
<text x="596.3" y="40.8" font-size="11.8" textLength="67.6" lengthAdjust="spacingAndGlyphs">Isothermality</text>
<path d="M576.1 56.7H589.6" stroke="#000" stroke-width="0.85" fill="none" stroke-dasharray="2.4 3.2"/>
<path d="M582.8 51.7L587.1 59.2L578.5 59.2Z" fill="none" stroke="#000" stroke-width="0.9"/>
<text x="596.3" y="58.5" font-size="11.8" textLength="125.3" lengthAdjust="spacingAndGlyphs">Temperature seasonality</text>
<path d="M576.1 73.4H589.6" stroke="#000" stroke-width="0.85" fill="none" stroke-dasharray="1 3"/>
<path d="M578.3 73.4H587.3M582.8 68.9V77.9" fill="none" stroke="#000" stroke-width="0.9"/>
<text x="596.3" y="76.1" font-size="11.8" textLength="124.3" lengthAdjust="spacingAndGlyphs">Precipitation seasonality</text>
<path d="M576.1 91.3H589.6" stroke="#000" stroke-width="0.85" fill="none" stroke-dasharray="1 3 4 3"/>
<path d="M579.6 88.1L586.0 94.5M579.6 94.5L586.0 88.1" fill="none" stroke="#000" stroke-width="0.9"/>
<text x="596.3" y="94.5" font-size="11.8" textLength="180.2" lengthAdjust="spacingAndGlyphs">Precipitation of the wettest quarter</text>
<path d="M576.1 113.5H589.6" stroke="#000" stroke-width="0.85" fill="none" stroke-dasharray="8.6 4"/>
<path d="M582.8 109.0L587.3 113.5L582.8 118.0L578.3 113.5Z" fill="none" stroke="#000" stroke-width="0.9"/>
<text x="596.3" y="116.6" font-size="11.8" textLength="186.3" lengthAdjust="spacingAndGlyphs">Precipitation of the warmest quarter</text>
<path d="M576.1 134.5H589.6" stroke="#000" stroke-width="0.85" fill="none" stroke-dasharray="2 2 6 2"/>
<path d="M582.8 139.5L587.1 132.0L578.5 132.0Z" fill="none" stroke="#000" stroke-width="0.9"/>
<text x="596.3" y="138.7" font-size="11.8" textLength="34.6" lengthAdjust="spacingAndGlyphs">Aspect</text>
<path d="M576.1 158.9H589.6" stroke="#000" stroke-width="0.85" fill="none"/>
<path d="M579.6 155.7H586.0V162.1H579.6ZM579.6 155.7L586.0 162.1M579.6 162.1L586.0 155.7" fill="none" stroke="#000" stroke-width="0.9"/>
<text x="596.3" y="162.4" font-size="11.8" textLength="28.3" lengthAdjust="spacingAndGlyphs">Slope</text>
<path d="M576.1 181.4H589.6" stroke="#000" stroke-width="0.85" fill="none" stroke-dasharray="2.4 3.2"/>
<path d="M579.6 178.2L586.0 184.6M579.6 184.6L586.0 178.2M578.3 181.4H587.3M582.8 176.9V185.9" fill="none" stroke="#000" stroke-width="0.9"/>
<text x="596.3" y="184.8" font-size="11.8" textLength="135.2" lengthAdjust="spacingAndGlyphs">Human population density</text>
<path d="M576.1 201.9H589.6" stroke="#000" stroke-width="0.85" fill="none" stroke-dasharray="1 3"/>
<path d="M582.8 197.4L587.3 201.9L582.8 206.4L578.3 201.9ZM578.3 201.9H587.3M582.8 197.4V206.4" fill="none" stroke="#000" stroke-width="0.9"/>
<text x="596.3" y="206.0" font-size="11.8" textLength="99.2" lengthAdjust="spacingAndGlyphs">% Human land uses</text>
<path d="M576.1 221.9H589.6" stroke="#000" stroke-width="0.85" fill="none" stroke-dasharray="1 3 4 3"/>
<circle cx="582.8" cy="221.9" r="3.2" fill="none" stroke="#000" stroke-width="0.9"/><path d="M579.6 221.9H586.0M582.8 218.7V225.1" fill="none" stroke="#000" stroke-width="0.9"/>
<text x="596.3" y="225.9" font-size="11.8" textLength="106.6" lengthAdjust="spacingAndGlyphs">1- Non-endemic Zeta</text>
<path d="M576.1 243.0H589.6" stroke="#000" stroke-width="0.85" fill="none" stroke-dasharray="8.6 4"/>
<path d="M582.8 238.0L587.1 246.7L578.5 246.7ZM582.8 248.0L587.1 239.3L578.5 239.3Z" fill="none" stroke="#000" stroke-width="0.9"/>
<text x="596.3" y="246.8" font-size="11.8" textLength="43.8" lengthAdjust="spacingAndGlyphs">Distance</text>
</svg>
</body></html>
